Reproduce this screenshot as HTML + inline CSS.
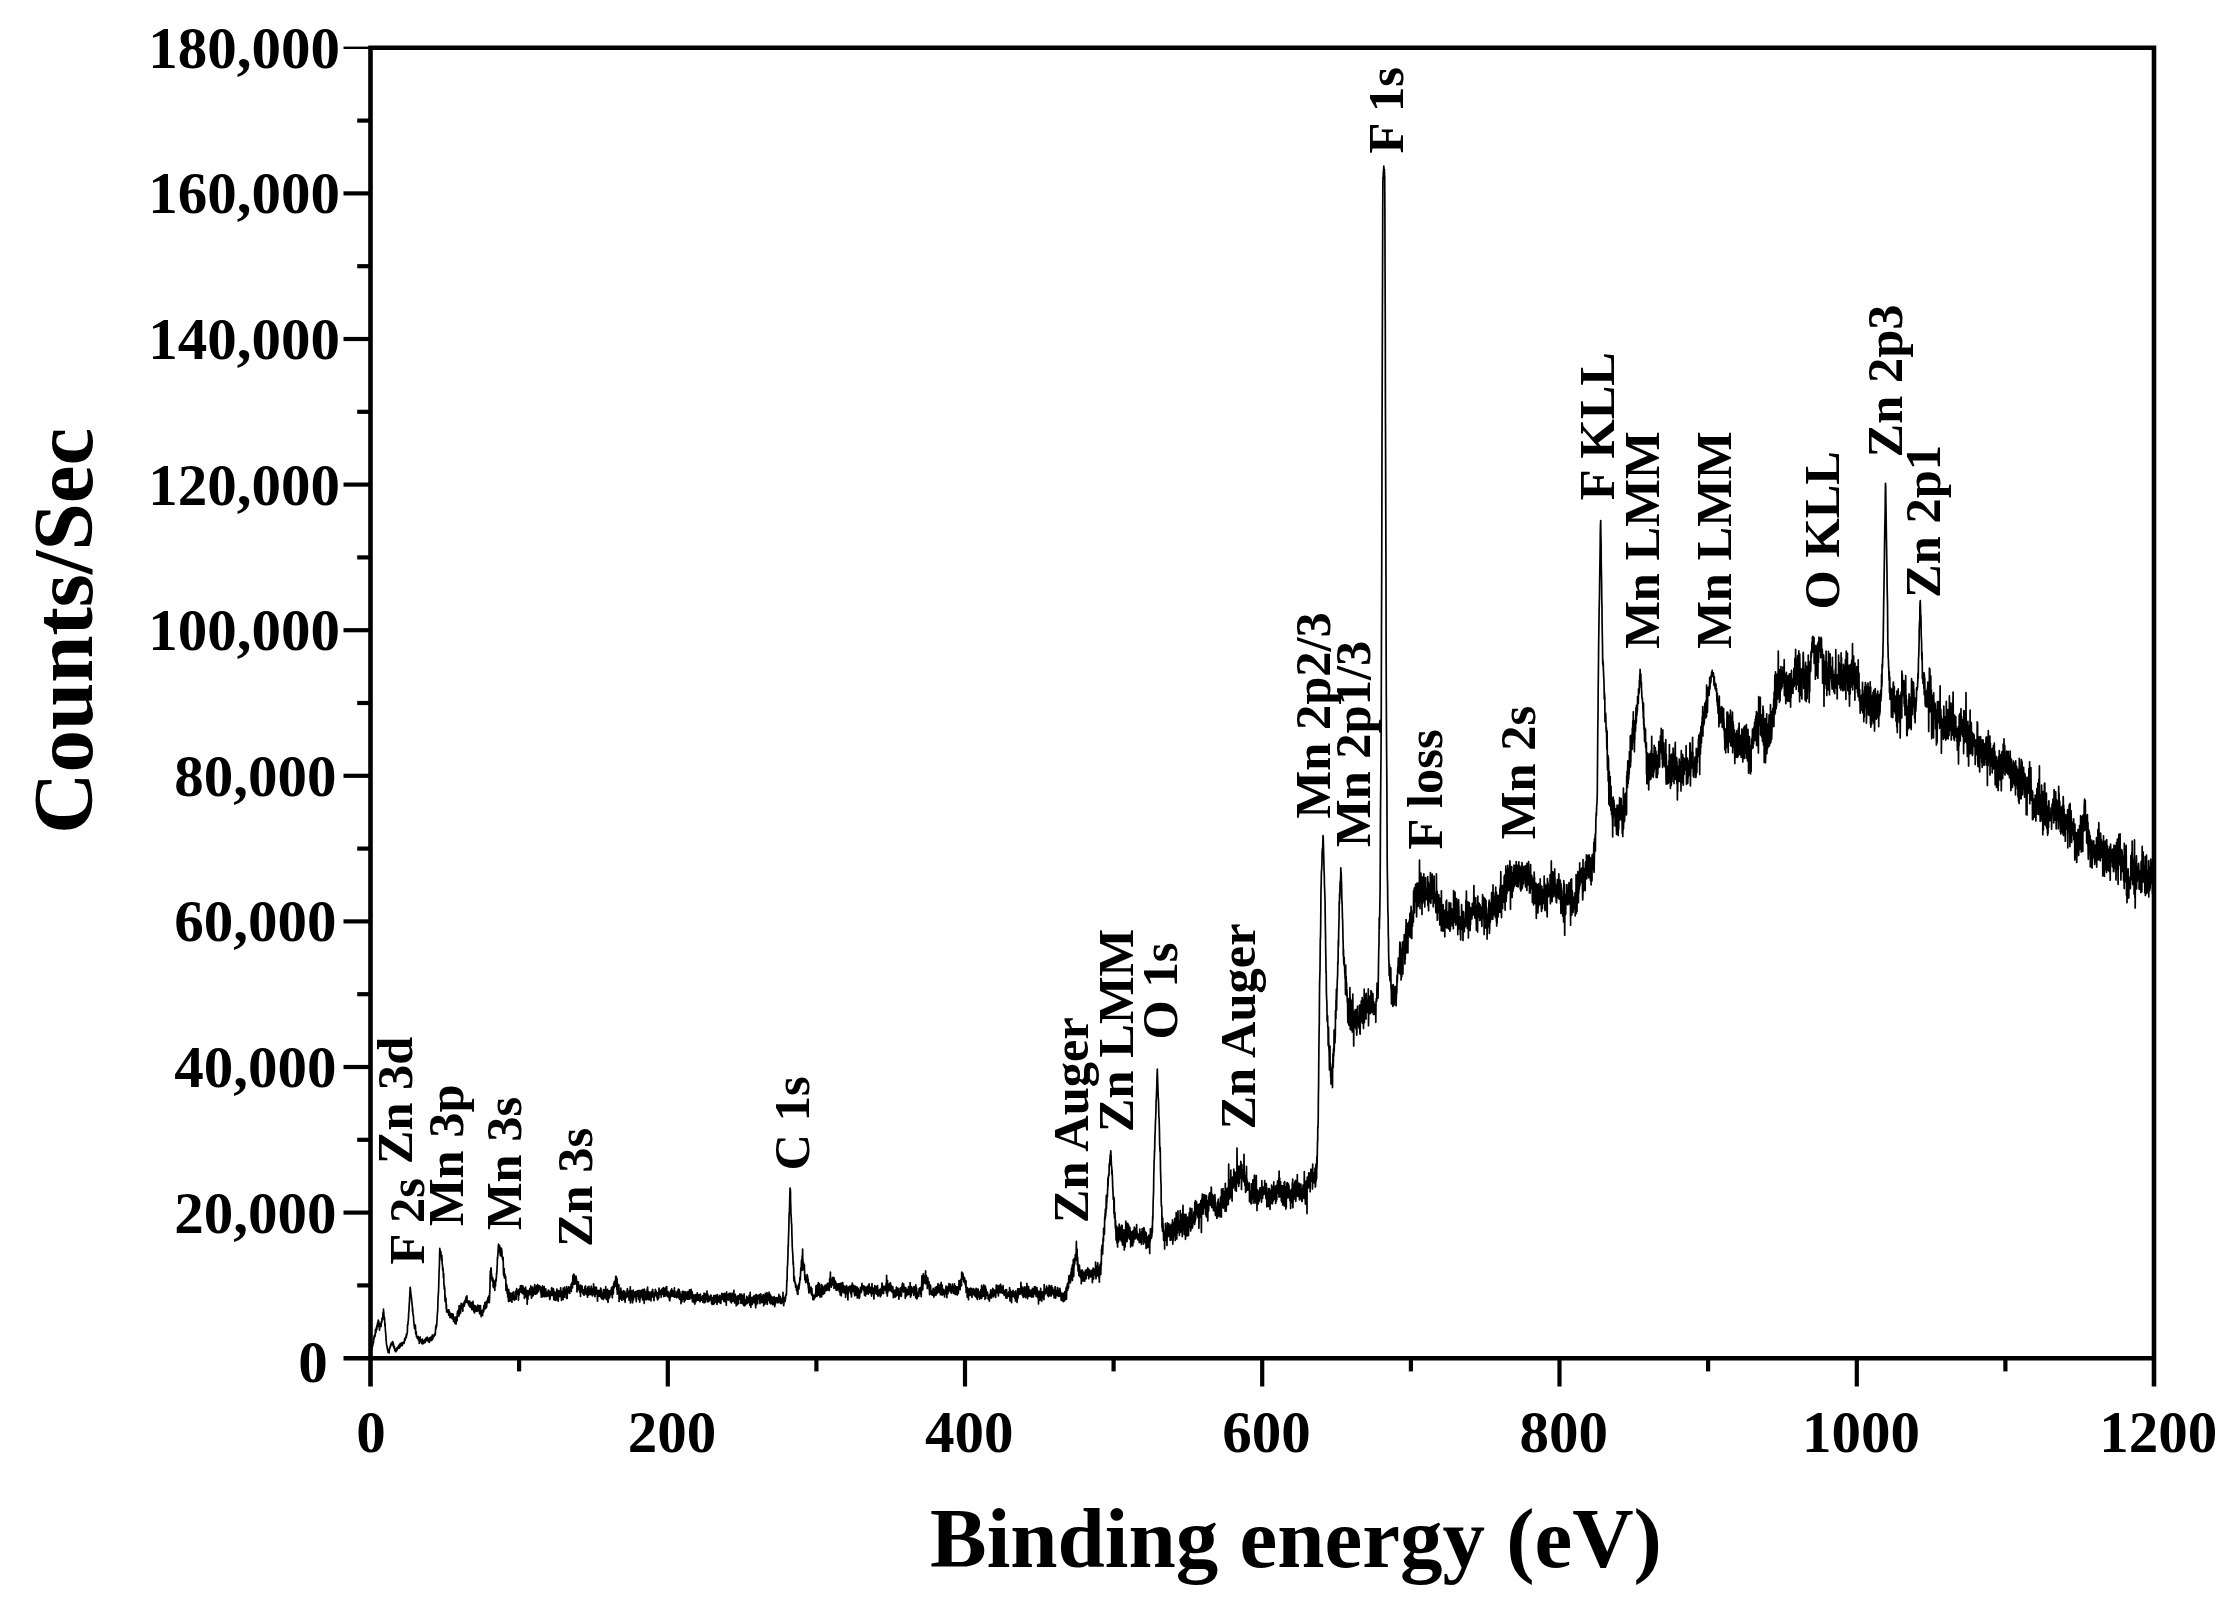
<!DOCTYPE html>
<html><head><meta charset="utf-8"><title>XPS survey spectrum</title>
<style>
html,body{margin:0;padding:0;background:#fff;overflow:hidden;}
svg{display:block;filter:blur(0.6px);}
text{font-family:'Liberation Serif','Times New Roman',Times,serif;font-weight:bold;fill:#000;}
.tk{font-size:59px;}
.pk{font-size:50.5px;}
.ti{font-size:85px;}
</style></head><body>
<svg width="2235" height="1615" viewBox="0 0 2235 1615">
<rect x="0" y="0" width="2235" height="1615" fill="#fff"/>
<polyline fill="none" stroke="#000" stroke-width="1.7" stroke-linejoin="round" points="370.8,1353.7 371.0,1353.1 371.2,1351.8 371.3,1350.4 371.5,1350.0 371.7,1348.6 371.9,1349.0 372.0,1349.7 372.2,1346.8 372.4,1345.8 372.6,1346.4 372.8,1345.4 372.9,1344.3 373.1,1342.2 373.3,1342.6 373.5,1342.8 373.7,1339.2 373.8,1339.7 374.0,1336.9 374.2,1337.0 374.4,1335.4 374.5,1337.1 374.7,1334.8 374.9,1336.5 375.1,1335.6 375.3,1334.3 375.4,1329.7 375.6,1332.3 375.8,1332.4 376.0,1331.9 376.2,1328.1 376.3,1329.2 376.5,1327.4 376.7,1326.8 376.9,1329.5 377.0,1325.0 377.2,1325.7 377.4,1326.6 377.6,1322.7 377.8,1322.7 377.9,1322.3 378.1,1322.2 378.3,1320.0 378.5,1323.3 378.6,1326.4 378.8,1321.1 379.0,1326.4 379.2,1325.5 379.4,1324.5 379.5,1330.1 379.7,1327.8 379.9,1323.7 380.1,1325.8 380.3,1326.5 380.4,1324.7 380.6,1326.0 380.8,1324.2 381.0,1325.2 381.1,1326.4 381.3,1321.9 381.5,1323.2 381.7,1321.6 381.9,1321.8 382.0,1318.2 382.2,1318.5 382.4,1318.3 382.6,1319.7 382.7,1319.4 382.9,1313.2 383.1,1312.5 383.3,1315.9 383.5,1309.2 383.6,1311.9 383.8,1312.2 384.0,1317.0 384.2,1317.4 384.4,1317.0 384.5,1318.7 384.7,1320.7 384.9,1325.9 385.1,1323.9 385.2,1326.6 385.4,1330.3 385.6,1332.0 385.8,1334.4 386.0,1335.6 386.1,1339.8 386.3,1341.6 386.5,1344.7 386.7,1345.1 386.9,1345.3 387.0,1347.1 387.2,1346.9 387.4,1349.5 387.6,1349.3 387.7,1350.8 387.9,1349.9 388.1,1352.5 388.3,1351.4 388.5,1351.6 388.6,1352.5 388.8,1351.1 389.0,1351.5 389.2,1352.9 389.3,1349.0 389.5,1348.4 389.7,1348.6 389.9,1348.1 390.1,1346.6 390.2,1346.1 390.4,1346.9 390.6,1346.3 390.8,1344.1 391.0,1344.9 391.1,1344.7 391.3,1343.1 391.5,1344.4 391.7,1342.7 391.8,1344.7 392.0,1343.5 392.2,1343.1 392.4,1342.6 392.6,1343.7 392.7,1341.7 392.9,1343.3 393.1,1345.6 393.3,1343.0 393.5,1347.0 393.6,1344.3 393.8,1347.7 394.0,1346.3 394.2,1348.5 394.3,1348.2 394.5,1346.7 394.7,1350.1 394.9,1350.7 395.1,1349.4 395.2,1349.5 395.4,1349.9 395.6,1349.4 395.8,1351.8 395.9,1350.3 396.1,1350.4 396.3,1349.3 396.5,1349.2 396.7,1348.2 396.8,1350.6 397.0,1348.7 397.2,1349.7 397.4,1348.4 397.6,1347.3 397.7,1347.5 397.9,1347.0 398.1,1347.4 398.3,1346.8 398.4,1346.7 398.6,1345.3 398.8,1345.8 399.0,1348.5 399.2,1345.6 399.3,1345.0 399.5,1346.5 399.7,1347.7 399.9,1344.1 400.0,1345.4 400.2,1344.8 400.4,1343.3 400.6,1346.3 400.8,1345.2 400.9,1345.2 401.1,1344.0 401.3,1345.4 401.5,1344.0 401.7,1344.3 401.8,1342.9 402.0,1342.6 402.2,1345.7 402.4,1343.1 402.5,1343.9 402.7,1343.3 402.9,1342.6 403.1,1342.3 403.3,1343.6 403.4,1342.1 403.6,1342.1 403.8,1342.1 404.0,1343.4 404.2,1342.5 404.3,1341.8 404.5,1340.0 404.7,1338.4 404.9,1340.9 405.0,1340.4 405.2,1338.4 405.4,1338.8 405.6,1338.6 405.8,1338.2 405.9,1337.8 406.1,1335.6 406.3,1337.5 406.5,1333.8 406.6,1335.8 406.8,1334.8 407.0,1333.5 407.2,1332.9 407.4,1330.8 407.5,1325.5 407.7,1324.0 407.9,1324.9 408.1,1321.4 408.3,1320.7 408.4,1319.7 408.6,1314.9 408.8,1311.4 409.0,1310.3 409.1,1306.9 409.3,1303.5 409.5,1300.5 409.7,1296.7 409.9,1293.0 410.0,1290.9 410.2,1287.4 410.4,1288.5 410.6,1291.7 410.8,1292.8 410.9,1294.7 411.1,1295.1 411.3,1296.9 411.5,1298.1 411.6,1299.7 411.8,1302.4 412.0,1302.9 412.2,1305.7 412.4,1307.5 412.5,1311.4 412.7,1308.7 412.9,1313.6 413.1,1314.0 413.2,1315.9 413.4,1315.5 413.6,1318.7 413.8,1322.3 414.0,1322.7 414.1,1324.7 414.3,1325.8 414.5,1328.7 414.7,1327.6 414.9,1324.9 415.0,1328.0 415.2,1326.6 415.4,1325.3 415.6,1330.4 415.7,1334.0 415.9,1332.8 416.1,1331.6 416.3,1332.7 416.5,1336.7 416.6,1336.0 416.8,1336.5 417.0,1336.6 417.2,1337.0 417.3,1338.4 417.5,1338.2 417.7,1337.9 417.9,1336.3 418.1,1338.8 418.2,1337.3 418.4,1340.1 418.6,1336.9 418.8,1338.7 419.0,1339.1 419.1,1337.4 419.3,1343.5 419.5,1341.8 419.7,1339.3 419.8,1341.3 420.0,1341.0 420.2,1337.1 420.4,1341.1 420.6,1340.7 420.7,1341.0 420.9,1339.5 421.1,1340.7 421.3,1340.8 421.5,1342.9 421.6,1341.8 421.8,1341.4 422.0,1343.6 422.2,1340.8 422.3,1341.1 422.5,1339.2 422.7,1343.9 422.9,1343.0 423.1,1343.7 423.2,1342.5 423.4,1341.7 423.6,1341.9 423.8,1341.0 423.9,1340.9 424.1,1341.1 424.3,1343.0 424.5,1341.5 424.7,1340.5 424.8,1339.6 425.0,1339.4 425.2,1342.4 425.4,1340.7 425.6,1339.9 425.7,1339.2 425.9,1338.1 426.1,1339.4 426.3,1340.7 426.4,1338.8 426.6,1339.0 426.8,1339.0 427.0,1339.5 427.2,1337.1 427.3,1339.0 427.5,1338.2 427.7,1340.6 427.9,1338.3 428.1,1340.3 428.2,1341.6 428.4,1339.1 428.6,1338.7 428.8,1339.8 428.9,1339.5 429.1,1338.1 429.3,1340.2 429.5,1342.3 429.7,1339.1 429.8,1339.2 430.0,1337.9 430.2,1339.8 430.4,1337.4 430.5,1337.3 430.7,1340.5 430.9,1337.2 431.1,1339.8 431.3,1340.3 431.4,1338.2 431.6,1338.5 431.8,1340.4 432.0,1337.0 432.2,1336.3 432.3,1335.0 432.5,1337.0 432.7,1339.0 432.9,1338.1 433.0,1335.1 433.2,1335.1 433.4,1335.5 433.6,1336.6 433.8,1335.8 433.9,1336.3 434.1,1336.4 434.3,1335.4 434.5,1335.4 434.6,1334.9 434.8,1333.7 435.0,1333.7 435.2,1334.9 435.4,1332.1 435.5,1330.5 435.7,1327.1 435.9,1329.2 436.1,1325.0 436.3,1324.9 436.4,1327.1 436.6,1325.9 436.8,1323.8 437.0,1319.9 437.1,1318.1 437.3,1314.2 437.5,1312.3 437.7,1310.7 437.9,1304.7 438.0,1299.9 438.2,1295.9 438.4,1293.6 438.6,1289.9 438.8,1283.2 438.9,1278.5 439.1,1271.0 439.3,1267.5 439.5,1261.5 439.6,1255.5 439.8,1248.3 440.0,1250.5 440.2,1250.6 440.4,1251.1 440.5,1252.1 440.7,1251.6 440.9,1252.2 441.1,1256.6 441.2,1255.9 441.4,1257.6 441.6,1260.1 441.8,1255.4 442.0,1258.6 442.1,1262.5 442.3,1264.9 442.5,1264.8 442.7,1270.2 442.9,1270.0 443.0,1268.0 443.2,1270.6 443.4,1277.2 443.6,1278.2 443.7,1273.6 443.9,1284.9 444.1,1284.9 444.3,1289.1 444.5,1286.3 444.6,1288.7 444.8,1288.4 445.0,1300.5 445.2,1295.1 445.4,1301.8 445.5,1297.5 445.7,1301.4 445.9,1298.3 446.1,1303.4 446.2,1308.5 446.4,1304.6 446.6,1312.0 446.8,1311.9 447.0,1309.8 447.1,1311.1 447.3,1311.3 447.5,1312.3 447.7,1311.2 447.8,1310.6 448.0,1311.9 448.2,1310.4 448.4,1309.9 448.6,1312.9 448.7,1315.2 448.9,1309.9 449.1,1313.6 449.3,1312.3 449.5,1311.8 449.6,1316.0 449.8,1313.2 450.0,1317.8 450.2,1313.0 450.3,1315.7 450.5,1314.6 450.7,1313.6 450.9,1316.7 451.1,1315.2 451.2,1317.0 451.4,1315.8 451.6,1313.7 451.8,1316.1 451.9,1316.6 452.1,1318.7 452.3,1315.0 452.5,1317.1 452.7,1313.8 452.8,1319.1 453.0,1315.8 453.2,1314.6 453.4,1318.5 453.6,1321.4 453.7,1316.3 453.9,1317.6 454.1,1318.7 454.3,1318.3 454.4,1321.8 454.6,1319.8 454.8,1320.3 455.0,1323.4 455.2,1321.1 455.3,1323.6 455.5,1320.1 455.7,1318.9 455.9,1316.9 456.1,1324.1 456.2,1318.8 456.4,1319.4 456.6,1318.2 456.8,1318.0 456.9,1317.2 457.1,1320.8 457.3,1313.4 457.5,1311.5 457.7,1312.1 457.8,1310.8 458.0,1315.7 458.2,1315.7 458.4,1311.2 458.5,1310.0 458.7,1312.2 458.9,1316.3 459.1,1305.6 459.3,1313.5 459.4,1309.2 459.6,1314.1 459.8,1308.4 460.0,1310.0 460.2,1306.5 460.3,1307.5 460.5,1313.1 460.7,1311.3 460.9,1307.8 461.0,1306.3 461.2,1303.3 461.4,1306.9 461.6,1307.6 461.8,1307.2 461.9,1306.9 462.1,1304.0 462.3,1306.6 462.5,1306.5 462.7,1309.8 462.8,1311.1 463.0,1305.7 463.2,1303.9 463.4,1305.5 463.5,1303.9 463.7,1303.3 463.9,1304.9 464.1,1302.0 464.3,1306.2 464.4,1303.9 464.6,1305.0 464.8,1303.1 465.0,1301.2 465.1,1300.2 465.3,1301.8 465.5,1300.5 465.7,1302.3 465.9,1301.2 466.0,1297.1 466.2,1300.7 466.4,1297.0 466.6,1299.3 466.8,1300.4 466.9,1295.8 467.1,1302.1 467.3,1302.5 467.5,1302.0 467.6,1301.6 467.8,1302.1 468.0,1300.8 468.2,1303.0 468.4,1302.6 468.5,1304.7 468.7,1301.4 468.9,1305.3 469.1,1305.2 469.2,1304.6 469.4,1303.9 469.6,1306.6 469.8,1301.0 470.0,1306.6 470.1,1306.2 470.3,1306.4 470.5,1306.8 470.7,1304.2 470.9,1305.3 471.0,1307.7 471.2,1307.3 471.4,1306.9 471.6,1302.6 471.7,1308.0 471.9,1309.7 472.1,1309.5 472.3,1307.6 472.5,1303.2 472.6,1309.8 472.8,1307.2 473.0,1301.3 473.2,1308.8 473.4,1304.3 473.5,1304.9 473.7,1306.8 473.9,1311.6 474.1,1307.6 474.2,1309.3 474.4,1313.0 474.6,1312.6 474.8,1308.4 475.0,1308.1 475.1,1305.5 475.3,1306.9 475.5,1309.7 475.7,1309.6 475.8,1308.9 476.0,1311.1 476.2,1306.7 476.4,1308.5 476.6,1310.4 476.7,1310.1 476.9,1311.4 477.1,1309.8 477.3,1308.1 477.5,1309.9 477.6,1306.6 477.8,1305.2 478.0,1310.9 478.2,1309.5 478.3,1310.6 478.5,1306.0 478.7,1309.5 478.9,1309.2 479.1,1308.8 479.2,1305.6 479.4,1310.6 479.6,1313.8 479.8,1312.8 480.0,1310.6 480.1,1312.2 480.3,1314.2 480.5,1305.7 480.7,1312.2 480.8,1313.9 481.0,1314.3 481.2,1316.7 481.4,1315.3 481.6,1313.2 481.7,1313.1 481.9,1314.1 482.1,1310.7 482.3,1311.5 482.4,1313.4 482.6,1315.5 482.8,1310.0 483.0,1309.8 483.2,1309.9 483.3,1312.3 483.5,1308.5 483.7,1311.8 483.9,1305.5 484.1,1307.0 484.2,1306.7 484.4,1308.8 484.6,1309.2 484.8,1302.7 484.9,1304.0 485.1,1306.9 485.3,1304.3 485.5,1302.1 485.7,1308.4 485.8,1307.0 486.0,1306.9 486.2,1304.5 486.4,1307.7 486.5,1304.0 486.7,1306.9 486.9,1301.1 487.1,1300.7 487.3,1302.9 487.4,1299.9 487.6,1303.0 487.8,1301.3 488.0,1297.5 488.2,1299.6 488.3,1297.9 488.5,1300.8 488.7,1296.0 488.9,1296.0 489.0,1300.1 489.2,1302.6 489.4,1301.4 489.6,1295.4 489.8,1291.1 489.9,1290.1 490.1,1279.5 490.3,1271.0 490.5,1272.3 490.7,1274.3 490.8,1270.2 491.0,1267.8 491.2,1269.4 491.4,1277.9 491.5,1273.4 491.7,1276.3 491.9,1278.3 492.1,1280.5 492.3,1277.9 492.4,1281.5 492.6,1277.7 492.8,1280.3 493.0,1279.0 493.1,1286.8 493.3,1284.0 493.5,1282.7 493.7,1284.7 493.9,1285.5 494.0,1287.8 494.2,1281.0 494.4,1282.2 494.6,1283.5 494.8,1290.5 494.9,1285.8 495.1,1282.5 495.3,1283.8 495.5,1286.0 495.6,1280.1 495.8,1279.1 496.0,1281.4 496.2,1279.2 496.4,1278.0 496.5,1273.2 496.7,1274.4 496.9,1271.3 497.1,1266.7 497.3,1264.2 497.4,1257.7 497.6,1258.7 497.8,1254.9 498.0,1253.1 498.1,1250.8 498.3,1246.9 498.5,1244.2 498.7,1247.4 498.9,1246.4 499.0,1247.5 499.2,1247.5 499.4,1248.4 499.6,1245.6 499.7,1252.2 499.9,1251.0 500.1,1253.3 500.3,1255.8 500.5,1252.0 500.6,1247.9 500.8,1250.5 501.0,1250.0 501.2,1252.3 501.4,1254.5 501.5,1248.3 501.7,1256.3 501.9,1250.4 502.1,1257.2 502.2,1256.9 502.4,1257.4 502.6,1259.6 502.8,1259.1 503.0,1260.1 503.1,1257.3 503.3,1265.0 503.5,1273.6 503.7,1275.4 503.8,1274.1 504.0,1272.9 504.2,1268.6 504.4,1277.9 504.6,1273.3 504.7,1274.4 504.9,1274.7 505.1,1277.2 505.3,1276.4 505.5,1278.9 505.6,1276.4 505.8,1280.1 506.0,1290.4 506.2,1283.5 506.3,1284.2 506.5,1288.9 506.7,1289.7 506.9,1285.2 507.1,1289.3 507.2,1293.5 507.4,1292.1 507.6,1292.2 507.8,1297.1 508.0,1291.0 508.1,1293.8 508.3,1292.5 508.5,1301.6 508.7,1289.4 508.8,1293.6 509.0,1294.5 509.2,1298.3 509.4,1298.6 509.6,1301.2 509.7,1293.2 509.9,1300.1 510.1,1297.5 510.3,1296.9 510.4,1300.6 510.6,1296.5 510.8,1293.0 511.0,1297.5 511.2,1294.1 511.3,1296.3 511.5,1299.0 511.7,1298.7 511.9,1302.1 512.1,1297.1 512.2,1293.3 512.4,1295.5 512.6,1293.4 512.8,1294.1 512.9,1298.8 513.1,1295.7 513.3,1291.9 513.5,1299.4 513.7,1297.1 513.8,1298.4 514.0,1297.5 514.2,1298.9 514.4,1297.1 514.6,1300.3 514.7,1297.8 514.9,1297.5 515.1,1297.3 515.3,1291.7 515.4,1295.2 515.6,1294.6 515.8,1295.7 516.0,1290.9 516.2,1299.2 516.3,1294.5 516.5,1290.4 516.7,1288.7 516.9,1292.6 517.0,1293.0 517.2,1291.0 517.4,1293.2 517.6,1290.9 517.8,1294.3 517.9,1290.5 518.1,1292.4 518.3,1295.4 518.5,1300.1 518.7,1289.6 518.8,1291.2 519.0,1290.1 519.2,1294.9 519.4,1289.2 519.5,1291.2 519.7,1292.5 519.9,1289.6 520.1,1289.5 520.3,1290.8 520.4,1285.8 520.6,1287.5 520.8,1290.4 521.0,1291.8 521.1,1290.6 521.3,1285.5 521.5,1289.2 521.7,1292.8 521.9,1291.8 522.0,1289.7 522.2,1287.0 522.4,1291.5 522.6,1287.7 522.8,1285.9 522.9,1287.0 523.1,1293.9 523.3,1290.2 523.5,1293.2 523.6,1288.3 523.8,1292.8 524.0,1288.3 524.2,1289.7 524.4,1298.4 524.5,1293.4 524.7,1289.8 524.9,1291.4 525.1,1292.9 525.3,1295.9 525.4,1290.0 525.6,1287.2 525.8,1292.0 526.0,1293.1 526.1,1293.5 526.3,1297.4 526.5,1294.5 526.7,1296.2 526.9,1290.3 527.0,1296.5 527.2,1304.3 527.4,1296.3 527.6,1294.7 527.7,1294.4 527.9,1299.4 528.1,1290.9 528.3,1293.3 528.5,1295.0 528.6,1295.7 528.8,1291.8 529.0,1294.0 529.2,1291.9 529.4,1292.9 529.5,1291.9 529.7,1288.5 529.9,1291.8 530.1,1294.4 530.2,1288.5 530.4,1290.6 530.6,1293.3 530.8,1285.8 531.0,1291.6 531.1,1287.7 531.3,1294.5 531.5,1298.1 531.7,1297.2 531.9,1290.2 532.0,1293.2 532.2,1291.3 532.4,1291.3 532.6,1295.9 532.7,1287.0 532.9,1294.5 533.1,1291.1 533.3,1295.7 533.5,1291.9 533.6,1289.3 533.8,1292.3 534.0,1293.7 534.2,1291.5 534.3,1292.9 534.5,1289.8 534.7,1284.7 534.9,1294.1 535.1,1293.4 535.2,1291.6 535.4,1291.3 535.6,1294.2 535.8,1289.4 536.0,1288.5 536.1,1289.9 536.3,1294.0 536.5,1285.9 536.7,1293.6 536.8,1287.8 537.0,1286.1 537.2,1293.2 537.4,1288.7 537.6,1284.7 537.7,1287.4 537.9,1291.2 538.1,1291.8 538.3,1286.6 538.4,1289.0 538.6,1289.8 538.8,1285.6 539.0,1288.6 539.2,1287.4 539.3,1285.9 539.5,1286.1 539.7,1288.0 539.9,1288.0 540.1,1286.4 540.2,1287.0 540.4,1292.0 540.6,1289.5 540.8,1291.9 540.9,1293.2 541.1,1291.6 541.3,1297.1 541.5,1287.9 541.7,1293.2 541.8,1290.1 542.0,1297.0 542.2,1296.8 542.4,1285.9 542.6,1289.1 542.7,1294.4 542.9,1295.0 543.1,1295.0 543.3,1292.7 543.4,1294.4 543.6,1296.4 543.8,1293.1 544.0,1296.6 544.2,1286.6 544.3,1295.5 544.5,1290.5 544.7,1296.6 544.9,1293.0 545.0,1291.0 545.2,1294.9 545.4,1291.0 545.6,1291.0 545.8,1288.9 545.9,1293.6 546.1,1295.1 546.3,1296.6 546.5,1292.9 546.7,1296.4 546.8,1293.2 547.0,1292.8 547.2,1294.7 547.4,1296.1 547.5,1291.8 547.7,1292.1 547.9,1292.3 548.1,1293.1 548.3,1290.2 548.4,1296.0 548.6,1291.8 548.8,1294.5 549.0,1290.7 549.2,1294.3 549.3,1294.5 549.5,1292.2 549.7,1299.6 549.9,1294.8 550.0,1299.0 550.2,1296.7 550.4,1291.9 550.6,1292.8 550.8,1295.3 550.9,1294.4 551.1,1294.3 551.3,1293.3 551.5,1288.8 551.6,1293.6 551.8,1287.7 552.0,1295.4 552.2,1292.2 552.4,1292.3 552.5,1293.9 552.7,1295.4 552.9,1290.4 553.1,1289.6 553.3,1291.7 553.4,1288.9 553.6,1292.2 553.8,1299.7 554.0,1292.1 554.1,1297.1 554.3,1291.3 554.5,1296.2 554.7,1294.4 554.9,1295.2 555.0,1297.1 555.2,1300.5 555.4,1295.9 555.6,1295.7 555.7,1292.4 555.9,1296.9 556.1,1294.4 556.3,1297.4 556.5,1294.8 556.6,1299.9 556.8,1289.0 557.0,1293.8 557.2,1297.1 557.4,1292.9 557.5,1292.2 557.7,1293.7 557.9,1290.5 558.1,1294.7 558.2,1301.2 558.4,1297.4 558.6,1290.8 558.8,1291.3 559.0,1292.6 559.1,1296.6 559.3,1291.3 559.5,1291.7 559.7,1296.3 559.9,1296.3 560.0,1292.8 560.2,1290.7 560.4,1289.6 560.6,1292.2 560.7,1287.8 560.9,1296.7 561.1,1292.8 561.3,1296.2 561.5,1300.4 561.6,1298.5 561.8,1291.7 562.0,1297.8 562.2,1298.7 562.3,1293.1 562.5,1292.5 562.7,1295.0 562.9,1290.6 563.1,1299.6 563.2,1288.0 563.4,1291.7 563.6,1294.1 563.8,1294.1 564.0,1295.0 564.1,1295.1 564.3,1293.5 564.5,1297.3 564.7,1287.2 564.8,1293.3 565.0,1290.9 565.2,1293.2 565.4,1293.3 565.6,1289.6 565.7,1290.2 565.9,1294.3 566.1,1292.8 566.3,1289.5 566.4,1297.6 566.6,1298.3 566.8,1286.6 567.0,1291.9 567.2,1298.5 567.3,1293.2 567.5,1291.4 567.7,1290.0 567.9,1288.9 568.1,1289.9 568.2,1288.8 568.4,1292.7 568.6,1289.2 568.8,1289.0 568.9,1286.6 569.1,1290.1 569.3,1287.5 569.5,1289.6 569.7,1293.4 569.8,1291.2 570.0,1291.6 570.2,1290.7 570.4,1289.4 570.6,1288.4 570.7,1287.4 570.9,1290.4 571.1,1284.0 571.3,1291.4 571.4,1286.7 571.6,1283.7 571.8,1284.1 572.0,1283.0 572.2,1285.4 572.3,1282.0 572.5,1287.9 572.7,1281.0 572.9,1275.5 573.0,1280.3 573.2,1275.0 573.4,1281.1 573.6,1284.2 573.8,1282.0 573.9,1274.0 574.1,1275.4 574.3,1284.2 574.5,1278.0 574.7,1276.1 574.8,1279.4 575.0,1284.3 575.2,1280.7 575.4,1277.1 575.5,1278.8 575.7,1280.7 575.9,1277.0 576.1,1276.2 576.3,1281.1 576.4,1278.3 576.6,1282.2 576.8,1283.5 577.0,1292.0 577.2,1281.4 577.3,1284.3 577.5,1284.6 577.7,1287.0 577.9,1289.3 578.0,1284.7 578.2,1284.0 578.4,1281.8 578.6,1284.5 578.8,1289.6 578.9,1288.5 579.1,1285.7 579.3,1288.2 579.5,1290.0 579.6,1291.9 579.8,1289.2 580.0,1290.8 580.2,1286.0 580.4,1288.0 580.5,1296.4 580.7,1285.0 580.9,1290.6 581.1,1292.3 581.3,1290.6 581.4,1289.3 581.6,1291.6 581.8,1291.7 582.0,1291.5 582.1,1286.1 582.3,1291.3 582.5,1289.1 582.7,1289.9 582.9,1292.2 583.0,1293.4 583.2,1294.1 583.4,1289.8 583.6,1294.0 583.7,1294.6 583.9,1294.5 584.1,1295.2 584.3,1290.5 584.5,1290.4 584.6,1293.4 584.8,1286.8 585.0,1291.6 585.2,1289.4 585.4,1290.0 585.5,1285.9 585.7,1288.6 585.9,1291.3 586.1,1294.1 586.2,1294.5 586.4,1291.4 586.6,1291.1 586.8,1289.2 587.0,1293.0 587.1,1291.1 587.3,1293.6 587.5,1297.1 587.7,1291.6 587.9,1287.1 588.0,1288.9 588.2,1287.0 588.4,1287.7 588.6,1295.1 588.7,1291.7 588.9,1286.3 589.1,1292.7 589.3,1294.5 589.5,1289.4 589.6,1288.4 589.8,1289.4 590.0,1291.2 590.2,1292.3 590.3,1294.0 590.5,1294.1 590.7,1294.1 590.9,1294.7 591.1,1292.7 591.2,1286.2 591.4,1290.6 591.6,1292.1 591.8,1290.1 592.0,1294.1 592.1,1290.4 592.3,1288.7 592.5,1296.0 592.7,1293.6 592.8,1292.3 593.0,1294.4 593.2,1294.7 593.4,1292.5 593.6,1283.9 593.7,1289.2 593.9,1288.9 594.1,1288.0 594.3,1291.5 594.5,1294.4 594.6,1289.3 594.8,1287.3 595.0,1296.8 595.2,1289.4 595.3,1287.1 595.5,1291.6 595.7,1292.3 595.9,1289.0 596.1,1293.8 596.2,1290.1 596.4,1287.3 596.6,1292.5 596.8,1294.5 596.9,1290.4 597.1,1293.4 597.3,1292.2 597.5,1301.2 597.7,1290.5 597.8,1296.8 598.0,1292.5 598.2,1292.2 598.4,1294.7 598.6,1295.2 598.7,1296.2 598.9,1293.3 599.1,1290.4 599.3,1290.5 599.4,1293.6 599.6,1293.8 599.8,1296.3 600.0,1293.4 600.2,1295.4 600.3,1296.8 600.5,1292.8 600.7,1288.0 600.9,1289.0 601.0,1288.4 601.2,1297.8 601.4,1290.6 601.6,1297.1 601.8,1295.3 601.9,1299.0 602.1,1297.0 602.3,1293.8 602.5,1293.7 602.7,1294.7 602.8,1295.1 603.0,1293.0 603.2,1294.6 603.4,1299.6 603.5,1289.6 603.7,1295.5 603.9,1292.0 604.1,1295.3 604.3,1297.2 604.4,1294.5 604.6,1297.0 604.8,1289.8 605.0,1297.9 605.2,1292.7 605.3,1296.4 605.5,1295.1 605.7,1286.7 605.9,1292.2 606.0,1295.2 606.2,1299.2 606.4,1295.3 606.6,1295.2 606.8,1290.1 606.9,1298.8 607.1,1299.9 607.3,1294.4 607.5,1293.7 607.6,1289.4 607.8,1297.0 608.0,1302.5 608.2,1296.5 608.4,1298.2 608.5,1296.0 608.7,1291.4 608.9,1298.5 609.1,1290.8 609.3,1293.9 609.4,1295.4 609.6,1297.3 609.8,1295.9 610.0,1295.8 610.1,1292.2 610.3,1290.6 610.5,1294.6 610.7,1292.1 610.9,1290.1 611.0,1290.0 611.2,1292.2 611.4,1287.8 611.6,1289.1 611.8,1288.0 611.9,1293.3 612.1,1293.5 612.3,1297.8 612.5,1286.5 612.6,1288.5 612.8,1292.9 613.0,1288.9 613.2,1288.0 613.4,1293.9 613.5,1287.0 613.7,1284.0 613.9,1283.0 614.1,1287.8 614.2,1287.2 614.4,1281.3 614.6,1282.1 614.8,1286.5 615.0,1286.1 615.1,1281.6 615.3,1285.2 615.5,1284.5 615.7,1276.4 615.9,1281.6 616.0,1284.3 616.2,1281.4 616.4,1276.7 616.6,1283.1 616.7,1286.9 616.9,1290.0 617.1,1278.6 617.3,1294.2 617.5,1283.1 617.6,1290.2 617.8,1291.7 618.0,1291.6 618.2,1289.8 618.3,1286.6 618.5,1292.8 618.7,1289.5 618.9,1284.9 619.1,1301.5 619.2,1295.5 619.4,1299.1 619.6,1291.2 619.8,1298.5 620.0,1299.1 620.1,1299.1 620.3,1294.5 620.5,1291.1 620.7,1294.2 620.8,1288.2 621.0,1289.7 621.2,1295.1 621.4,1291.8 621.6,1294.3 621.7,1294.4 621.9,1300.4 622.1,1298.5 622.3,1294.4 622.5,1298.2 622.6,1292.2 622.8,1293.5 623.0,1297.2 623.2,1290.8 623.3,1293.7 623.5,1290.7 623.7,1295.0 623.9,1299.6 624.1,1292.5 624.2,1295.5 624.4,1292.3 624.6,1291.6 624.8,1291.4 624.9,1299.5 625.1,1302.3 625.3,1296.7 625.5,1293.2 625.7,1297.5 625.8,1294.4 626.0,1297.8 626.2,1296.3 626.4,1296.2 626.6,1297.2 626.7,1293.6 626.9,1294.2 627.1,1290.2 627.3,1294.0 627.4,1288.5 627.6,1294.9 627.8,1292.4 628.0,1295.6 628.2,1296.6 628.3,1291.0 628.5,1292.8 628.7,1292.5 628.9,1297.5 629.1,1300.3 629.2,1297.8 629.4,1294.2 629.6,1299.6 629.8,1290.7 629.9,1299.6 630.1,1293.2 630.3,1286.9 630.5,1303.0 630.7,1299.8 630.8,1292.1 631.0,1295.7 631.2,1294.5 631.4,1295.5 631.5,1290.9 631.7,1293.3 631.9,1296.8 632.1,1296.2 632.3,1299.2 632.4,1295.9 632.6,1302.8 632.8,1293.7 633.0,1296.7 633.2,1290.2 633.3,1292.2 633.5,1299.8 633.7,1293.0 633.9,1297.3 634.0,1295.4 634.2,1292.4 634.4,1294.3 634.6,1293.6 634.8,1293.5 634.9,1297.0 635.1,1296.5 635.3,1292.6 635.5,1291.5 635.6,1294.9 635.8,1293.6 636.0,1296.8 636.2,1301.6 636.4,1296.2 636.5,1293.6 636.7,1293.2 636.9,1291.2 637.1,1291.1 637.3,1290.9 637.4,1292.8 637.6,1292.8 637.8,1296.3 638.0,1293.0 638.1,1293.3 638.3,1290.7 638.5,1299.2 638.7,1295.9 638.9,1299.7 639.0,1296.7 639.2,1298.7 639.4,1293.5 639.6,1296.3 639.8,1302.1 639.9,1290.4 640.1,1297.4 640.3,1298.8 640.5,1295.0 640.6,1295.9 640.8,1297.4 641.0,1291.5 641.2,1294.7 641.4,1290.9 641.5,1291.5 641.7,1291.7 641.9,1293.2 642.1,1294.1 642.2,1295.1 642.4,1289.5 642.6,1299.9 642.8,1297.5 643.0,1296.3 643.1,1293.1 643.3,1294.0 643.5,1296.0 643.7,1295.7 643.9,1289.4 644.0,1296.8 644.2,1303.4 644.4,1289.1 644.6,1297.7 644.7,1295.9 644.9,1294.5 645.1,1299.0 645.3,1291.3 645.5,1295.4 645.6,1299.4 645.8,1294.4 646.0,1293.8 646.2,1295.4 646.4,1293.7 646.5,1299.8 646.7,1292.3 646.9,1297.7 647.1,1289.0 647.2,1297.1 647.4,1294.7 647.6,1287.2 647.8,1295.0 648.0,1291.8 648.1,1293.7 648.3,1299.7 648.5,1291.7 648.7,1291.9 648.8,1299.4 649.0,1295.5 649.2,1299.8 649.4,1296.2 649.6,1292.5 649.7,1295.0 649.9,1299.0 650.1,1298.1 650.3,1295.3 650.5,1295.4 650.6,1294.9 650.8,1293.5 651.0,1301.0 651.2,1295.2 651.3,1291.7 651.5,1293.6 651.7,1297.1 651.9,1296.8 652.1,1294.3 652.2,1292.6 652.4,1294.6 652.6,1289.4 652.8,1290.4 652.9,1296.7 653.1,1292.7 653.3,1295.3 653.5,1297.8 653.7,1296.1 653.8,1294.2 654.0,1300.6 654.2,1296.3 654.4,1293.3 654.6,1296.7 654.7,1295.8 654.9,1292.2 655.1,1295.1 655.3,1294.6 655.4,1289.4 655.6,1294.9 655.8,1294.8 656.0,1294.5 656.2,1291.0 656.3,1295.0 656.5,1296.0 656.7,1296.5 656.9,1292.8 657.1,1298.1 657.2,1292.6 657.4,1295.5 657.6,1300.0 657.8,1293.9 657.9,1294.3 658.1,1298.9 658.3,1294.3 658.5,1294.4 658.7,1295.8 658.8,1298.1 659.0,1288.1 659.2,1292.0 659.4,1291.2 659.5,1290.8 659.7,1291.3 659.9,1291.1 660.1,1294.4 660.3,1290.6 660.4,1293.5 660.6,1294.1 660.8,1290.5 661.0,1293.0 661.2,1297.3 661.3,1293.2 661.5,1290.2 661.7,1291.7 661.9,1289.0 662.0,1292.4 662.2,1294.1 662.4,1288.9 662.6,1290.6 662.8,1294.4 662.9,1289.4 663.1,1291.3 663.3,1287.6 663.5,1288.0 663.7,1288.8 663.8,1296.6 664.0,1288.9 664.2,1288.5 664.4,1288.4 664.5,1289.5 664.7,1291.9 664.9,1290.6 665.1,1296.1 665.3,1290.9 665.4,1294.7 665.6,1291.5 665.8,1292.7 666.0,1287.1 666.1,1291.2 666.3,1291.8 666.5,1291.7 666.7,1286.6 666.9,1295.9 667.0,1292.6 667.2,1292.9 667.4,1293.9 667.6,1294.3 667.8,1296.6 667.9,1292.0 668.1,1291.7 668.3,1297.1 668.5,1296.8 668.6,1295.4 668.8,1294.9 669.0,1294.2 669.2,1296.4 669.4,1300.0 669.5,1293.4 669.7,1300.8 669.9,1298.7 670.1,1294.8 670.2,1298.2 670.4,1291.5 670.6,1290.6 670.8,1291.8 671.0,1294.2 671.1,1294.4 671.3,1293.7 671.5,1295.4 671.7,1288.9 671.9,1296.5 672.0,1290.9 672.2,1293.1 672.4,1293.8 672.6,1291.5 672.7,1290.9 672.9,1291.9 673.1,1294.7 673.3,1296.3 673.5,1296.1 673.6,1291.5 673.8,1291.9 674.0,1291.4 674.2,1295.2 674.4,1287.9 674.5,1297.2 674.7,1292.1 674.9,1291.1 675.1,1294.3 675.2,1296.3 675.4,1294.2 675.6,1296.3 675.8,1293.7 676.0,1296.9 676.1,1297.0 676.3,1293.3 676.5,1297.8 676.7,1294.3 676.8,1294.2 677.0,1291.5 677.2,1293.5 677.4,1296.8 677.6,1290.9 677.7,1296.8 677.9,1296.1 678.1,1296.1 678.3,1289.2 678.5,1295.4 678.6,1297.8 678.8,1293.9 679.0,1296.5 679.2,1289.6 679.3,1298.5 679.5,1294.8 679.7,1299.4 679.9,1291.7 680.1,1299.1 680.2,1296.5 680.4,1299.5 680.6,1294.6 680.8,1295.4 681.0,1303.7 681.1,1294.8 681.3,1295.0 681.5,1296.2 681.7,1293.9 681.8,1300.2 682.0,1301.6 682.2,1294.5 682.4,1291.4 682.6,1299.6 682.7,1299.3 682.9,1298.4 683.1,1299.2 683.3,1293.3 683.4,1295.2 683.6,1291.6 683.8,1291.5 684.0,1298.3 684.2,1293.5 684.3,1302.0 684.5,1295.6 684.7,1293.5 684.9,1297.6 685.1,1300.5 685.2,1296.7 685.4,1291.8 685.6,1296.4 685.8,1299.3 685.9,1294.0 686.1,1293.2 686.3,1298.4 686.5,1295.9 686.7,1292.4 686.8,1294.5 687.0,1293.5 687.2,1296.6 687.4,1296.1 687.5,1299.2 687.7,1298.0 687.9,1291.5 688.1,1297.2 688.3,1298.7 688.4,1297.5 688.6,1299.1 688.8,1294.6 689.0,1293.5 689.2,1298.9 689.3,1293.1 689.5,1289.9 689.7,1299.1 689.9,1294.0 690.0,1295.2 690.2,1292.0 690.4,1292.2 690.6,1292.6 690.8,1294.9 690.9,1297.0 691.1,1289.4 691.3,1298.1 691.5,1292.6 691.7,1293.0 691.8,1298.1 692.0,1296.0 692.2,1291.9 692.4,1301.7 692.5,1294.0 692.7,1297.3 692.9,1297.3 693.1,1300.9 693.3,1295.6 693.4,1299.9 693.6,1295.0 693.8,1302.3 694.0,1295.1 694.1,1296.3 694.3,1302.9 694.5,1298.4 694.7,1297.9 694.9,1304.1 695.0,1298.8 695.2,1295.5 695.4,1300.0 695.6,1294.6 695.8,1301.3 695.9,1301.6 696.1,1296.6 696.3,1296.5 696.5,1298.9 696.6,1298.5 696.8,1295.8 697.0,1300.3 697.2,1292.9 697.4,1297.6 697.5,1297.7 697.7,1298.1 697.9,1299.8 698.1,1295.3 698.3,1300.5 698.4,1298.2 698.6,1296.7 698.8,1294.6 699.0,1294.9 699.1,1299.2 699.3,1295.2 699.5,1298.0 699.7,1300.7 699.9,1300.4 700.0,1301.8 700.2,1296.3 700.4,1294.0 700.6,1299.9 700.7,1297.8 700.9,1300.1 701.1,1296.9 701.3,1300.3 701.5,1299.3 701.6,1299.0 701.8,1298.5 702.0,1298.2 702.2,1297.8 702.4,1297.8 702.5,1300.0 702.7,1295.7 702.9,1302.1 703.1,1296.8 703.2,1299.9 703.4,1296.7 703.6,1296.2 703.8,1302.6 704.0,1295.9 704.1,1293.1 704.3,1294.6 704.5,1295.7 704.7,1302.7 704.8,1297.2 705.0,1299.2 705.2,1293.8 705.4,1297.7 705.6,1298.7 705.7,1302.0 705.9,1295.0 706.1,1298.9 706.3,1298.1 706.5,1294.5 706.6,1297.4 706.8,1296.8 707.0,1291.0 707.2,1299.4 707.3,1299.3 707.5,1296.5 707.7,1294.0 707.9,1302.0 708.1,1298.5 708.2,1300.6 708.4,1301.7 708.6,1296.1 708.8,1299.9 709.0,1296.8 709.1,1297.3 709.3,1297.2 709.5,1297.5 709.7,1300.6 709.8,1297.8 710.0,1297.1 710.2,1296.8 710.4,1298.6 710.6,1295.1 710.7,1296.3 710.9,1297.6 711.1,1295.3 711.3,1297.6 711.4,1296.2 711.6,1303.7 711.8,1301.8 712.0,1299.4 712.2,1298.0 712.3,1304.4 712.5,1299.1 712.7,1297.9 712.9,1299.0 713.1,1299.0 713.2,1302.2 713.4,1298.1 713.6,1304.2 713.8,1295.7 713.9,1301.4 714.1,1295.5 714.3,1303.6 714.5,1297.6 714.7,1298.5 714.8,1301.4 715.0,1302.5 715.2,1295.9 715.4,1298.2 715.6,1295.4 715.7,1299.9 715.9,1299.4 716.1,1298.8 716.3,1297.9 716.4,1298.9 716.6,1297.9 716.8,1301.6 717.0,1304.4 717.2,1294.6 717.3,1299.8 717.5,1298.9 717.7,1301.5 717.9,1297.4 718.0,1299.6 718.2,1297.0 718.4,1301.9 718.6,1300.2 718.8,1299.4 718.9,1300.9 719.1,1299.1 719.3,1295.4 719.5,1301.4 719.7,1300.5 719.8,1299.2 720.0,1302.4 720.2,1302.9 720.4,1296.3 720.5,1297.0 720.7,1303.4 720.9,1302.9 721.1,1296.6 721.3,1295.1 721.4,1296.4 721.6,1296.6 721.8,1293.3 722.0,1297.6 722.1,1293.7 722.3,1293.7 722.5,1299.5 722.7,1294.8 722.9,1296.4 723.0,1298.2 723.2,1298.7 723.4,1295.3 723.6,1296.4 723.8,1293.9 723.9,1301.2 724.1,1298.2 724.3,1293.3 724.5,1296.5 724.6,1298.6 724.8,1298.0 725.0,1302.0 725.2,1300.8 725.4,1295.5 725.5,1296.9 725.7,1293.7 725.9,1298.1 726.1,1297.9 726.3,1305.2 726.4,1297.9 726.6,1291.8 726.8,1295.9 727.0,1298.1 727.1,1294.3 727.3,1295.4 727.5,1296.9 727.7,1298.9 727.9,1297.4 728.0,1295.4 728.2,1300.1 728.4,1296.3 728.6,1296.4 728.7,1293.9 728.9,1295.6 729.1,1299.7 729.3,1293.3 729.5,1297.6 729.6,1299.9 729.8,1296.8 730.0,1298.6 730.2,1294.8 730.4,1301.7 730.5,1301.1 730.7,1298.7 730.9,1293.1 731.1,1295.1 731.2,1300.8 731.4,1302.9 731.6,1298.9 731.8,1301.5 732.0,1296.3 732.1,1297.4 732.3,1297.8 732.5,1298.9 732.7,1293.3 732.9,1300.2 733.0,1301.2 733.2,1294.1 733.4,1293.4 733.6,1298.1 733.7,1295.2 733.9,1290.3 734.1,1299.2 734.3,1297.3 734.5,1295.5 734.6,1302.9 734.8,1297.4 735.0,1294.9 735.2,1297.5 735.3,1294.4 735.5,1295.3 735.7,1298.8 735.9,1296.3 736.1,1296.8 736.2,1305.8 736.4,1300.9 736.6,1301.0 736.8,1300.4 737.0,1300.4 737.1,1303.3 737.3,1299.3 737.5,1304.6 737.7,1296.8 737.8,1298.8 738.0,1295.7 738.2,1298.6 738.4,1301.0 738.6,1303.6 738.7,1297.6 738.9,1299.4 739.1,1298.3 739.3,1297.1 739.4,1295.7 739.6,1299.1 739.8,1294.0 740.0,1299.0 740.2,1298.6 740.3,1296.6 740.5,1295.5 740.7,1294.3 740.9,1303.4 741.1,1294.2 741.2,1302.3 741.4,1299.6 741.6,1296.9 741.8,1294.6 741.9,1300.9 742.1,1302.9 742.3,1295.5 742.5,1297.4 742.7,1301.3 742.8,1299.5 743.0,1304.3 743.2,1297.3 743.4,1300.7 743.6,1295.8 743.7,1305.4 743.9,1297.7 744.1,1293.8 744.3,1299.8 744.4,1299.9 744.6,1305.8 744.8,1299.6 745.0,1300.6 745.2,1302.4 745.3,1305.2 745.5,1300.6 745.7,1303.7 745.9,1302.2 746.0,1299.9 746.2,1300.9 746.4,1300.7 746.6,1296.4 746.8,1303.8 746.9,1296.5 747.1,1303.5 747.3,1302.8 747.5,1299.8 747.7,1297.9 747.8,1299.3 748.0,1301.2 748.2,1301.9 748.4,1300.6 748.5,1302.5 748.7,1298.2 748.9,1300.4 749.1,1295.4 749.3,1302.0 749.4,1300.6 749.6,1298.8 749.8,1305.3 750.0,1302.1 750.2,1292.4 750.3,1300.5 750.5,1296.4 750.7,1303.5 750.9,1307.5 751.0,1299.1 751.2,1300.8 751.4,1299.9 751.6,1301.5 751.8,1302.3 751.9,1304.0 752.1,1297.5 752.3,1304.5 752.5,1297.4 752.6,1300.6 752.8,1303.0 753.0,1301.6 753.2,1296.8 753.4,1297.4 753.5,1298.0 753.7,1299.1 753.9,1302.4 754.1,1295.5 754.3,1300.5 754.4,1300.9 754.6,1300.8 754.8,1300.6 755.0,1303.6 755.1,1300.9 755.3,1302.0 755.5,1301.3 755.7,1307.8 755.9,1294.6 756.0,1305.7 756.2,1299.3 756.4,1299.2 756.6,1297.3 756.7,1294.8 756.9,1298.9 757.1,1298.0 757.3,1301.2 757.5,1295.6 757.6,1303.6 757.8,1300.2 758.0,1298.6 758.2,1297.2 758.4,1296.8 758.5,1295.7 758.7,1297.3 758.9,1298.7 759.1,1298.1 759.2,1294.6 759.4,1297.7 759.6,1296.0 759.8,1298.9 760.0,1303.7 760.1,1300.2 760.3,1297.7 760.5,1294.1 760.7,1294.7 760.9,1294.0 761.0,1300.8 761.2,1296.6 761.4,1299.0 761.6,1297.1 761.7,1299.1 761.9,1302.7 762.1,1296.9 762.3,1297.8 762.5,1296.5 762.6,1301.2 762.8,1295.8 763.0,1295.5 763.2,1294.8 763.3,1294.7 763.5,1299.9 763.7,1305.8 763.9,1295.8 764.1,1301.3 764.2,1299.3 764.4,1295.6 764.6,1297.9 764.8,1298.0 765.0,1296.8 765.1,1304.1 765.3,1293.4 765.5,1299.8 765.7,1299.6 765.8,1297.0 766.0,1299.0 766.2,1302.5 766.4,1298.9 766.6,1299.6 766.7,1300.3 766.9,1292.7 767.1,1302.4 767.3,1304.5 767.5,1300.8 767.6,1300.8 767.8,1294.0 768.0,1297.5 768.2,1295.5 768.3,1296.1 768.5,1300.4 768.7,1295.4 768.9,1297.2 769.1,1292.2 769.2,1297.0 769.4,1297.7 769.6,1295.5 769.8,1295.5 769.9,1302.8 770.1,1294.3 770.3,1294.8 770.5,1295.6 770.7,1301.3 770.8,1304.0 771.0,1299.2 771.2,1296.5 771.4,1297.5 771.6,1301.9 771.7,1296.7 771.9,1303.5 772.1,1303.6 772.3,1300.1 772.4,1301.9 772.6,1302.3 772.8,1304.8 773.0,1297.7 773.2,1304.0 773.3,1299.8 773.5,1298.8 773.7,1301.3 773.9,1300.5 774.0,1298.4 774.2,1296.7 774.4,1298.5 774.6,1305.2 774.8,1306.6 774.9,1302.9 775.1,1304.4 775.3,1299.6 775.5,1300.8 775.7,1301.7 775.8,1297.9 776.0,1298.1 776.2,1301.0 776.4,1299.7 776.5,1297.5 776.7,1301.4 776.9,1299.4 777.1,1302.9 777.3,1299.9 777.4,1298.9 777.6,1299.9 777.8,1299.0 778.0,1297.5 778.2,1298.1 778.3,1301.2 778.5,1300.9 778.7,1302.6 778.9,1294.4 779.0,1298.0 779.2,1298.0 779.4,1299.6 779.6,1298.0 779.8,1297.9 779.9,1301.6 780.1,1300.0 780.3,1296.4 780.5,1303.4 780.6,1302.6 780.8,1298.4 781.0,1302.4 781.2,1298.3 781.4,1303.5 781.5,1300.0 781.7,1298.6 781.9,1300.0 782.1,1299.1 782.3,1301.9 782.4,1302.0 782.6,1301.8 782.8,1300.4 783.0,1292.4 783.1,1302.5 783.3,1297.5 783.5,1303.2 783.7,1305.6 783.9,1303.5 784.0,1301.8 784.2,1301.7 784.4,1301.1 784.6,1299.4 784.8,1298.6 784.9,1297.1 785.1,1301.5 785.3,1297.9 785.5,1299.4 785.6,1295.8 785.8,1295.8 786.0,1294.5 786.2,1295.0 786.4,1295.0 786.5,1292.2 786.7,1285.4 786.9,1280.3 787.1,1280.6 787.2,1271.4 787.4,1266.4 787.6,1265.3 787.8,1259.3 788.0,1253.0 788.1,1245.8 788.3,1246.6 788.5,1237.2 788.7,1232.3 788.9,1225.8 789.0,1218.3 789.2,1213.4 789.4,1211.4 789.6,1206.3 789.7,1200.2 789.9,1193.5 790.1,1188.0 790.3,1189.3 790.5,1192.5 790.6,1201.6 790.8,1207.1 791.0,1215.2 791.2,1216.9 791.3,1219.3 791.5,1223.8 791.7,1223.8 791.9,1234.6 792.1,1240.0 792.2,1245.8 792.4,1248.5 792.6,1251.9 792.8,1254.5 793.0,1259.1 793.1,1264.5 793.3,1261.9 793.5,1266.9 793.7,1268.2 793.8,1279.0 794.0,1281.3 794.2,1280.8 794.4,1276.6 794.6,1280.9 794.7,1280.6 794.9,1282.2 795.1,1282.1 795.3,1284.8 795.5,1283.0 795.6,1287.2 795.8,1286.1 796.0,1285.2 796.2,1286.4 796.3,1286.1 796.5,1290.4 796.7,1287.9 796.9,1290.2 797.1,1288.8 797.2,1286.2 797.4,1293.9 797.6,1288.7 797.8,1294.5 797.9,1294.4 798.1,1287.5 798.3,1288.4 798.5,1288.5 798.7,1286.3 798.8,1283.9 799.0,1288.9 799.2,1284.5 799.4,1285.4 799.6,1281.3 799.7,1282.6 799.9,1277.6 800.1,1278.9 800.3,1279.9 800.4,1276.8 800.6,1272.8 800.8,1268.0 801.0,1270.8 801.2,1269.3 801.3,1264.5 801.5,1260.0 801.7,1263.6 801.9,1270.4 802.1,1256.1 802.2,1260.1 802.4,1261.3 802.6,1249.0 802.8,1262.2 802.9,1259.6 803.1,1269.7 803.3,1263.7 803.5,1262.5 803.7,1265.9 803.8,1268.6 804.0,1266.7 804.2,1269.4 804.4,1264.9 804.5,1270.1 804.7,1274.7 804.9,1280.0 805.1,1275.9 805.3,1275.0 805.4,1279.2 805.6,1279.4 805.8,1282.6 806.0,1281.3 806.2,1277.7 806.3,1279.7 806.5,1280.0 806.7,1281.1 806.9,1281.4 807.0,1278.6 807.2,1274.6 807.4,1280.2 807.6,1276.2 807.8,1283.9 807.9,1284.2 808.1,1279.1 808.3,1287.5 808.5,1288.5 808.6,1286.4 808.8,1292.0 809.0,1293.0 809.2,1283.4 809.4,1291.0 809.5,1289.5 809.7,1289.8 809.9,1291.8 810.1,1287.0 810.3,1287.9 810.4,1287.6 810.6,1288.3 810.8,1290.8 811.0,1287.1 811.1,1288.9 811.3,1294.3 811.5,1292.9 811.7,1294.8 811.9,1288.5 812.0,1292.3 812.2,1293.5 812.4,1295.8 812.6,1294.4 812.8,1299.4 812.9,1297.0 813.1,1297.3 813.3,1297.1 813.5,1299.0 813.6,1295.3 813.8,1299.8 814.0,1297.6 814.2,1296.4 814.4,1295.8 814.5,1296.9 814.7,1298.0 814.9,1297.4 815.1,1295.3 815.2,1296.4 815.4,1293.7 815.6,1296.6 815.8,1292.4 816.0,1285.8 816.1,1295.6 816.3,1291.5 816.5,1287.3 816.7,1289.9 816.9,1287.6 817.0,1296.3 817.2,1291.3 817.4,1284.9 817.6,1291.2 817.7,1288.3 817.9,1295.4 818.1,1286.3 818.3,1282.7 818.5,1289.9 818.6,1288.7 818.8,1288.6 819.0,1283.3 819.2,1291.3 819.4,1295.2 819.5,1284.1 819.7,1293.7 819.9,1288.3 820.1,1297.3 820.2,1291.4 820.4,1289.5 820.6,1293.6 820.8,1291.8 821.0,1288.3 821.1,1292.4 821.3,1288.6 821.5,1284.7 821.7,1296.7 821.8,1289.3 822.0,1288.5 822.2,1291.5 822.4,1285.6 822.6,1286.4 822.7,1289.1 822.9,1289.1 823.1,1291.0 823.3,1294.3 823.5,1289.3 823.6,1292.3 823.8,1292.6 824.0,1287.2 824.2,1291.2 824.3,1287.4 824.5,1293.5 824.7,1291.4 824.9,1289.8 825.1,1285.2 825.2,1289.5 825.4,1286.4 825.6,1290.8 825.8,1287.9 825.9,1285.4 826.1,1290.6 826.3,1289.7 826.5,1285.2 826.7,1290.5 826.8,1285.6 827.0,1285.3 827.2,1286.4 827.4,1283.3 827.6,1284.1 827.7,1284.7 827.9,1289.9 828.1,1289.5 828.3,1283.6 828.4,1289.3 828.6,1283.7 828.8,1284.8 829.0,1286.1 829.2,1284.0 829.3,1290.6 829.5,1283.4 829.7,1278.6 829.9,1286.5 830.1,1280.8 830.2,1281.0 830.4,1272.2 830.6,1285.0 830.8,1284.3 830.9,1284.2 831.1,1284.8 831.3,1287.1 831.5,1281.5 831.7,1284.7 831.8,1279.3 832.0,1280.6 832.2,1285.1 832.4,1283.0 832.5,1277.5 832.7,1283.0 832.9,1281.3 833.1,1279.4 833.3,1283.5 833.4,1280.9 833.6,1277.4 833.8,1279.0 834.0,1288.4 834.2,1278.2 834.3,1284.0 834.5,1285.5 834.7,1285.9 834.9,1280.3 835.0,1283.5 835.2,1285.3 835.4,1287.8 835.6,1283.5 835.8,1282.2 835.9,1289.4 836.1,1290.1 836.3,1288.0 836.5,1285.1 836.7,1288.6 836.8,1287.8 837.0,1290.3 837.2,1283.8 837.4,1288.3 837.5,1287.5 837.7,1284.5 837.9,1288.8 838.1,1288.3 838.3,1286.9 838.4,1289.5 838.6,1283.8 838.8,1288.1 839.0,1289.7 839.1,1289.2 839.3,1291.7 839.5,1284.5 839.7,1283.5 839.9,1289.0 840.0,1289.6 840.2,1294.9 840.4,1290.0 840.6,1285.3 840.8,1290.5 840.9,1285.2 841.1,1283.0 841.3,1295.8 841.5,1288.5 841.6,1289.6 841.8,1289.0 842.0,1292.8 842.2,1287.9 842.4,1290.8 842.5,1283.7 842.7,1282.6 842.9,1291.5 843.1,1291.7 843.2,1288.8 843.4,1288.1 843.6,1288.1 843.8,1285.7 844.0,1292.9 844.1,1290.5 844.3,1290.3 844.5,1290.2 844.7,1292.6 844.9,1291.2 845.0,1292.2 845.2,1286.5 845.4,1292.0 845.6,1297.4 845.7,1289.0 845.9,1290.3 846.1,1293.6 846.3,1293.8 846.5,1292.7 846.6,1285.6 846.8,1292.2 847.0,1286.8 847.2,1287.8 847.4,1292.1 847.5,1289.3 847.7,1292.7 847.9,1300.0 848.1,1292.5 848.2,1292.4 848.4,1287.3 848.6,1288.2 848.8,1286.9 849.0,1288.6 849.1,1287.0 849.3,1288.4 849.5,1289.9 849.7,1287.5 849.8,1286.2 850.0,1286.4 850.2,1292.1 850.4,1290.8 850.6,1293.7 850.7,1293.7 850.9,1289.3 851.1,1292.3 851.3,1285.5 851.5,1296.9 851.6,1293.4 851.8,1288.8 852.0,1285.7 852.2,1290.3 852.3,1283.2 852.5,1286.4 852.7,1291.1 852.9,1288.9 853.1,1287.1 853.2,1291.6 853.4,1285.4 853.6,1289.5 853.8,1287.2 854.0,1286.2 854.1,1290.4 854.3,1286.0 854.5,1295.1 854.7,1287.6 854.8,1295.8 855.0,1286.4 855.2,1291.9 855.4,1286.5 855.6,1286.3 855.7,1291.3 855.9,1293.1 856.1,1287.3 856.3,1295.2 856.4,1289.3 856.6,1292.5 856.8,1293.5 857.0,1294.4 857.2,1287.2 857.3,1298.0 857.5,1294.9 857.7,1292.0 857.9,1290.3 858.1,1288.3 858.2,1289.4 858.4,1295.4 858.6,1292.7 858.8,1290.2 858.9,1292.0 859.1,1298.4 859.3,1292.4 859.5,1291.4 859.7,1297.2 859.8,1294.3 860.0,1292.8 860.2,1290.5 860.4,1287.3 860.5,1288.3 860.7,1290.1 860.9,1290.7 861.1,1292.2 861.3,1292.5 861.4,1291.3 861.6,1291.0 861.8,1287.0 862.0,1283.3 862.2,1288.2 862.3,1286.7 862.5,1287.5 862.7,1288.6 862.9,1285.5 863.0,1285.8 863.2,1288.9 863.4,1289.6 863.6,1287.2 863.8,1290.7 863.9,1288.6 864.1,1286.1 864.3,1289.4 864.5,1295.2 864.7,1287.4 864.8,1293.1 865.0,1293.8 865.2,1294.2 865.4,1287.2 865.5,1296.0 865.7,1290.2 865.9,1289.1 866.1,1289.2 866.3,1291.8 866.4,1290.1 866.6,1289.4 866.8,1293.8 867.0,1287.6 867.1,1286.5 867.3,1292.1 867.5,1291.7 867.7,1292.7 867.9,1286.0 868.0,1292.4 868.2,1290.5 868.4,1294.3 868.6,1285.0 868.8,1289.4 868.9,1287.9 869.1,1283.8 869.3,1286.6 869.5,1292.3 869.6,1287.5 869.8,1286.9 870.0,1291.9 870.2,1292.5 870.4,1292.7 870.5,1287.6 870.7,1290.1 870.9,1293.6 871.1,1288.7 871.3,1288.7 871.4,1293.7 871.6,1296.1 871.8,1287.9 872.0,1283.6 872.1,1287.2 872.3,1288.5 872.5,1290.9 872.7,1293.5 872.9,1291.1 873.0,1289.3 873.2,1291.8 873.4,1288.3 873.6,1290.9 873.7,1289.0 873.9,1299.0 874.1,1293.2 874.3,1288.1 874.5,1287.5 874.6,1289.2 874.8,1285.5 875.0,1288.3 875.2,1288.2 875.4,1293.2 875.5,1289.3 875.7,1288.2 875.9,1286.6 876.1,1287.2 876.2,1290.7 876.4,1290.3 876.6,1294.5 876.8,1289.3 877.0,1294.5 877.1,1292.2 877.3,1291.5 877.5,1285.5 877.7,1287.8 877.8,1294.0 878.0,1296.1 878.2,1292.5 878.4,1294.2 878.6,1290.7 878.7,1290.8 878.9,1290.0 879.1,1294.9 879.3,1293.0 879.5,1291.2 879.6,1290.9 879.8,1293.5 880.0,1292.8 880.2,1289.2 880.3,1296.8 880.5,1292.2 880.7,1291.3 880.9,1295.6 881.1,1294.1 881.2,1290.5 881.4,1292.2 881.6,1287.2 881.8,1288.2 882.0,1283.1 882.1,1293.5 882.3,1283.8 882.5,1291.4 882.7,1286.6 882.8,1286.0 883.0,1288.2 883.2,1289.4 883.4,1290.3 883.6,1293.7 883.7,1289.4 883.9,1290.9 884.1,1286.3 884.3,1290.3 884.4,1288.6 884.6,1286.7 884.8,1287.9 885.0,1288.0 885.2,1288.8 885.3,1289.5 885.5,1286.8 885.7,1286.1 885.9,1290.7 886.1,1283.3 886.2,1286.6 886.4,1293.1 886.6,1275.3 886.8,1286.3 886.9,1290.4 887.1,1283.3 887.3,1296.1 887.5,1280.3 887.7,1292.4 887.8,1292.7 888.0,1290.6 888.2,1287.1 888.4,1288.7 888.6,1284.8 888.7,1289.9 888.9,1284.0 889.1,1286.5 889.3,1290.3 889.4,1283.9 889.6,1286.1 889.8,1287.7 890.0,1283.1 890.2,1290.8 890.3,1288.3 890.5,1282.8 890.7,1287.3 890.9,1285.2 891.0,1285.7 891.2,1288.1 891.4,1286.0 891.6,1291.3 891.8,1286.4 891.9,1291.8 892.1,1289.0 892.3,1292.0 892.5,1288.0 892.7,1288.5 892.8,1286.8 893.0,1292.4 893.2,1293.7 893.4,1297.6 893.5,1295.4 893.7,1292.5 893.9,1291.3 894.1,1293.3 894.3,1292.3 894.4,1297.0 894.6,1295.5 894.8,1290.2 895.0,1290.8 895.1,1297.1 895.3,1293.9 895.5,1292.3 895.7,1296.6 895.9,1291.9 896.0,1292.2 896.2,1291.6 896.4,1287.1 896.6,1295.6 896.8,1289.3 896.9,1291.3 897.1,1290.7 897.3,1295.2 897.5,1292.8 897.6,1293.1 897.8,1288.0 898.0,1292.8 898.2,1288.6 898.4,1294.0 898.5,1294.2 898.7,1293.1 898.9,1299.3 899.1,1294.6 899.3,1294.8 899.4,1293.3 899.6,1292.2 899.8,1295.6 900.0,1295.9 900.1,1288.4 900.3,1295.4 900.5,1293.5 900.7,1294.7 900.9,1293.0 901.0,1287.6 901.2,1287.6 901.4,1296.5 901.6,1291.5 901.7,1286.3 901.9,1291.5 902.1,1289.2 902.3,1284.6 902.5,1283.1 902.6,1285.2 902.8,1290.8 903.0,1289.9 903.2,1289.3 903.4,1291.0 903.5,1292.1 903.7,1284.1 903.9,1289.7 904.1,1288.3 904.2,1287.3 904.4,1289.6 904.6,1291.1 904.8,1290.9 905.0,1287.5 905.1,1290.7 905.3,1298.5 905.5,1289.3 905.7,1287.5 905.9,1293.6 906.0,1294.7 906.2,1294.3 906.4,1289.5 906.6,1295.9 906.7,1290.5 906.9,1289.4 907.1,1290.9 907.3,1292.3 907.5,1294.6 907.6,1294.2 907.8,1292.1 908.0,1294.8 908.2,1292.1 908.3,1294.4 908.5,1287.2 908.7,1286.5 908.9,1293.5 909.1,1286.8 909.2,1289.9 909.4,1290.4 909.6,1289.1 909.8,1289.1 910.0,1294.6 910.1,1282.7 910.3,1293.0 910.5,1297.2 910.7,1290.3 910.8,1290.2 911.0,1292.5 911.2,1295.8 911.4,1286.7 911.6,1290.6 911.7,1289.8 911.9,1292.1 912.1,1290.9 912.3,1292.4 912.4,1289.2 912.6,1290.6 912.8,1288.4 913.0,1288.5 913.2,1290.1 913.3,1290.1 913.5,1287.0 913.7,1295.4 913.9,1290.2 914.1,1286.5 914.2,1294.1 914.4,1288.6 914.6,1292.4 914.8,1290.9 914.9,1291.8 915.1,1291.7 915.3,1289.5 915.5,1291.5 915.7,1297.7 915.8,1284.8 916.0,1291.9 916.2,1293.2 916.4,1288.8 916.6,1287.9 916.7,1298.8 916.9,1291.2 917.1,1298.7 917.3,1294.1 917.4,1292.8 917.6,1294.1 917.8,1294.6 918.0,1296.3 918.2,1294.0 918.3,1293.0 918.5,1293.0 918.7,1296.5 918.9,1294.7 919.0,1288.9 919.2,1289.8 919.4,1292.5 919.6,1289.4 919.8,1289.9 919.9,1287.8 920.1,1289.4 920.3,1290.9 920.5,1292.0 920.7,1288.4 920.8,1294.2 921.0,1287.0 921.2,1296.7 921.4,1289.4 921.5,1287.3 921.7,1283.7 921.9,1275.9 922.1,1284.0 922.3,1284.7 922.4,1290.1 922.6,1279.0 922.8,1289.4 923.0,1281.6 923.1,1285.0 923.3,1273.9 923.5,1282.6 923.7,1280.4 923.9,1283.3 924.0,1280.8 924.2,1276.0 924.4,1282.8 924.6,1281.4 924.8,1280.6 924.9,1281.6 925.1,1281.5 925.3,1277.0 925.5,1271.5 925.6,1270.9 925.8,1283.8 926.0,1278.5 926.2,1277.0 926.4,1275.8 926.5,1278.2 926.7,1278.9 926.9,1278.2 927.1,1277.6 927.3,1288.4 927.4,1282.1 927.6,1279.7 927.8,1277.8 928.0,1280.4 928.1,1285.8 928.3,1286.4 928.5,1283.6 928.7,1284.9 928.9,1284.1 929.0,1281.9 929.2,1290.1 929.4,1287.5 929.6,1294.7 929.7,1284.8 929.9,1287.3 930.1,1291.0 930.3,1288.0 930.5,1285.0 930.6,1287.0 930.8,1290.8 931.0,1292.1 931.2,1290.9 931.4,1294.4 931.5,1294.5 931.7,1292.6 931.9,1291.9 932.1,1291.2 932.2,1293.8 932.4,1295.1 932.6,1292.6 932.8,1293.8 933.0,1291.6 933.1,1288.3 933.3,1289.5 933.5,1294.8 933.7,1293.8 933.9,1297.1 934.0,1292.3 934.2,1294.5 934.4,1295.7 934.6,1294.4 934.7,1289.3 934.9,1290.3 935.1,1290.9 935.3,1287.3 935.5,1291.4 935.6,1292.9 935.8,1288.1 936.0,1295.3 936.2,1288.2 936.3,1288.3 936.5,1288.1 936.7,1286.5 936.9,1289.9 937.1,1288.6 937.2,1293.4 937.4,1290.2 937.6,1289.9 937.8,1287.5 938.0,1283.7 938.1,1287.7 938.3,1285.2 938.5,1290.6 938.7,1287.5 938.8,1292.5 939.0,1289.6 939.2,1289.8 939.4,1287.8 939.6,1287.7 939.7,1288.9 939.9,1289.7 940.1,1284.7 940.3,1288.3 940.4,1294.7 940.6,1286.5 940.8,1286.0 941.0,1284.7 941.2,1282.4 941.3,1290.5 941.5,1287.2 941.7,1288.1 941.9,1292.9 942.1,1295.2 942.2,1285.0 942.4,1291.2 942.6,1290.2 942.8,1289.8 942.9,1290.3 943.1,1289.1 943.3,1294.4 943.5,1291.8 943.7,1291.3 943.8,1294.3 944.0,1293.6 944.2,1292.6 944.4,1292.4 944.6,1297.0 944.7,1293.4 944.9,1291.8 945.1,1289.6 945.3,1291.3 945.4,1289.2 945.6,1292.7 945.8,1293.1 946.0,1286.0 946.2,1292.2 946.3,1294.0 946.5,1292.4 946.7,1288.8 946.9,1297.7 947.0,1289.2 947.2,1287.3 947.4,1287.5 947.6,1290.5 947.8,1293.3 947.9,1293.6 948.1,1290.5 948.3,1286.0 948.5,1287.4 948.7,1286.5 948.8,1288.5 949.0,1283.5 949.2,1289.1 949.4,1290.6 949.5,1288.1 949.7,1289.9 949.9,1285.6 950.1,1284.0 950.3,1286.5 950.4,1292.0 950.6,1291.6 950.8,1287.1 951.0,1292.1 951.2,1287.5 951.3,1293.1 951.5,1290.0 951.7,1287.2 951.9,1291.0 952.0,1286.3 952.2,1285.8 952.4,1284.2 952.6,1289.4 952.8,1288.5 952.9,1288.4 953.1,1287.5 953.3,1293.1 953.5,1287.5 953.6,1286.6 953.8,1292.7 954.0,1293.3 954.2,1290.1 954.4,1283.9 954.5,1287.5 954.7,1291.3 954.9,1289.6 955.1,1294.5 955.3,1285.8 955.4,1292.1 955.6,1288.4 955.8,1294.5 956.0,1290.4 956.1,1293.9 956.3,1287.8 956.5,1286.9 956.7,1287.9 956.9,1289.6 957.0,1288.4 957.2,1294.9 957.4,1294.9 957.6,1291.3 957.7,1286.9 957.9,1289.3 958.1,1287.2 958.3,1293.5 958.5,1289.5 958.6,1289.6 958.8,1286.4 959.0,1280.7 959.2,1284.3 959.4,1282.7 959.5,1287.2 959.7,1285.9 959.9,1282.5 960.1,1283.4 960.2,1289.7 960.4,1280.7 960.6,1280.2 960.8,1281.8 961.0,1279.4 961.1,1279.6 961.3,1282.2 961.5,1285.8 961.7,1272.0 961.9,1277.7 962.0,1276.9 962.2,1275.5 962.4,1274.1 962.6,1273.1 962.7,1278.8 962.9,1273.7 963.1,1275.5 963.3,1276.6 963.5,1277.5 963.6,1277.1 963.8,1282.0 964.0,1279.0 964.2,1280.3 964.3,1280.2 964.5,1277.7 964.7,1279.1 964.9,1279.2 965.1,1284.1 965.2,1281.7 965.4,1281.1 965.6,1286.0 965.8,1287.5 966.0,1280.8 966.1,1292.4 966.3,1287.7 966.5,1287.9 966.7,1292.1 966.8,1289.6 967.0,1288.1 967.2,1297.2 967.4,1287.7 967.6,1291.2 967.7,1294.6 967.9,1289.3 968.1,1292.4 968.3,1293.8 968.5,1299.8 968.6,1289.9 968.8,1292.2 969.0,1294.4 969.2,1292.6 969.3,1288.6 969.5,1293.4 969.7,1292.6 969.9,1293.3 970.1,1295.3 970.2,1294.9 970.4,1293.0 970.6,1292.6 970.8,1288.2 970.9,1291.1 971.1,1292.0 971.3,1290.1 971.5,1291.5 971.7,1288.7 971.8,1295.7 972.0,1297.5 972.2,1289.8 972.4,1292.2 972.6,1290.3 972.7,1294.8 972.9,1292.4 973.1,1291.4 973.3,1290.6 973.4,1291.8 973.6,1288.5 973.8,1293.7 974.0,1289.7 974.2,1293.7 974.3,1292.7 974.5,1295.8 974.7,1292.7 974.9,1296.0 975.0,1290.4 975.2,1295.2 975.4,1292.9 975.6,1294.4 975.8,1294.2 975.9,1297.0 976.1,1288.3 976.3,1295.4 976.5,1290.1 976.7,1298.3 976.8,1288.8 977.0,1291.7 977.2,1289.7 977.4,1299.6 977.5,1290.8 977.7,1294.9 977.9,1292.9 978.1,1289.0 978.3,1293.3 978.4,1296.2 978.6,1293.5 978.8,1296.8 979.0,1292.7 979.2,1293.7 979.3,1292.4 979.5,1294.5 979.7,1299.1 979.9,1294.4 980.0,1293.8 980.2,1291.3 980.4,1290.8 980.6,1297.4 980.8,1289.6 980.9,1290.1 981.1,1292.4 981.3,1291.3 981.5,1298.4 981.6,1285.3 981.8,1294.0 982.0,1294.3 982.2,1288.6 982.4,1289.9 982.5,1293.1 982.7,1296.6 982.9,1288.8 983.1,1286.8 983.3,1294.4 983.4,1296.1 983.6,1290.5 983.8,1284.9 984.0,1296.0 984.1,1291.1 984.3,1295.2 984.5,1291.8 984.7,1290.9 984.9,1290.8 985.0,1299.3 985.2,1296.7 985.4,1286.1 985.6,1289.9 985.8,1298.2 985.9,1291.9 986.1,1289.1 986.3,1293.3 986.5,1293.1 986.6,1293.4 986.8,1292.4 987.0,1292.5 987.2,1292.8 987.4,1295.4 987.5,1292.1 987.7,1293.9 987.9,1294.5 988.1,1299.0 988.2,1296.4 988.4,1295.1 988.6,1297.1 988.8,1296.8 989.0,1299.0 989.1,1297.3 989.3,1301.1 989.5,1299.8 989.7,1295.6 989.9,1294.4 990.0,1298.3 990.2,1297.1 990.4,1295.2 990.6,1290.9 990.7,1289.8 990.9,1296.2 991.1,1297.4 991.3,1297.4 991.5,1291.1 991.6,1298.0 991.8,1293.2 992.0,1295.9 992.2,1296.0 992.3,1292.2 992.5,1292.8 992.7,1288.3 992.9,1291.7 993.1,1288.9 993.2,1295.6 993.4,1294.3 993.6,1296.8 993.8,1295.0 994.0,1291.9 994.1,1294.7 994.3,1292.3 994.5,1295.2 994.7,1294.1 994.8,1290.1 995.0,1292.9 995.2,1292.9 995.4,1291.7 995.6,1295.2 995.7,1297.5 995.9,1291.1 996.1,1291.0 996.3,1285.2 996.5,1291.4 996.6,1290.4 996.8,1285.1 997.0,1292.3 997.2,1293.0 997.3,1288.9 997.5,1289.8 997.7,1287.9 997.9,1292.9 998.1,1285.9 998.2,1289.3 998.4,1295.9 998.6,1290.0 998.8,1291.1 998.9,1289.1 999.1,1285.8 999.3,1289.1 999.5,1290.3 999.7,1286.0 999.8,1290.0 1000.0,1292.7 1000.2,1292.2 1000.4,1284.3 1000.6,1286.2 1000.7,1284.4 1000.9,1292.6 1001.1,1291.4 1001.3,1291.9 1001.4,1287.3 1001.6,1286.7 1001.8,1290.7 1002.0,1291.0 1002.2,1288.3 1002.3,1291.6 1002.5,1293.3 1002.7,1292.3 1002.9,1288.7 1003.1,1285.7 1003.2,1291.4 1003.4,1292.9 1003.6,1291.8 1003.8,1291.4 1003.9,1290.8 1004.1,1295.2 1004.3,1293.0 1004.5,1293.6 1004.7,1290.5 1004.8,1291.6 1005.0,1294.1 1005.2,1290.6 1005.4,1289.9 1005.5,1292.8 1005.7,1297.4 1005.9,1294.4 1006.1,1298.2 1006.3,1293.5 1006.4,1293.0 1006.6,1289.7 1006.8,1292.2 1007.0,1298.2 1007.2,1294.9 1007.3,1296.2 1007.5,1296.1 1007.7,1294.0 1007.9,1293.5 1008.0,1294.5 1008.2,1296.2 1008.4,1295.6 1008.6,1295.7 1008.8,1294.7 1008.9,1291.9 1009.1,1293.4 1009.3,1291.3 1009.5,1297.1 1009.6,1287.7 1009.8,1293.3 1010.0,1301.0 1010.2,1292.7 1010.4,1290.2 1010.5,1293.5 1010.7,1297.3 1010.9,1292.9 1011.1,1295.1 1011.3,1293.6 1011.4,1292.1 1011.6,1302.7 1011.8,1293.5 1012.0,1291.8 1012.1,1292.0 1012.3,1294.8 1012.5,1295.1 1012.7,1296.4 1012.9,1294.7 1013.0,1290.3 1013.2,1296.5 1013.4,1294.3 1013.6,1294.8 1013.8,1291.6 1013.9,1294.6 1014.1,1294.5 1014.3,1296.9 1014.5,1293.0 1014.6,1297.8 1014.8,1298.3 1015.0,1294.8 1015.2,1296.4 1015.4,1295.8 1015.5,1301.1 1015.7,1290.9 1015.9,1297.3 1016.1,1293.3 1016.2,1296.8 1016.4,1300.4 1016.6,1295.7 1016.8,1297.7 1017.0,1294.4 1017.1,1302.4 1017.3,1298.9 1017.5,1299.1 1017.7,1288.9 1017.9,1291.6 1018.0,1297.6 1018.2,1293.4 1018.4,1292.8 1018.6,1294.1 1018.7,1288.9 1018.9,1294.6 1019.1,1292.0 1019.3,1293.1 1019.5,1289.4 1019.6,1292.7 1019.8,1288.8 1020.0,1293.7 1020.2,1294.1 1020.4,1293.3 1020.5,1292.1 1020.7,1292.4 1020.9,1282.4 1021.1,1293.0 1021.2,1289.8 1021.4,1290.9 1021.6,1289.9 1021.8,1286.6 1022.0,1289.2 1022.1,1292.9 1022.3,1295.2 1022.5,1289.2 1022.7,1288.4 1022.8,1295.6 1023.0,1288.6 1023.2,1297.5 1023.4,1291.5 1023.6,1288.8 1023.7,1294.4 1023.9,1296.6 1024.1,1287.2 1024.3,1296.2 1024.5,1290.7 1024.6,1296.0 1024.8,1290.4 1025.0,1286.8 1025.2,1292.9 1025.3,1294.2 1025.5,1297.6 1025.7,1296.5 1025.9,1293.3 1026.1,1290.5 1026.2,1289.6 1026.4,1290.2 1026.6,1288.6 1026.8,1289.7 1026.9,1283.4 1027.1,1291.6 1027.3,1291.0 1027.5,1298.8 1027.7,1294.8 1027.8,1289.9 1028.0,1293.2 1028.2,1288.0 1028.4,1290.0 1028.6,1286.5 1028.7,1296.5 1028.9,1294.3 1029.1,1289.2 1029.3,1292.6 1029.4,1296.0 1029.6,1294.8 1029.8,1294.6 1030.0,1291.0 1030.2,1291.7 1030.3,1294.0 1030.5,1296.4 1030.7,1291.1 1030.9,1290.1 1031.1,1296.7 1031.2,1290.3 1031.4,1296.1 1031.6,1293.3 1031.8,1294.9 1031.9,1297.2 1032.1,1293.7 1032.3,1293.7 1032.5,1288.3 1032.7,1288.7 1032.8,1292.4 1033.0,1294.9 1033.2,1296.7 1033.4,1296.9 1033.5,1290.8 1033.7,1290.4 1033.9,1292.8 1034.1,1289.9 1034.3,1289.7 1034.4,1286.9 1034.6,1293.2 1034.8,1287.2 1035.0,1292.1 1035.2,1286.6 1035.3,1294.4 1035.5,1288.4 1035.7,1294.3 1035.9,1287.4 1036.0,1291.2 1036.2,1296.4 1036.4,1290.8 1036.6,1293.8 1036.8,1292.6 1036.9,1287.5 1037.1,1295.7 1037.3,1296.4 1037.5,1290.2 1037.7,1297.6 1037.8,1293.8 1038.0,1293.5 1038.2,1296.7 1038.4,1294.9 1038.5,1303.9 1038.7,1292.5 1038.9,1299.5 1039.1,1300.2 1039.3,1291.4 1039.4,1292.1 1039.6,1298.9 1039.8,1295.7 1040.0,1298.2 1040.1,1300.3 1040.3,1295.7 1040.5,1293.5 1040.7,1288.4 1040.9,1297.4 1041.0,1293.6 1041.2,1297.2 1041.4,1296.9 1041.6,1292.0 1041.8,1301.2 1041.9,1299.1 1042.1,1298.3 1042.3,1292.1 1042.5,1294.3 1042.6,1293.7 1042.8,1293.9 1043.0,1291.6 1043.2,1296.0 1043.4,1295.1 1043.5,1295.2 1043.7,1292.2 1043.9,1299.6 1044.1,1293.6 1044.2,1284.6 1044.4,1290.5 1044.6,1291.9 1044.8,1294.7 1045.0,1290.7 1045.1,1290.7 1045.3,1289.3 1045.5,1293.1 1045.7,1289.7 1045.9,1289.2 1046.0,1288.8 1046.2,1292.7 1046.4,1289.6 1046.6,1286.2 1046.7,1293.2 1046.9,1289.3 1047.1,1292.6 1047.3,1292.7 1047.5,1295.2 1047.6,1294.8 1047.8,1290.0 1048.0,1291.3 1048.2,1287.9 1048.4,1296.7 1048.5,1293.0 1048.7,1295.8 1048.9,1290.6 1049.1,1285.4 1049.2,1296.0 1049.4,1291.6 1049.6,1291.6 1049.8,1291.3 1050.0,1293.0 1050.1,1292.6 1050.3,1286.3 1050.5,1294.2 1050.7,1289.4 1050.8,1289.6 1051.0,1296.2 1051.2,1293.8 1051.4,1290.1 1051.6,1285.7 1051.7,1291.8 1051.9,1293.0 1052.1,1291.2 1052.3,1287.8 1052.5,1289.2 1052.6,1287.9 1052.8,1292.3 1053.0,1294.2 1053.2,1294.8 1053.3,1289.6 1053.5,1292.4 1053.7,1293.4 1053.9,1290.2 1054.1,1291.2 1054.2,1298.0 1054.4,1292.2 1054.6,1294.2 1054.8,1290.3 1055.0,1291.8 1055.1,1286.6 1055.3,1291.6 1055.5,1295.3 1055.7,1298.1 1055.8,1295.5 1056.0,1294.1 1056.2,1292.4 1056.4,1290.6 1056.6,1292.0 1056.7,1294.4 1056.9,1290.3 1057.1,1295.5 1057.3,1289.9 1057.4,1287.6 1057.6,1289.9 1057.8,1287.9 1058.0,1288.8 1058.2,1296.2 1058.3,1292.2 1058.5,1293.4 1058.7,1296.1 1058.9,1296.3 1059.1,1291.0 1059.2,1296.4 1059.4,1293.6 1059.6,1292.5 1059.8,1293.8 1059.9,1288.3 1060.1,1290.3 1060.3,1292.4 1060.5,1294.7 1060.7,1292.0 1060.8,1292.9 1061.0,1296.4 1061.2,1300.5 1061.4,1296.4 1061.5,1298.2 1061.7,1293.5 1061.9,1294.0 1062.1,1296.2 1062.3,1294.6 1062.4,1294.2 1062.6,1300.8 1062.8,1295.4 1063.0,1293.2 1063.2,1297.6 1063.3,1301.7 1063.5,1296.4 1063.7,1299.8 1063.9,1294.6 1064.0,1294.3 1064.2,1293.6 1064.4,1295.1 1064.6,1300.9 1064.8,1291.7 1064.9,1299.9 1065.1,1291.7 1065.3,1293.9 1065.5,1297.0 1065.7,1296.2 1065.8,1295.0 1066.0,1288.4 1066.2,1293.8 1066.4,1287.0 1066.5,1299.3 1066.7,1290.0 1066.9,1290.6 1067.1,1285.6 1067.3,1287.1 1067.4,1283.7 1067.6,1290.5 1067.8,1285.7 1068.0,1287.7 1068.1,1282.8 1068.3,1282.7 1068.5,1288.1 1068.7,1279.6 1068.9,1275.9 1069.0,1283.0 1069.2,1276.8 1069.4,1278.6 1069.6,1282.8 1069.8,1275.9 1069.9,1281.6 1070.1,1275.2 1070.3,1282.9 1070.5,1281.8 1070.6,1274.5 1070.8,1275.0 1071.0,1272.2 1071.2,1275.7 1071.4,1279.0 1071.5,1268.4 1071.7,1277.3 1071.9,1267.9 1072.1,1269.3 1072.3,1265.0 1072.4,1280.4 1072.6,1271.4 1072.8,1271.6 1073.0,1267.1 1073.1,1273.8 1073.3,1259.6 1073.5,1268.0 1073.7,1276.3 1073.9,1263.9 1074.0,1264.5 1074.2,1266.2 1074.4,1258.3 1074.6,1260.9 1074.7,1264.1 1074.9,1259.4 1075.1,1259.1 1075.3,1254.5 1075.5,1256.7 1075.6,1254.4 1075.8,1260.4 1076.0,1255.9 1076.2,1251.0 1076.4,1241.4 1076.5,1258.2 1076.7,1259.6 1076.9,1252.9 1077.1,1249.1 1077.2,1254.4 1077.4,1265.1 1077.6,1257.3 1077.8,1261.3 1078.0,1265.4 1078.1,1270.9 1078.3,1266.4 1078.5,1266.8 1078.7,1265.6 1078.8,1275.4 1079.0,1273.7 1079.2,1269.6 1079.4,1265.1 1079.6,1268.2 1079.7,1274.3 1079.9,1269.9 1080.1,1276.9 1080.3,1275.5 1080.5,1275.9 1080.6,1277.8 1080.8,1277.1 1081.0,1271.9 1081.2,1273.8 1081.3,1283.8 1081.5,1270.3 1081.7,1273.1 1081.9,1279.0 1082.1,1274.4 1082.2,1272.1 1082.4,1270.2 1082.6,1277.5 1082.8,1279.5 1083.0,1281.1 1083.1,1276.1 1083.3,1280.1 1083.5,1272.2 1083.7,1276.9 1083.8,1273.7 1084.0,1277.1 1084.2,1279.3 1084.4,1280.5 1084.6,1272.5 1084.7,1281.2 1084.9,1274.4 1085.1,1272.2 1085.3,1275.0 1085.4,1270.3 1085.6,1275.9 1085.8,1276.9 1086.0,1274.8 1086.2,1278.8 1086.3,1274.1 1086.5,1275.3 1086.7,1269.5 1086.9,1275.2 1087.1,1271.5 1087.2,1273.0 1087.4,1274.2 1087.6,1275.2 1087.8,1267.8 1087.9,1268.0 1088.1,1272.9 1088.3,1275.8 1088.5,1275.2 1088.7,1277.2 1088.8,1278.8 1089.0,1275.5 1089.2,1273.5 1089.4,1269.5 1089.6,1270.0 1089.7,1272.0 1089.9,1275.0 1090.1,1274.9 1090.3,1274.2 1090.4,1273.7 1090.6,1276.9 1090.8,1275.3 1091.0,1275.7 1091.2,1275.8 1091.3,1272.4 1091.5,1270.4 1091.7,1276.3 1091.9,1275.9 1092.0,1273.2 1092.2,1272.3 1092.4,1282.7 1092.6,1270.4 1092.8,1272.3 1092.9,1274.0 1093.1,1268.1 1093.3,1272.8 1093.5,1279.2 1093.7,1275.6 1093.8,1274.1 1094.0,1273.8 1094.2,1271.7 1094.4,1274.8 1094.5,1270.3 1094.7,1269.1 1094.9,1270.9 1095.1,1273.9 1095.3,1271.5 1095.4,1272.7 1095.6,1262.0 1095.8,1274.4 1096.0,1278.8 1096.1,1274.8 1096.3,1268.3 1096.5,1266.2 1096.7,1270.6 1096.9,1265.8 1097.0,1272.6 1097.2,1267.9 1097.4,1273.9 1097.6,1275.8 1097.8,1262.9 1097.9,1272.3 1098.1,1268.9 1098.3,1266.6 1098.5,1270.1 1098.6,1272.0 1098.8,1277.3 1099.0,1267.8 1099.2,1278.1 1099.4,1282.2 1099.5,1275.8 1099.7,1274.3 1099.9,1270.6 1100.1,1264.4 1100.3,1270.0 1100.4,1267.9 1100.6,1267.9 1100.8,1274.6 1101.0,1264.7 1101.1,1261.6 1101.3,1265.3 1101.5,1249.7 1101.7,1248.8 1101.9,1250.6 1102.0,1245.4 1102.2,1252.4 1102.4,1245.3 1102.6,1254.3 1102.7,1251.4 1102.9,1245.7 1103.1,1237.8 1103.3,1241.5 1103.5,1240.8 1103.6,1228.3 1103.8,1233.9 1104.0,1233.8 1104.2,1229.0 1104.4,1234.4 1104.5,1230.4 1104.7,1217.2 1104.9,1220.4 1105.1,1213.2 1105.2,1218.8 1105.4,1209.0 1105.6,1216.4 1105.8,1211.4 1106.0,1212.2 1106.1,1204.4 1106.3,1195.7 1106.5,1209.1 1106.7,1197.6 1106.9,1202.4 1107.0,1195.8 1107.2,1194.6 1107.4,1197.0 1107.6,1188.8 1107.7,1190.6 1107.9,1177.9 1108.1,1186.1 1108.3,1178.4 1108.5,1176.7 1108.6,1175.2 1108.8,1174.1 1109.0,1175.5 1109.2,1164.2 1109.3,1166.9 1109.5,1163.0 1109.7,1165.0 1109.9,1159.4 1110.1,1159.6 1110.2,1155.1 1110.4,1155.0 1110.6,1153.4 1110.8,1150.8 1111.0,1154.9 1111.1,1155.4 1111.3,1162.0 1111.5,1166.5 1111.7,1166.8 1111.8,1173.7 1112.0,1169.6 1112.2,1173.2 1112.4,1177.4 1112.6,1182.9 1112.7,1187.4 1112.9,1190.4 1113.1,1193.7 1113.3,1199.4 1113.4,1197.7 1113.6,1196.9 1113.8,1198.8 1114.0,1213.5 1114.2,1198.2 1114.3,1208.9 1114.5,1217.9 1114.7,1216.0 1114.9,1212.3 1115.1,1218.2 1115.2,1224.4 1115.4,1228.3 1115.6,1220.5 1115.8,1230.7 1115.9,1230.4 1116.1,1240.1 1116.3,1240.4 1116.5,1231.8 1116.7,1226.2 1116.8,1235.9 1117.0,1243.3 1117.2,1237.6 1117.4,1235.2 1117.6,1247.0 1117.7,1228.1 1117.9,1238.7 1118.1,1230.5 1118.3,1233.8 1118.4,1233.9 1118.6,1241.8 1118.8,1228.0 1119.0,1230.2 1119.2,1224.2 1119.3,1235.9 1119.5,1230.7 1119.7,1235.8 1119.9,1227.5 1120.0,1231.7 1120.2,1239.7 1120.4,1232.9 1120.6,1237.6 1120.8,1237.3 1120.9,1232.6 1121.1,1226.1 1121.3,1240.9 1121.5,1236.7 1121.7,1241.7 1121.8,1225.2 1122.0,1227.8 1122.2,1225.6 1122.4,1233.3 1122.5,1244.8 1122.7,1242.7 1122.9,1239.8 1123.1,1241.3 1123.3,1245.4 1123.4,1239.7 1123.6,1244.1 1123.8,1242.9 1124.0,1229.8 1124.2,1240.2 1124.3,1250.1 1124.5,1240.0 1124.7,1241.2 1124.9,1238.2 1125.0,1238.4 1125.2,1247.0 1125.4,1238.5 1125.6,1233.6 1125.8,1221.0 1125.9,1234.7 1126.1,1226.0 1126.3,1226.1 1126.5,1240.3 1126.6,1239.1 1126.8,1223.6 1127.0,1241.7 1127.2,1236.1 1127.4,1228.7 1127.5,1237.0 1127.7,1223.4 1127.9,1225.7 1128.1,1224.3 1128.3,1226.2 1128.4,1237.6 1128.6,1225.2 1128.8,1226.4 1129.0,1227.8 1129.1,1234.7 1129.3,1232.0 1129.5,1239.2 1129.7,1230.6 1129.9,1227.6 1130.0,1232.5 1130.2,1235.9 1130.4,1230.7 1130.6,1238.0 1130.7,1247.0 1130.9,1233.7 1131.1,1237.5 1131.3,1245.2 1131.5,1234.0 1131.6,1233.1 1131.8,1231.9 1132.0,1240.5 1132.2,1241.3 1132.4,1237.6 1132.5,1238.8 1132.7,1245.9 1132.9,1243.6 1133.1,1230.6 1133.2,1238.5 1133.4,1239.1 1133.6,1242.4 1133.8,1236.8 1134.0,1234.2 1134.1,1235.0 1134.3,1227.2 1134.5,1236.8 1134.7,1233.2 1134.9,1238.9 1135.0,1230.1 1135.2,1233.1 1135.4,1229.7 1135.6,1228.9 1135.7,1238.7 1135.9,1231.8 1136.1,1236.8 1136.3,1227.8 1136.5,1234.7 1136.6,1224.5 1136.8,1231.4 1137.0,1231.4 1137.2,1237.7 1137.3,1235.6 1137.5,1233.7 1137.7,1239.7 1137.9,1236.2 1138.1,1238.4 1138.2,1240.0 1138.4,1235.4 1138.6,1234.3 1138.8,1238.0 1139.0,1233.9 1139.1,1238.6 1139.3,1242.7 1139.5,1241.3 1139.7,1234.2 1139.8,1229.0 1140.0,1235.9 1140.2,1235.3 1140.4,1242.2 1140.6,1233.5 1140.7,1234.3 1140.9,1239.4 1141.1,1232.3 1141.3,1233.9 1141.5,1244.4 1141.6,1242.9 1141.8,1237.9 1142.0,1235.7 1142.2,1228.7 1142.3,1237.4 1142.5,1234.6 1142.7,1235.7 1142.9,1231.7 1143.1,1234.8 1143.2,1234.2 1143.4,1237.4 1143.6,1244.2 1143.8,1238.6 1143.9,1227.6 1144.1,1232.0 1144.3,1228.9 1144.5,1233.9 1144.7,1242.1 1144.8,1241.5 1145.0,1236.2 1145.2,1241.4 1145.4,1235.8 1145.6,1232.2 1145.7,1232.3 1145.9,1235.5 1146.1,1248.5 1146.3,1232.8 1146.4,1247.4 1146.6,1247.9 1146.8,1239.2 1147.0,1240.0 1147.2,1236.7 1147.3,1240.1 1147.5,1244.0 1147.7,1240.4 1147.9,1246.1 1148.0,1247.3 1148.2,1242.7 1148.4,1242.8 1148.6,1240.8 1148.8,1243.2 1148.9,1235.1 1149.1,1243.8 1149.3,1242.7 1149.5,1236.8 1149.7,1253.5 1149.8,1236.2 1150.0,1236.6 1150.2,1241.9 1150.4,1228.8 1150.5,1234.0 1150.7,1228.9 1150.9,1230.9 1151.1,1234.2 1151.3,1235.5 1151.4,1238.4 1151.6,1235.7 1151.8,1236.5 1152.0,1232.3 1152.2,1226.0 1152.3,1232.7 1152.5,1223.7 1152.7,1216.4 1152.9,1219.9 1153.0,1209.6 1153.2,1200.3 1153.4,1196.1 1153.6,1190.0 1153.8,1173.2 1153.9,1172.3 1154.1,1161.0 1154.3,1159.9 1154.5,1150.1 1154.6,1152.4 1154.8,1144.0 1155.0,1134.2 1155.2,1131.7 1155.4,1122.9 1155.5,1121.5 1155.7,1117.6 1155.9,1111.6 1156.1,1101.0 1156.3,1099.7 1156.4,1096.4 1156.6,1090.7 1156.8,1087.2 1157.0,1076.9 1157.1,1075.4 1157.3,1069.1 1157.5,1076.1 1157.7,1081.8 1157.9,1087.6 1158.0,1090.1 1158.2,1097.0 1158.4,1099.1 1158.6,1103.5 1158.8,1113.7 1158.9,1117.3 1159.1,1117.9 1159.3,1125.1 1159.5,1132.9 1159.6,1143.4 1159.8,1147.0 1160.0,1151.4 1160.2,1147.6 1160.4,1160.5 1160.5,1169.3 1160.7,1175.3 1160.9,1181.9 1161.1,1185.4 1161.2,1201.1 1161.4,1206.4 1161.6,1205.6 1161.8,1207.9 1162.0,1227.2 1162.1,1216.0 1162.3,1226.1 1162.5,1231.3 1162.7,1218.1 1162.9,1225.9 1163.0,1223.9 1163.2,1229.9 1163.4,1230.2 1163.6,1240.3 1163.7,1234.2 1163.9,1232.2 1164.1,1239.6 1164.3,1233.0 1164.5,1233.5 1164.6,1248.9 1164.8,1232.8 1165.0,1234.2 1165.2,1236.6 1165.3,1229.9 1165.5,1223.4 1165.7,1240.7 1165.9,1229.8 1166.1,1230.6 1166.2,1231.1 1166.4,1227.1 1166.6,1226.2 1166.8,1233.0 1167.0,1245.5 1167.1,1235.8 1167.3,1235.8 1167.5,1222.8 1167.7,1231.4 1167.8,1224.8 1168.0,1236.2 1168.2,1230.6 1168.4,1232.3 1168.6,1231.8 1168.7,1229.1 1168.9,1223.9 1169.1,1236.4 1169.3,1225.3 1169.5,1226.7 1169.6,1232.1 1169.8,1229.9 1170.0,1235.8 1170.2,1240.3 1170.3,1236.8 1170.5,1236.0 1170.7,1235.1 1170.9,1240.0 1171.1,1224.3 1171.2,1237.1 1171.4,1229.5 1171.6,1227.6 1171.8,1234.6 1171.9,1232.1 1172.1,1237.5 1172.3,1240.2 1172.5,1219.8 1172.7,1232.6 1172.8,1244.1 1173.0,1237.4 1173.2,1240.4 1173.4,1232.1 1173.6,1222.7 1173.7,1224.2 1173.9,1234.6 1174.1,1235.7 1174.3,1225.4 1174.4,1227.8 1174.6,1230.6 1174.8,1218.4 1175.0,1226.3 1175.2,1237.6 1175.3,1240.6 1175.5,1226.7 1175.7,1237.7 1175.9,1223.5 1176.1,1221.4 1176.2,1212.6 1176.4,1231.2 1176.6,1223.0 1176.8,1238.8 1176.9,1226.6 1177.1,1225.6 1177.3,1213.6 1177.5,1233.1 1177.7,1221.9 1177.8,1223.1 1178.0,1210.9 1178.2,1229.6 1178.4,1230.0 1178.5,1220.7 1178.7,1225.0 1178.9,1226.9 1179.1,1230.5 1179.3,1225.6 1179.4,1235.4 1179.6,1223.9 1179.8,1221.9 1180.0,1222.9 1180.2,1210.6 1180.3,1221.1 1180.5,1232.1 1180.7,1227.7 1180.9,1221.2 1181.0,1228.2 1181.2,1214.0 1181.4,1224.3 1181.6,1229.1 1181.8,1230.0 1181.9,1221.0 1182.1,1231.0 1182.3,1236.6 1182.5,1222.6 1182.6,1229.4 1182.8,1215.4 1183.0,1205.4 1183.2,1228.1 1183.4,1224.5 1183.5,1225.4 1183.7,1220.6 1183.9,1221.0 1184.1,1229.0 1184.3,1234.5 1184.4,1222.9 1184.6,1214.3 1184.8,1232.2 1185.0,1228.3 1185.1,1228.9 1185.3,1226.1 1185.5,1239.3 1185.7,1225.8 1185.9,1228.6 1186.0,1214.3 1186.2,1222.1 1186.4,1221.5 1186.6,1225.4 1186.8,1227.7 1186.9,1220.9 1187.1,1235.9 1187.3,1218.7 1187.5,1222.3 1187.6,1226.3 1187.8,1217.0 1188.0,1227.9 1188.2,1228.1 1188.4,1222.2 1188.5,1235.5 1188.7,1224.1 1188.9,1225.2 1189.1,1217.4 1189.2,1212.8 1189.4,1219.1 1189.6,1221.0 1189.8,1220.1 1190.0,1227.6 1190.1,1208.1 1190.3,1215.8 1190.5,1211.5 1190.7,1231.0 1190.9,1219.1 1191.0,1219.3 1191.2,1215.6 1191.4,1227.8 1191.6,1219.4 1191.7,1223.1 1191.9,1208.7 1192.1,1228.3 1192.3,1223.0 1192.5,1223.5 1192.6,1227.2 1192.8,1217.7 1193.0,1217.3 1193.2,1222.2 1193.4,1219.7 1193.5,1214.8 1193.7,1216.0 1193.9,1211.9 1194.1,1218.9 1194.2,1219.6 1194.4,1213.2 1194.6,1224.4 1194.8,1202.4 1195.0,1210.2 1195.1,1222.0 1195.3,1208.2 1195.5,1200.5 1195.7,1219.2 1195.8,1213.7 1196.0,1202.7 1196.2,1215.2 1196.4,1203.9 1196.6,1202.1 1196.7,1209.9 1196.9,1208.0 1197.1,1204.4 1197.3,1209.4 1197.5,1205.7 1197.6,1212.7 1197.8,1212.5 1198.0,1217.6 1198.2,1210.1 1198.3,1204.6 1198.5,1204.6 1198.7,1211.4 1198.9,1228.3 1199.1,1217.9 1199.2,1208.0 1199.4,1217.7 1199.6,1203.8 1199.8,1217.1 1199.9,1207.6 1200.1,1214.4 1200.3,1212.9 1200.5,1206.6 1200.7,1209.9 1200.8,1200.5 1201.0,1206.4 1201.2,1213.4 1201.4,1232.5 1201.6,1210.3 1201.7,1206.1 1201.9,1198.7 1202.1,1211.9 1202.3,1194.1 1202.4,1199.5 1202.6,1206.8 1202.8,1196.5 1203.0,1214.2 1203.2,1211.2 1203.3,1200.3 1203.5,1200.3 1203.7,1195.3 1203.9,1194.7 1204.1,1206.8 1204.2,1208.0 1204.4,1206.3 1204.6,1205.9 1204.8,1200.7 1204.9,1206.8 1205.1,1195.0 1205.3,1204.9 1205.5,1214.6 1205.7,1213.8 1205.8,1202.2 1206.0,1203.1 1206.2,1214.3 1206.4,1217.0 1206.5,1195.6 1206.7,1202.8 1206.9,1207.2 1207.1,1213.7 1207.3,1200.3 1207.4,1209.9 1207.6,1202.3 1207.8,1221.0 1208.0,1208.1 1208.2,1204.1 1208.3,1202.5 1208.5,1211.3 1208.7,1208.4 1208.9,1196.6 1209.0,1204.6 1209.2,1194.1 1209.4,1197.4 1209.6,1193.5 1209.8,1192.9 1209.9,1196.7 1210.1,1194.5 1210.3,1204.0 1210.5,1205.5 1210.7,1198.6 1210.8,1192.8 1211.0,1205.3 1211.2,1187.1 1211.4,1187.9 1211.5,1205.3 1211.7,1205.2 1211.9,1207.7 1212.1,1200.5 1212.3,1194.3 1212.4,1199.7 1212.6,1206.9 1212.8,1198.6 1213.0,1199.4 1213.1,1195.3 1213.3,1197.1 1213.5,1210.6 1213.7,1208.5 1213.9,1198.4 1214.0,1199.4 1214.2,1203.2 1214.4,1210.8 1214.6,1200.1 1214.8,1207.0 1214.9,1194.5 1215.1,1200.6 1215.3,1212.0 1215.5,1215.4 1215.6,1202.3 1215.8,1205.1 1216.0,1215.7 1216.2,1208.1 1216.4,1207.3 1216.5,1214.4 1216.7,1212.4 1216.9,1218.5 1217.1,1216.4 1217.2,1207.3 1217.4,1210.2 1217.6,1210.5 1217.8,1201.6 1218.0,1203.9 1218.1,1216.4 1218.3,1199.0 1218.5,1215.6 1218.7,1210.4 1218.9,1207.1 1219.0,1211.0 1219.2,1210.0 1219.4,1214.3 1219.6,1203.0 1219.7,1203.6 1219.9,1203.0 1220.1,1216.8 1220.3,1210.1 1220.5,1197.1 1220.6,1200.7 1220.8,1197.9 1221.0,1202.3 1221.2,1203.4 1221.4,1217.0 1221.5,1189.1 1221.7,1207.9 1221.9,1205.2 1222.1,1195.7 1222.2,1199.1 1222.4,1196.4 1222.6,1199.7 1222.8,1205.9 1223.0,1188.5 1223.1,1207.3 1223.3,1195.6 1223.5,1208.1 1223.7,1200.5 1223.8,1205.8 1224.0,1201.2 1224.2,1204.6 1224.4,1197.5 1224.6,1191.4 1224.7,1204.2 1224.9,1201.9 1225.1,1211.3 1225.3,1183.3 1225.5,1195.6 1225.6,1204.2 1225.8,1188.3 1226.0,1195.2 1226.2,1211.1 1226.3,1206.2 1226.5,1190.2 1226.7,1205.8 1226.9,1203.8 1227.1,1200.7 1227.2,1197.5 1227.4,1196.1 1227.6,1188.0 1227.8,1189.9 1228.0,1198.0 1228.1,1193.4 1228.3,1204.6 1228.5,1189.0 1228.7,1164.1 1228.8,1188.0 1229.0,1191.8 1229.2,1192.2 1229.4,1189.6 1229.6,1183.1 1229.7,1198.9 1229.9,1183.7 1230.1,1193.1 1230.3,1185.9 1230.4,1179.4 1230.6,1197.5 1230.8,1170.0 1231.0,1181.4 1231.2,1190.2 1231.3,1184.5 1231.5,1192.0 1231.7,1185.9 1231.9,1183.1 1232.1,1201.1 1232.2,1184.1 1232.4,1184.1 1232.6,1177.2 1232.8,1179.0 1232.9,1188.4 1233.1,1187.2 1233.3,1182.7 1233.5,1177.2 1233.7,1186.4 1233.8,1169.0 1234.0,1178.0 1234.2,1178.1 1234.4,1173.3 1234.5,1179.8 1234.7,1173.5 1234.9,1172.1 1235.1,1190.1 1235.3,1182.2 1235.4,1185.2 1235.6,1176.5 1235.8,1182.4 1236.0,1180.6 1236.2,1183.3 1236.3,1191.2 1236.5,1172.3 1236.7,1175.6 1236.9,1173.2 1237.0,1148.1 1237.2,1163.4 1237.4,1173.6 1237.6,1178.2 1237.8,1169.4 1237.9,1182.0 1238.1,1183.1 1238.3,1170.7 1238.5,1184.1 1238.7,1186.5 1238.8,1176.9 1239.0,1166.0 1239.2,1183.8 1239.4,1171.3 1239.5,1169.3 1239.7,1172.4 1239.9,1166.9 1240.1,1178.2 1240.3,1175.3 1240.4,1177.9 1240.6,1172.4 1240.8,1161.4 1241.0,1165.3 1241.1,1173.3 1241.3,1164.2 1241.5,1189.5 1241.7,1166.5 1241.9,1164.5 1242.0,1178.0 1242.2,1175.7 1242.4,1170.6 1242.6,1169.8 1242.8,1175.4 1242.9,1179.1 1243.1,1179.2 1243.3,1172.1 1243.5,1178.2 1243.6,1181.8 1243.8,1181.8 1244.0,1154.3 1244.2,1170.8 1244.4,1172.1 1244.5,1176.5 1244.7,1179.8 1244.9,1185.5 1245.1,1183.6 1245.3,1178.4 1245.4,1179.7 1245.6,1192.4 1245.8,1175.6 1246.0,1182.4 1246.1,1191.5 1246.3,1183.1 1246.5,1166.4 1246.7,1183.8 1246.9,1178.8 1247.0,1181.1 1247.2,1189.7 1247.4,1186.1 1247.6,1181.5 1247.7,1190.2 1247.9,1187.6 1248.1,1186.1 1248.3,1188.2 1248.5,1188.7 1248.6,1185.5 1248.8,1185.6 1249.0,1189.9 1249.2,1184.2 1249.4,1183.2 1249.5,1201.7 1249.7,1192.2 1249.9,1194.6 1250.1,1194.6 1250.2,1196.1 1250.4,1196.4 1250.6,1196.9 1250.8,1191.2 1251.0,1203.2 1251.1,1192.2 1251.3,1204.0 1251.5,1183.9 1251.7,1189.7 1251.8,1203.5 1252.0,1195.5 1252.2,1191.7 1252.4,1198.6 1252.6,1188.6 1252.7,1195.9 1252.9,1179.9 1253.1,1191.4 1253.3,1189.7 1253.5,1197.3 1253.6,1199.1 1253.8,1186.9 1254.0,1203.2 1254.2,1187.9 1254.3,1177.6 1254.5,1175.0 1254.7,1201.4 1254.9,1190.1 1255.1,1186.2 1255.2,1185.4 1255.4,1183.1 1255.6,1199.7 1255.8,1190.2 1256.0,1203.1 1256.1,1189.9 1256.3,1175.7 1256.5,1197.7 1256.7,1189.9 1256.8,1191.3 1257.0,1210.4 1257.2,1192.0 1257.4,1202.1 1257.6,1194.5 1257.7,1189.8 1257.9,1198.6 1258.1,1191.2 1258.3,1203.8 1258.4,1202.0 1258.6,1195.9 1258.8,1199.6 1259.0,1199.2 1259.2,1193.3 1259.3,1201.1 1259.5,1193.2 1259.7,1198.7 1259.9,1187.8 1260.1,1194.7 1260.2,1196.5 1260.4,1188.1 1260.6,1190.4 1260.8,1189.3 1260.9,1197.6 1261.1,1187.5 1261.3,1195.2 1261.5,1202.3 1261.7,1194.2 1261.8,1180.6 1262.0,1192.2 1262.2,1198.3 1262.4,1189.1 1262.6,1198.5 1262.7,1195.0 1262.9,1195.4 1263.1,1188.9 1263.3,1187.2 1263.4,1189.0 1263.6,1191.2 1263.8,1194.4 1264.0,1193.8 1264.2,1189.0 1264.3,1191.7 1264.5,1194.1 1264.7,1180.7 1264.9,1186.8 1265.0,1186.9 1265.2,1191.3 1265.4,1191.2 1265.6,1191.6 1265.8,1187.8 1265.9,1198.6 1266.1,1196.2 1266.3,1183.5 1266.5,1195.1 1266.7,1187.5 1266.8,1206.8 1267.0,1192.3 1267.2,1192.9 1267.4,1196.2 1267.5,1194.3 1267.7,1195.2 1267.9,1206.1 1268.1,1197.0 1268.3,1201.1 1268.4,1202.9 1268.6,1188.5 1268.8,1206.4 1269.0,1199.5 1269.1,1201.1 1269.3,1188.6 1269.5,1199.8 1269.7,1196.8 1269.9,1190.2 1270.0,1209.2 1270.2,1197.4 1270.4,1191.8 1270.6,1194.7 1270.8,1199.5 1270.9,1201.0 1271.1,1197.3 1271.3,1201.6 1271.5,1203.4 1271.6,1185.2 1271.8,1190.4 1272.0,1187.4 1272.2,1194.6 1272.4,1203.8 1272.5,1198.6 1272.7,1187.2 1272.9,1192.3 1273.1,1201.3 1273.3,1190.8 1273.4,1193.7 1273.6,1196.3 1273.8,1181.8 1274.0,1199.3 1274.1,1196.2 1274.3,1197.5 1274.5,1186.8 1274.7,1187.9 1274.9,1188.8 1275.0,1194.2 1275.2,1192.6 1275.4,1192.7 1275.6,1203.5 1275.7,1199.9 1275.9,1185.8 1276.1,1185.8 1276.3,1201.5 1276.5,1187.3 1276.6,1198.5 1276.8,1199.6 1277.0,1184.8 1277.2,1185.3 1277.4,1188.5 1277.5,1181.8 1277.7,1180.8 1277.9,1184.6 1278.1,1192.9 1278.2,1184.0 1278.4,1185.6 1278.6,1183.8 1278.8,1177.7 1279.0,1197.1 1279.1,1171.2 1279.3,1182.8 1279.5,1191.2 1279.7,1178.1 1279.8,1191.9 1280.0,1196.6 1280.2,1182.7 1280.4,1190.3 1280.6,1181.8 1280.7,1193.2 1280.9,1190.9 1281.1,1192.4 1281.3,1200.7 1281.5,1195.3 1281.6,1201.8 1281.8,1197.6 1282.0,1185.8 1282.2,1196.3 1282.3,1198.4 1282.5,1185.8 1282.7,1205.1 1282.9,1196.9 1283.1,1199.2 1283.2,1190.9 1283.4,1197.6 1283.6,1199.2 1283.8,1195.0 1284.0,1197.7 1284.1,1182.6 1284.3,1206.0 1284.5,1189.0 1284.7,1181.5 1284.8,1189.4 1285.0,1190.0 1285.2,1199.0 1285.4,1188.8 1285.6,1196.6 1285.7,1187.9 1285.9,1209.1 1286.1,1197.6 1286.3,1207.0 1286.4,1186.7 1286.6,1197.9 1286.8,1183.1 1287.0,1197.3 1287.2,1197.9 1287.3,1182.6 1287.5,1185.7 1287.7,1185.6 1287.9,1183.4 1288.1,1188.7 1288.2,1187.3 1288.4,1184.1 1288.6,1194.7 1288.8,1197.8 1288.9,1185.4 1289.1,1190.6 1289.3,1194.6 1289.5,1193.1 1289.7,1190.0 1289.8,1200.3 1290.0,1200.7 1290.2,1199.6 1290.4,1193.6 1290.6,1208.5 1290.7,1206.8 1290.9,1192.3 1291.1,1194.1 1291.3,1202.8 1291.4,1189.2 1291.6,1197.1 1291.8,1194.5 1292.0,1189.2 1292.2,1192.0 1292.3,1182.7 1292.5,1189.3 1292.7,1179.1 1292.9,1207.7 1293.0,1202.1 1293.2,1199.9 1293.4,1193.3 1293.6,1197.8 1293.8,1199.4 1293.9,1197.4 1294.1,1196.6 1294.3,1184.0 1294.5,1193.0 1294.7,1186.3 1294.8,1181.9 1295.0,1182.1 1295.2,1192.6 1295.4,1196.8 1295.5,1180.3 1295.7,1201.3 1295.9,1199.3 1296.1,1186.7 1296.3,1186.0 1296.4,1188.6 1296.6,1195.6 1296.8,1186.3 1297.0,1181.3 1297.1,1191.0 1297.3,1174.6 1297.5,1189.5 1297.7,1196.4 1297.9,1190.6 1298.0,1193.8 1298.2,1191.9 1298.4,1193.5 1298.6,1189.6 1298.8,1183.0 1298.9,1187.2 1299.1,1188.3 1299.3,1197.4 1299.5,1200.0 1299.6,1191.9 1299.8,1184.1 1300.0,1184.4 1300.2,1188.0 1300.4,1198.7 1300.5,1191.5 1300.7,1188.9 1300.9,1184.1 1301.1,1195.4 1301.3,1191.4 1301.4,1189.2 1301.6,1190.3 1301.8,1201.2 1302.0,1188.8 1302.1,1201.5 1302.3,1198.6 1302.5,1190.6 1302.7,1196.5 1302.9,1189.8 1303.0,1185.2 1303.2,1189.2 1303.4,1185.1 1303.6,1195.2 1303.7,1192.1 1303.9,1196.2 1304.1,1198.4 1304.3,1171.7 1304.5,1195.6 1304.6,1181.4 1304.8,1195.3 1305.0,1188.4 1305.2,1195.3 1305.4,1204.1 1305.5,1183.0 1305.7,1196.0 1305.9,1194.0 1306.1,1181.1 1306.2,1198.3 1306.4,1193.6 1306.6,1189.2 1306.8,1187.0 1307.0,1213.6 1307.1,1187.7 1307.3,1177.1 1307.5,1182.2 1307.7,1185.2 1307.9,1184.2 1308.0,1185.4 1308.2,1177.7 1308.4,1187.9 1308.6,1179.9 1308.7,1172.9 1308.9,1175.9 1309.1,1178.2 1309.3,1186.1 1309.5,1182.9 1309.6,1175.1 1309.8,1178.5 1310.0,1179.4 1310.2,1191.7 1310.3,1172.6 1310.5,1179.8 1310.7,1181.2 1310.9,1169.1 1311.1,1176.7 1311.2,1176.2 1311.4,1171.5 1311.6,1178.2 1311.8,1180.9 1312.0,1181.2 1312.1,1171.4 1312.3,1173.8 1312.5,1188.9 1312.7,1164.2 1312.8,1173.5 1313.0,1178.4 1313.2,1173.2 1313.4,1177.1 1313.6,1174.7 1313.7,1178.6 1313.9,1182.8 1314.1,1172.5 1314.3,1176.0 1314.4,1174.7 1314.6,1172.7 1314.8,1175.9 1315.0,1168.2 1315.2,1181.0 1315.3,1187.0 1315.5,1186.0 1315.7,1181.9 1315.9,1164.6 1316.1,1181.1 1316.2,1163.8 1316.4,1167.0 1316.6,1178.7 1316.8,1156.8 1316.9,1168.3 1317.1,1162.7 1317.3,1154.2 1317.5,1140.9 1317.7,1141.1 1317.8,1126.7 1318.0,1128.1 1318.2,1120.6 1318.4,1095.4 1318.6,1085.5 1318.7,1070.1 1318.9,1048.2 1319.1,1032.0 1319.3,1022.6 1319.4,1004.2 1319.6,982.6 1319.8,976.6 1320.0,970.0 1320.2,949.0 1320.3,938.5 1320.5,938.1 1320.7,924.6 1320.9,900.0 1321.0,889.5 1321.2,884.4 1321.4,871.4 1321.6,870.8 1321.8,866.2 1321.9,865.3 1322.1,852.3 1322.3,849.6 1322.5,848.4 1322.7,850.4 1322.8,843.5 1323.0,835.7 1323.2,837.3 1323.4,843.7 1323.5,847.9 1323.7,854.3 1323.9,863.6 1324.1,871.7 1324.3,875.5 1324.4,883.3 1324.6,888.3 1324.8,893.8 1325.0,898.6 1325.2,913.3 1325.3,922.4 1325.5,933.8 1325.7,949.9 1325.9,959.2 1326.0,972.2 1326.2,971.4 1326.4,992.9 1326.6,997.8 1326.8,1001.1 1326.9,1004.4 1327.1,1020.1 1327.3,1021.6 1327.5,1015.6 1327.6,1016.2 1327.8,1027.2 1328.0,1027.4 1328.2,1045.4 1328.4,1027.0 1328.5,1027.5 1328.7,1042.1 1328.9,1047.4 1329.1,1051.1 1329.3,1057.7 1329.4,1069.8 1329.6,1053.4 1329.8,1053.7 1330.0,1046.2 1330.1,1063.8 1330.3,1070.6 1330.5,1063.8 1330.7,1077.2 1330.9,1070.1 1331.0,1084.0 1331.2,1076.8 1331.4,1068.0 1331.6,1073.6 1331.7,1068.8 1331.9,1068.7 1332.1,1081.0 1332.3,1082.3 1332.5,1087.6 1332.6,1068.3 1332.8,1063.7 1333.0,1053.6 1333.2,1067.4 1333.4,1059.6 1333.5,1048.8 1333.7,1056.2 1333.9,1052.2 1334.1,1030.0 1334.2,1051.3 1334.4,1040.0 1334.6,1032.8 1334.8,1029.4 1335.0,1042.9 1335.1,1037.8 1335.3,1036.4 1335.5,1010.7 1335.7,1011.0 1335.9,1018.7 1336.0,1000.1 1336.2,1000.1 1336.4,989.2 1336.6,1009.9 1336.7,1000.9 1336.9,993.2 1337.1,988.0 1337.3,980.5 1337.5,977.0 1337.6,976.3 1337.8,962.2 1338.0,964.9 1338.2,949.4 1338.3,940.7 1338.5,946.5 1338.7,930.0 1338.9,925.6 1339.1,915.0 1339.2,901.7 1339.4,904.3 1339.6,893.2 1339.8,898.9 1340.0,885.9 1340.1,881.7 1340.3,883.9 1340.5,880.7 1340.7,876.3 1340.8,867.8 1341.0,872.3 1341.2,872.4 1341.4,880.5 1341.6,885.4 1341.7,892.1 1341.9,901.1 1342.1,902.7 1342.3,911.8 1342.5,919.4 1342.6,919.0 1342.8,928.0 1343.0,938.0 1343.2,944.5 1343.3,955.4 1343.5,949.4 1343.7,962.5 1343.9,964.5 1344.1,961.9 1344.2,957.3 1344.4,966.4 1344.6,965.2 1344.8,973.6 1344.9,971.8 1345.1,979.0 1345.3,973.7 1345.5,994.2 1345.7,965.0 1345.8,976.0 1346.0,989.0 1346.2,976.5 1346.4,995.5 1346.6,982.9 1346.7,995.1 1346.9,989.4 1347.1,995.3 1347.3,1002.4 1347.4,1002.0 1347.6,1000.7 1347.8,1022.6 1348.0,1005.9 1348.2,998.6 1348.3,1015.4 1348.5,1015.4 1348.7,1019.7 1348.9,1025.3 1349.0,1002.7 1349.2,1020.5 1349.4,1021.8 1349.6,1012.5 1349.8,1015.1 1349.9,987.5 1350.1,1008.8 1350.3,1029.6 1350.5,998.9 1350.7,1010.0 1350.8,1017.4 1351.0,1020.2 1351.2,1029.7 1351.4,1000.5 1351.5,1015.9 1351.7,1022.9 1351.9,1004.0 1352.1,1015.1 1352.3,1031.9 1352.4,1027.3 1352.6,1020.9 1352.8,994.0 1353.0,1016.0 1353.2,1021.0 1353.3,1015.5 1353.5,1018.1 1353.7,1045.9 1353.9,1017.8 1354.0,1011.6 1354.2,1022.4 1354.4,1017.7 1354.6,1017.9 1354.8,1019.8 1354.9,1027.2 1355.1,1022.3 1355.3,1009.6 1355.5,1018.6 1355.6,1023.5 1355.8,1015.0 1356.0,1028.7 1356.2,1025.2 1356.4,1009.6 1356.5,1020.8 1356.7,1035.1 1356.9,1031.5 1357.1,1017.5 1357.3,1025.9 1357.4,1009.0 1357.6,1006.1 1357.8,1023.8 1358.0,1021.5 1358.1,1024.2 1358.3,1019.9 1358.5,1023.3 1358.7,1016.3 1358.9,1025.0 1359.0,1028.2 1359.2,1020.5 1359.4,1027.9 1359.6,1005.2 1359.8,1013.3 1359.9,1032.1 1360.1,1034.2 1360.3,1020.4 1360.5,1016.5 1360.6,1005.6 1360.8,1018.9 1361.0,1021.6 1361.2,1001.2 1361.4,1021.0 1361.5,1016.8 1361.7,1015.7 1361.9,1001.5 1362.1,1015.6 1362.2,997.5 1362.4,1023.1 1362.6,1011.1 1362.8,999.6 1363.0,1021.3 1363.1,1019.5 1363.3,1003.8 1363.5,1028.5 1363.7,1000.6 1363.9,1013.6 1364.0,1019.4 1364.2,989.2 1364.4,1022.6 1364.6,1007.8 1364.7,1007.9 1364.9,998.3 1365.1,1010.2 1365.3,997.2 1365.5,998.0 1365.6,1002.1 1365.8,994.9 1366.0,1018.9 1366.2,993.4 1366.3,998.1 1366.5,1001.8 1366.7,1004.5 1366.9,1011.4 1367.1,1011.7 1367.2,1002.1 1367.4,1001.6 1367.6,1005.6 1367.8,1012.7 1368.0,1012.0 1368.1,1001.9 1368.3,988.9 1368.5,1025.7 1368.7,1015.7 1368.8,1010.0 1369.0,1011.0 1369.2,1001.0 1369.4,999.7 1369.6,1005.7 1369.7,1006.7 1369.9,1003.3 1370.1,996.1 1370.3,1006.0 1370.5,1013.7 1370.6,1004.4 1370.8,1008.8 1371.0,990.6 1371.2,1006.7 1371.3,1007.4 1371.5,991.5 1371.7,993.5 1371.9,1011.9 1372.1,1001.3 1372.2,1012.1 1372.4,1003.9 1372.6,1012.5 1372.8,1003.9 1372.9,993.6 1373.1,1005.4 1373.3,1003.1 1373.5,1014.5 1373.7,1001.6 1373.8,1001.8 1374.0,1012.1 1374.2,1014.5 1374.4,1010.9 1374.6,1013.0 1374.7,1008.0 1374.9,1010.4 1375.1,1011.1 1375.3,1007.1 1375.4,1004.2 1375.6,1004.7 1375.8,1022.3 1376.0,1003.3 1376.2,1000.5 1376.3,998.7 1376.5,1000.2 1376.7,1001.3 1376.9,990.1 1377.1,983.0 1377.2,998.2 1377.4,983.6 1377.6,995.3 1377.8,993.2 1377.9,998.5 1378.1,995.8 1378.3,979.2 1378.5,965.3 1378.7,953.5 1378.8,947.9 1379.0,944.8 1379.2,917.8 1379.4,928.9 1379.5,920.4 1379.7,915.9 1379.9,903.0 1380.1,888.2 1380.3,856.6 1380.4,830.6 1380.6,797.0 1380.8,778.5 1381.0,757.5 1381.2,723.8 1381.3,691.2 1381.5,623.8 1381.7,575.3 1381.9,501.2 1382.0,445.5 1382.2,381.0 1382.4,315.2 1382.6,260.6 1382.8,195.0 1382.9,179.2 1383.1,177.7 1383.3,173.8 1383.5,170.2 1383.6,170.7 1383.8,166.2 1384.0,170.0 1384.2,169.8 1384.4,169.2 1384.5,174.2 1384.7,177.0 1384.9,213.8 1385.1,279.9 1385.3,331.2 1385.4,399.8 1385.6,452.6 1385.8,518.9 1386.0,582.9 1386.1,637.5 1386.3,696.2 1386.5,733.9 1386.7,762.6 1386.9,790.8 1387.0,816.5 1387.2,859.5 1387.4,877.5 1387.6,884.5 1387.8,907.3 1387.9,911.9 1388.1,916.6 1388.3,935.1 1388.5,939.3 1388.6,952.1 1388.8,959.8 1389.0,962.1 1389.2,975.4 1389.4,971.4 1389.5,964.7 1389.7,967.3 1389.9,980.0 1390.1,972.0 1390.2,976.1 1390.4,981.7 1390.6,979.0 1390.8,967.9 1391.0,985.2 1391.1,988.7 1391.3,989.4 1391.5,1004.0 1391.7,987.6 1391.9,995.7 1392.0,999.6 1392.2,985.3 1392.4,1002.8 1392.6,1003.8 1392.7,996.8 1392.9,1006.5 1393.1,998.8 1393.3,984.6 1393.5,1002.0 1393.6,995.4 1393.8,996.4 1394.0,994.4 1394.2,1004.9 1394.4,998.1 1394.5,987.3 1394.7,1000.0 1394.9,999.4 1395.1,986.6 1395.2,988.8 1395.4,989.0 1395.6,986.6 1395.8,994.6 1396.0,1000.0 1396.1,1005.8 1396.3,997.5 1396.5,993.8 1396.7,992.8 1396.8,992.5 1397.0,975.5 1397.2,983.2 1397.4,978.2 1397.6,972.1 1397.7,968.5 1397.9,966.8 1398.1,967.8 1398.3,958.2 1398.5,972.9 1398.6,967.2 1398.8,967.6 1399.0,968.9 1399.2,971.6 1399.3,959.1 1399.5,962.7 1399.7,948.4 1399.9,942.0 1400.1,943.7 1400.2,974.2 1400.4,942.8 1400.6,962.6 1400.8,970.7 1400.9,952.4 1401.1,980.0 1401.3,972.9 1401.5,969.6 1401.7,977.1 1401.8,960.9 1402.0,948.4 1402.2,959.4 1402.4,950.3 1402.6,942.0 1402.7,941.8 1402.9,974.0 1403.1,947.5 1403.3,951.7 1403.4,945.2 1403.6,951.9 1403.8,947.7 1404.0,945.4 1404.2,937.3 1404.3,934.6 1404.5,939.8 1404.7,948.4 1404.9,963.9 1405.1,953.7 1405.2,959.9 1405.4,946.8 1405.6,940.7 1405.8,928.6 1405.9,940.0 1406.1,919.6 1406.3,935.9 1406.5,953.0 1406.7,940.5 1406.8,947.4 1407.0,933.0 1407.2,923.4 1407.4,931.3 1407.5,931.6 1407.7,946.1 1407.9,952.9 1408.1,927.6 1408.3,930.8 1408.4,932.5 1408.6,930.4 1408.8,921.9 1409.0,933.7 1409.2,935.5 1409.3,935.1 1409.5,919.7 1409.7,929.1 1409.9,913.3 1410.0,937.1 1410.2,918.3 1410.4,924.3 1410.6,921.7 1410.8,919.5 1410.9,914.0 1411.1,906.4 1411.3,938.0 1411.5,923.2 1411.7,922.3 1411.8,938.5 1412.0,917.0 1412.2,922.1 1412.4,916.3 1412.5,926.3 1412.7,919.0 1412.9,916.5 1413.1,910.3 1413.3,914.5 1413.4,922.0 1413.6,890.8 1413.8,908.3 1414.0,904.7 1414.1,904.9 1414.3,888.2 1414.5,912.8 1414.7,896.9 1414.9,902.2 1415.0,899.0 1415.2,887.4 1415.4,898.3 1415.6,884.4 1415.8,892.1 1415.9,897.2 1416.1,899.3 1416.3,899.0 1416.5,896.2 1416.6,916.8 1416.8,899.8 1417.0,883.2 1417.2,888.1 1417.4,886.9 1417.5,890.7 1417.7,886.0 1417.9,883.0 1418.1,906.3 1418.2,890.6 1418.4,886.7 1418.6,887.3 1418.8,887.5 1419.0,902.7 1419.1,894.1 1419.3,900.2 1419.5,860.0 1419.7,892.8 1419.9,899.8 1420.0,908.6 1420.2,890.2 1420.4,873.7 1420.6,895.7 1420.7,884.4 1420.9,873.1 1421.1,884.3 1421.3,900.3 1421.5,901.7 1421.6,897.2 1421.8,880.4 1422.0,914.5 1422.2,879.4 1422.4,890.0 1422.5,877.1 1422.7,903.6 1422.9,895.5 1423.1,899.9 1423.2,892.4 1423.4,891.0 1423.6,893.5 1423.8,873.8 1424.0,901.5 1424.1,900.7 1424.3,888.2 1424.5,891.9 1424.7,894.8 1424.8,907.0 1425.0,896.0 1425.2,892.3 1425.4,887.0 1425.6,877.5 1425.7,886.3 1425.9,892.7 1426.1,889.8 1426.3,893.0 1426.5,899.6 1426.6,896.8 1426.8,895.4 1427.0,899.1 1427.2,894.7 1427.3,892.6 1427.5,897.4 1427.7,876.7 1427.9,905.6 1428.1,881.4 1428.2,901.8 1428.4,893.8 1428.6,910.7 1428.8,893.4 1429.0,883.5 1429.1,902.3 1429.3,893.1 1429.5,891.8 1429.7,890.7 1429.8,898.8 1430.0,896.3 1430.2,890.0 1430.4,872.5 1430.6,882.9 1430.7,887.4 1430.9,903.3 1431.1,889.8 1431.3,885.3 1431.4,897.8 1431.6,885.7 1431.8,887.0 1432.0,889.3 1432.2,874.2 1432.3,898.3 1432.5,894.1 1432.7,888.2 1432.9,880.9 1433.1,894.6 1433.2,906.7 1433.4,888.1 1433.6,884.9 1433.8,899.7 1433.9,881.3 1434.1,876.1 1434.3,893.6 1434.5,891.9 1434.7,896.4 1434.8,894.4 1435.0,903.3 1435.2,898.8 1435.4,895.8 1435.5,897.8 1435.7,908.7 1435.9,912.4 1436.1,912.5 1436.3,911.0 1436.4,873.8 1436.6,895.9 1436.8,902.8 1437.0,908.1 1437.2,891.3 1437.3,920.2 1437.5,909.9 1437.7,901.4 1437.9,909.0 1438.0,904.3 1438.2,900.5 1438.4,912.5 1438.6,903.5 1438.8,894.6 1438.9,901.9 1439.1,906.9 1439.3,897.9 1439.5,920.0 1439.7,898.1 1439.8,925.0 1440.0,917.2 1440.2,900.3 1440.4,910.7 1440.5,921.0 1440.7,908.6 1440.9,899.8 1441.1,912.5 1441.3,930.7 1441.4,890.8 1441.6,918.5 1441.8,914.0 1442.0,913.4 1442.1,911.5 1442.3,912.8 1442.5,926.1 1442.7,922.1 1442.9,907.3 1443.0,931.2 1443.2,904.7 1443.4,923.0 1443.6,918.6 1443.8,928.1 1443.9,920.3 1444.1,926.8 1444.3,916.7 1444.5,926.0 1444.6,920.0 1444.8,936.7 1445.0,910.0 1445.2,927.5 1445.4,920.4 1445.5,917.5 1445.7,910.3 1445.9,919.5 1446.1,901.4 1446.3,902.1 1446.4,921.3 1446.6,900.1 1446.8,927.9 1447.0,911.9 1447.1,916.9 1447.3,915.4 1447.5,918.8 1447.7,912.6 1447.9,912.1 1448.0,914.7 1448.2,926.1 1448.4,927.3 1448.6,929.0 1448.7,920.9 1448.9,916.1 1449.1,902.6 1449.3,924.6 1449.5,926.7 1449.6,915.3 1449.8,926.7 1450.0,931.3 1450.2,920.2 1450.4,929.2 1450.5,922.1 1450.7,903.0 1450.9,914.6 1451.1,915.0 1451.2,923.5 1451.4,910.3 1451.6,913.9 1451.8,908.8 1452.0,917.0 1452.1,917.7 1452.3,925.8 1452.5,923.8 1452.7,917.5 1452.8,917.8 1453.0,916.1 1453.2,915.7 1453.4,928.6 1453.6,890.5 1453.7,911.5 1453.9,915.6 1454.1,922.7 1454.3,901.4 1454.5,914.4 1454.6,918.7 1454.8,906.1 1455.0,892.0 1455.2,906.1 1455.3,897.9 1455.5,914.9 1455.7,900.7 1455.9,925.1 1456.1,909.7 1456.2,900.9 1456.4,903.9 1456.6,898.6 1456.8,912.8 1457.0,923.5 1457.1,908.1 1457.3,919.3 1457.5,902.6 1457.7,915.1 1457.8,934.6 1458.0,900.9 1458.2,926.5 1458.4,927.0 1458.6,899.5 1458.7,904.7 1458.9,909.9 1459.1,929.0 1459.3,916.9 1459.4,920.1 1459.6,929.0 1459.8,924.1 1460.0,925.6 1460.2,920.8 1460.3,934.6 1460.5,916.9 1460.7,939.8 1460.9,921.0 1461.1,916.5 1461.2,929.8 1461.4,927.7 1461.6,904.7 1461.8,925.0 1461.9,910.1 1462.1,914.8 1462.3,929.7 1462.5,914.3 1462.7,925.6 1462.8,918.8 1463.0,940.4 1463.2,921.6 1463.4,911.7 1463.6,912.4 1463.7,914.4 1463.9,924.0 1464.1,922.7 1464.3,931.7 1464.4,923.9 1464.6,923.2 1464.8,924.5 1465.0,919.7 1465.2,922.9 1465.3,926.7 1465.5,925.8 1465.7,912.6 1465.9,900.2 1466.0,908.3 1466.2,917.6 1466.4,891.0 1466.6,909.1 1466.8,917.1 1466.9,907.2 1467.1,901.7 1467.3,928.3 1467.5,924.7 1467.7,909.4 1467.8,924.4 1468.0,924.4 1468.2,902.0 1468.4,938.0 1468.5,904.6 1468.7,911.4 1468.9,904.0 1469.1,915.4 1469.3,902.7 1469.4,915.2 1469.6,925.7 1469.8,917.7 1470.0,913.4 1470.1,930.4 1470.3,907.6 1470.5,925.0 1470.7,913.1 1470.9,917.8 1471.0,916.0 1471.2,916.7 1471.4,914.9 1471.6,907.9 1471.8,909.7 1471.9,918.9 1472.1,913.5 1472.3,903.4 1472.5,907.5 1472.6,907.4 1472.8,913.1 1473.0,915.1 1473.2,914.1 1473.4,906.9 1473.5,913.0 1473.7,899.9 1473.9,885.6 1474.1,911.9 1474.3,896.8 1474.4,903.4 1474.6,900.9 1474.8,918.0 1475.0,900.9 1475.1,914.8 1475.3,907.7 1475.5,900.9 1475.7,897.9 1475.9,917.0 1476.0,916.5 1476.2,920.2 1476.4,930.2 1476.6,915.8 1476.7,916.0 1476.9,912.3 1477.1,914.4 1477.3,910.2 1477.5,905.1 1477.6,932.0 1477.8,896.0 1478.0,915.6 1478.2,917.3 1478.4,914.5 1478.5,904.1 1478.7,911.3 1478.9,908.8 1479.1,903.2 1479.2,912.9 1479.4,909.8 1479.6,908.7 1479.8,920.5 1480.0,904.6 1480.1,918.9 1480.3,909.5 1480.5,919.5 1480.7,916.5 1480.9,918.4 1481.0,907.2 1481.2,909.3 1481.4,908.6 1481.6,918.2 1481.7,923.5 1481.9,926.5 1482.1,911.5 1482.3,916.7 1482.5,900.5 1482.6,894.6 1482.8,906.8 1483.0,908.3 1483.2,899.7 1483.3,897.2 1483.5,918.4 1483.7,905.7 1483.9,897.3 1484.1,934.4 1484.2,914.2 1484.4,909.6 1484.6,918.9 1484.8,905.6 1485.0,927.7 1485.1,898.8 1485.3,901.3 1485.5,912.6 1485.7,907.2 1485.8,927.9 1486.0,900.4 1486.2,909.1 1486.4,918.7 1486.6,922.3 1486.7,926.9 1486.9,921.3 1487.1,939.1 1487.3,914.5 1487.4,920.9 1487.6,927.4 1487.8,916.5 1488.0,916.7 1488.2,914.7 1488.3,908.8 1488.5,907.5 1488.7,912.1 1488.9,902.2 1489.1,919.4 1489.2,900.2 1489.4,933.5 1489.6,929.3 1489.8,923.1 1489.9,910.2 1490.1,906.1 1490.3,922.4 1490.5,912.2 1490.7,915.3 1490.8,903.0 1491.0,919.4 1491.2,901.8 1491.4,910.0 1491.6,892.7 1491.7,902.6 1491.9,913.2 1492.1,904.2 1492.3,904.0 1492.4,915.4 1492.6,907.1 1492.8,919.2 1493.0,884.9 1493.2,912.5 1493.3,911.8 1493.5,892.4 1493.7,894.6 1493.9,914.8 1494.0,896.6 1494.2,900.5 1494.4,912.1 1494.6,903.5 1494.8,911.1 1494.9,898.7 1495.1,909.8 1495.3,917.3 1495.5,910.4 1495.7,887.0 1495.8,913.8 1496.0,908.5 1496.2,899.6 1496.4,921.2 1496.5,892.0 1496.7,925.9 1496.9,902.5 1497.1,923.1 1497.3,907.8 1497.4,895.6 1497.6,908.7 1497.8,910.7 1498.0,912.4 1498.2,916.9 1498.3,898.1 1498.5,910.7 1498.7,912.5 1498.9,902.5 1499.0,895.7 1499.2,894.9 1499.4,910.3 1499.6,910.1 1499.8,894.1 1499.9,888.7 1500.1,912.3 1500.3,885.4 1500.5,900.9 1500.6,891.3 1500.8,871.5 1501.0,898.9 1501.2,895.4 1501.4,910.3 1501.5,917.6 1501.7,894.0 1501.9,904.9 1502.1,904.6 1502.3,889.3 1502.4,885.6 1502.6,908.5 1502.8,889.4 1503.0,892.1 1503.1,889.1 1503.3,890.2 1503.5,885.3 1503.7,897.7 1503.9,902.1 1504.0,886.4 1504.2,876.6 1504.4,889.8 1504.6,875.0 1504.7,882.7 1504.9,900.2 1505.1,910.3 1505.3,891.6 1505.5,877.8 1505.6,895.0 1505.8,866.1 1506.0,880.6 1506.2,901.4 1506.4,893.8 1506.5,873.3 1506.7,870.4 1506.9,893.9 1507.1,885.0 1507.2,879.4 1507.4,888.5 1507.6,878.7 1507.8,865.4 1508.0,890.8 1508.1,876.5 1508.3,872.6 1508.5,868.9 1508.7,883.5 1508.9,873.1 1509.0,886.3 1509.2,877.5 1509.4,890.1 1509.6,875.9 1509.7,873.3 1509.9,860.8 1510.1,869.1 1510.3,886.7 1510.5,909.2 1510.6,868.3 1510.8,870.7 1511.0,884.1 1511.2,885.8 1511.3,875.0 1511.5,882.5 1511.7,866.5 1511.9,879.1 1512.1,890.6 1512.2,897.5 1512.4,880.1 1512.6,879.0 1512.8,885.5 1513.0,891.4 1513.1,885.0 1513.3,872.7 1513.5,882.9 1513.7,888.3 1513.8,871.7 1514.0,865.2 1514.2,882.5 1514.4,880.7 1514.6,886.1 1514.7,877.3 1514.9,869.9 1515.1,871.5 1515.3,865.5 1515.5,865.9 1515.6,869.2 1515.8,869.6 1516.0,884.5 1516.2,861.5 1516.3,872.4 1516.5,866.7 1516.7,886.2 1516.9,873.9 1517.1,867.4 1517.2,878.4 1517.4,870.8 1517.6,865.3 1517.8,884.5 1517.9,876.7 1518.1,886.9 1518.3,881.8 1518.5,878.6 1518.7,872.9 1518.8,861.8 1519.0,879.7 1519.2,874.2 1519.4,880.6 1519.6,874.6 1519.7,868.6 1519.9,866.1 1520.1,883.0 1520.3,889.1 1520.4,874.3 1520.6,881.7 1520.8,890.9 1521.0,869.8 1521.2,874.7 1521.3,867.4 1521.5,889.6 1521.7,880.8 1521.9,873.9 1522.0,862.5 1522.2,876.7 1522.4,888.0 1522.6,875.6 1522.8,874.3 1522.9,884.4 1523.1,866.3 1523.3,878.5 1523.5,883.6 1523.7,870.1 1523.8,869.4 1524.0,879.5 1524.2,875.8 1524.4,874.2 1524.5,878.0 1524.7,877.8 1524.9,866.4 1525.1,868.6 1525.3,878.9 1525.4,885.0 1525.6,886.9 1525.8,865.6 1526.0,884.0 1526.2,880.6 1526.3,873.0 1526.5,877.9 1526.7,881.1 1526.9,890.4 1527.0,863.3 1527.2,879.3 1527.4,872.4 1527.6,871.9 1527.8,885.1 1527.9,882.1 1528.1,864.8 1528.3,872.0 1528.5,877.1 1528.6,861.6 1528.8,883.4 1529.0,874.6 1529.2,877.7 1529.4,878.7 1529.5,892.9 1529.7,876.2 1529.9,872.6 1530.1,892.9 1530.3,871.9 1530.4,872.2 1530.6,864.5 1530.8,888.6 1531.0,881.7 1531.1,884.4 1531.3,882.4 1531.5,880.5 1531.7,875.3 1531.9,876.3 1532.0,888.9 1532.2,886.9 1532.4,902.2 1532.6,880.4 1532.8,883.8 1532.9,879.5 1533.1,902.9 1533.3,878.7 1533.5,898.2 1533.6,905.0 1533.8,890.4 1534.0,898.9 1534.2,872.2 1534.4,889.0 1534.5,877.2 1534.7,894.9 1534.9,893.8 1535.1,886.8 1535.2,903.5 1535.4,900.3 1535.6,890.7 1535.8,891.4 1536.0,883.0 1536.1,895.9 1536.3,918.3 1536.5,892.2 1536.7,903.5 1536.9,894.9 1537.0,908.1 1537.2,905.1 1537.4,899.0 1537.6,884.6 1537.7,896.7 1537.9,913.0 1538.1,899.4 1538.3,907.6 1538.5,897.0 1538.6,883.8 1538.8,905.4 1539.0,904.3 1539.2,895.7 1539.3,897.6 1539.5,903.7 1539.7,895.4 1539.9,904.3 1540.1,899.1 1540.2,878.9 1540.4,899.8 1540.6,895.6 1540.8,893.4 1541.0,905.1 1541.1,896.7 1541.3,906.3 1541.5,911.5 1541.7,902.3 1541.8,886.2 1542.0,893.6 1542.2,908.8 1542.4,897.4 1542.6,891.8 1542.7,898.1 1542.9,903.2 1543.1,900.4 1543.3,903.6 1543.5,889.3 1543.6,894.1 1543.8,893.9 1544.0,895.8 1544.2,876.0 1544.3,893.2 1544.5,882.7 1544.7,908.2 1544.9,909.6 1545.1,910.6 1545.2,902.3 1545.4,890.0 1545.6,903.4 1545.8,892.3 1545.9,899.6 1546.1,885.1 1546.3,887.8 1546.5,897.3 1546.7,909.1 1546.8,891.8 1547.0,912.7 1547.2,916.9 1547.4,878.6 1547.6,889.8 1547.7,880.5 1547.9,887.6 1548.1,883.4 1548.3,887.3 1548.4,896.6 1548.6,896.0 1548.8,889.4 1549.0,886.7 1549.2,887.7 1549.3,887.7 1549.5,891.9 1549.7,886.6 1549.9,891.4 1550.1,874.6 1550.2,894.6 1550.4,903.8 1550.6,889.4 1550.8,874.7 1550.9,901.0 1551.1,885.6 1551.3,860.9 1551.5,885.9 1551.7,895.2 1551.8,893.4 1552.0,901.6 1552.2,896.0 1552.4,891.5 1552.5,871.9 1552.7,880.0 1552.9,892.2 1553.1,896.8 1553.3,880.8 1553.4,884.7 1553.6,894.8 1553.8,872.4 1554.0,872.0 1554.2,888.1 1554.3,892.6 1554.5,885.7 1554.7,868.8 1554.9,890.6 1555.0,878.0 1555.2,896.7 1555.4,889.7 1555.6,893.2 1555.8,896.8 1555.9,885.8 1556.1,898.5 1556.3,902.3 1556.5,894.2 1556.6,902.7 1556.8,884.1 1557.0,898.2 1557.2,891.8 1557.4,879.6 1557.5,887.8 1557.7,883.2 1557.9,882.6 1558.1,888.4 1558.3,897.4 1558.4,884.4 1558.6,888.6 1558.8,873.8 1559.0,889.4 1559.1,899.1 1559.3,896.4 1559.5,896.5 1559.7,885.3 1559.9,881.9 1560.0,891.0 1560.2,880.2 1560.4,882.1 1560.6,903.5 1560.8,887.0 1560.9,913.3 1561.1,883.9 1561.3,902.2 1561.5,887.9 1561.6,901.2 1561.8,890.4 1562.0,901.1 1562.2,899.7 1562.4,897.3 1562.5,906.5 1562.7,916.0 1562.9,896.4 1563.1,910.2 1563.2,902.6 1563.4,901.3 1563.6,921.9 1563.8,880.7 1564.0,894.4 1564.1,883.4 1564.3,897.1 1564.5,897.6 1564.7,935.2 1564.9,902.4 1565.0,915.8 1565.2,910.9 1565.4,894.5 1565.6,903.0 1565.7,914.1 1565.9,900.1 1566.1,900.5 1566.3,903.3 1566.5,884.5 1566.6,891.1 1566.8,901.9 1567.0,903.9 1567.2,890.2 1567.4,895.8 1567.5,897.5 1567.7,897.1 1567.9,904.9 1568.1,899.2 1568.2,899.6 1568.4,884.6 1568.6,887.9 1568.8,900.7 1569.0,882.7 1569.1,900.1 1569.3,891.4 1569.5,890.1 1569.7,904.0 1569.8,891.7 1570.0,890.3 1570.2,892.3 1570.4,899.5 1570.6,925.2 1570.7,879.9 1570.9,900.1 1571.1,898.4 1571.3,910.1 1571.5,898.2 1571.6,878.9 1571.8,915.0 1572.0,892.7 1572.2,902.8 1572.3,890.8 1572.5,893.6 1572.7,899.5 1572.9,912.4 1573.1,912.3 1573.2,898.7 1573.4,909.0 1573.6,900.6 1573.8,904.9 1573.9,905.0 1574.1,909.0 1574.3,896.9 1574.5,901.0 1574.7,903.7 1574.8,901.8 1575.0,892.8 1575.2,915.8 1575.4,894.4 1575.6,905.0 1575.7,898.9 1575.9,907.6 1576.1,874.5 1576.3,913.5 1576.4,891.1 1576.6,880.4 1576.8,892.2 1577.0,911.3 1577.2,893.7 1577.3,876.2 1577.5,882.4 1577.7,898.4 1577.9,871.5 1578.1,882.1 1578.2,880.2 1578.4,902.7 1578.6,878.7 1578.8,893.3 1578.9,874.0 1579.1,872.4 1579.3,889.3 1579.5,885.4 1579.7,862.9 1579.8,885.3 1580.0,885.4 1580.2,873.7 1580.4,881.8 1580.5,882.6 1580.7,875.8 1580.9,875.2 1581.1,874.8 1581.3,878.9 1581.4,869.2 1581.6,881.6 1581.8,868.0 1582.0,883.0 1582.2,881.4 1582.3,872.2 1582.5,889.9 1582.7,899.9 1582.9,893.6 1583.0,859.5 1583.2,892.1 1583.4,881.4 1583.6,878.2 1583.8,872.4 1583.9,877.3 1584.1,890.0 1584.3,881.3 1584.5,871.4 1584.7,868.3 1584.8,870.1 1585.0,879.0 1585.2,890.6 1585.4,862.0 1585.5,871.4 1585.7,867.1 1585.9,862.9 1586.1,873.3 1586.3,874.2 1586.4,854.8 1586.6,857.9 1586.8,878.8 1587.0,870.1 1587.1,871.7 1587.3,861.6 1587.5,862.6 1587.7,870.5 1587.9,861.4 1588.0,855.6 1588.2,866.5 1588.4,875.5 1588.6,857.3 1588.8,877.7 1588.9,874.7 1589.1,854.9 1589.3,868.9 1589.5,868.8 1589.6,875.7 1589.8,876.3 1590.0,857.7 1590.2,857.5 1590.4,880.3 1590.5,871.6 1590.7,874.5 1590.9,873.6 1591.1,884.8 1591.2,858.6 1591.4,880.0 1591.6,861.7 1591.8,875.7 1592.0,880.9 1592.1,854.9 1592.3,870.8 1592.5,863.8 1592.7,862.8 1592.9,865.0 1593.0,854.2 1593.2,854.0 1593.4,866.5 1593.6,866.1 1593.7,851.8 1593.9,842.2 1594.1,872.3 1594.3,859.9 1594.5,851.7 1594.6,838.6 1594.8,840.4 1595.0,845.1 1595.2,834.1 1595.4,850.9 1595.5,835.6 1595.7,833.1 1595.9,819.0 1596.1,815.9 1596.2,812.8 1596.4,815.7 1596.6,808.3 1596.8,804.3 1597.0,803.9 1597.1,799.4 1597.3,792.7 1597.5,764.8 1597.7,741.7 1597.8,727.8 1598.0,715.7 1598.2,687.4 1598.4,671.1 1598.6,650.5 1598.7,640.3 1598.9,628.0 1599.1,612.5 1599.3,603.0 1599.5,595.1 1599.6,583.8 1599.8,571.5 1600.0,559.6 1600.2,544.3 1600.3,532.5 1600.5,524.5 1600.7,520.5 1600.9,536.1 1601.1,543.2 1601.2,560.0 1601.4,571.4 1601.6,582.2 1601.8,600.3 1602.0,608.3 1602.1,622.0 1602.3,634.7 1602.5,645.2 1602.7,663.2 1602.8,659.0 1603.0,665.7 1603.2,662.2 1603.4,669.7 1603.6,673.9 1603.7,677.4 1603.9,679.3 1604.1,686.9 1604.3,699.1 1604.4,692.0 1604.6,695.3 1604.8,697.2 1605.0,721.7 1605.2,719.2 1605.3,715.3 1605.5,720.4 1605.7,713.2 1605.9,721.6 1606.1,728.7 1606.2,732.1 1606.4,727.8 1606.6,732.0 1606.8,747.3 1606.9,749.3 1607.1,730.9 1607.3,755.0 1607.5,769.8 1607.7,755.6 1607.8,767.8 1608.0,755.3 1608.2,781.1 1608.4,765.1 1608.5,757.8 1608.7,776.1 1608.9,804.2 1609.1,776.4 1609.3,771.6 1609.4,790.4 1609.6,789.8 1609.8,805.8 1610.0,778.2 1610.2,776.7 1610.3,791.3 1610.5,800.0 1610.7,801.6 1610.9,810.6 1611.0,786.2 1611.2,794.6 1611.4,803.1 1611.6,814.4 1611.8,812.1 1611.9,804.4 1612.1,798.9 1612.3,818.2 1612.5,819.0 1612.7,836.8 1612.8,807.6 1613.0,825.7 1613.2,797.1 1613.4,803.7 1613.5,802.3 1613.7,804.3 1613.9,800.2 1614.1,803.5 1614.3,808.6 1614.4,804.8 1614.6,816.2 1614.8,808.4 1615.0,810.5 1615.1,825.9 1615.3,815.0 1615.5,814.2 1615.7,813.4 1615.9,815.2 1616.0,821.3 1616.2,808.6 1616.4,829.2 1616.6,834.5 1616.8,831.3 1616.9,815.7 1617.1,805.1 1617.3,816.8 1617.5,822.7 1617.6,829.4 1617.8,819.0 1618.0,817.5 1618.2,835.5 1618.4,813.0 1618.5,830.0 1618.7,827.8 1618.9,804.9 1619.1,820.5 1619.3,811.6 1619.4,807.2 1619.6,797.7 1619.8,800.2 1620.0,819.9 1620.1,811.6 1620.3,818.1 1620.5,804.5 1620.7,812.0 1620.9,812.5 1621.0,799.8 1621.2,798.5 1621.4,819.6 1621.6,816.6 1621.7,805.7 1621.9,814.1 1622.1,821.8 1622.3,833.6 1622.5,806.1 1622.6,821.3 1622.8,836.4 1623.0,815.5 1623.2,829.5 1623.4,788.0 1623.5,828.6 1623.7,813.3 1623.9,793.8 1624.1,819.9 1624.2,821.4 1624.4,821.6 1624.6,820.0 1624.8,805.9 1625.0,797.0 1625.1,798.3 1625.3,801.0 1625.5,803.8 1625.7,793.0 1625.8,796.8 1626.0,803.6 1626.2,796.3 1626.4,815.0 1626.6,812.0 1626.7,776.3 1626.9,780.7 1627.1,771.4 1627.3,771.3 1627.5,787.4 1627.6,769.8 1627.8,760.8 1628.0,774.0 1628.2,783.4 1628.3,769.5 1628.5,767.7 1628.7,779.2 1628.9,772.7 1629.1,770.6 1629.2,773.9 1629.4,751.5 1629.6,762.6 1629.8,751.9 1630.0,767.6 1630.1,763.8 1630.3,735.9 1630.5,766.4 1630.7,738.7 1630.8,762.0 1631.0,750.7 1631.2,738.5 1631.4,735.0 1631.6,742.7 1631.7,744.9 1631.9,736.9 1632.1,749.5 1632.3,728.2 1632.4,741.9 1632.6,741.1 1632.8,720.8 1633.0,742.4 1633.2,725.3 1633.3,711.8 1633.5,729.8 1633.7,732.6 1633.9,742.6 1634.1,727.7 1634.2,745.5 1634.4,751.8 1634.6,739.1 1634.8,739.8 1634.9,729.6 1635.1,720.4 1635.3,729.8 1635.5,731.2 1635.7,723.9 1635.8,718.9 1636.0,707.6 1636.2,723.3 1636.4,720.2 1636.5,705.4 1636.7,713.2 1636.9,715.4 1637.1,708.3 1637.3,711.9 1637.4,709.8 1637.6,696.3 1637.8,701.0 1638.0,703.2 1638.2,703.4 1638.3,703.8 1638.5,688.8 1638.7,693.6 1638.9,693.8 1639.0,692.8 1639.2,691.5 1639.4,680.8 1639.6,679.9 1639.8,675.3 1639.9,677.9 1640.1,669.3 1640.3,676.3 1640.5,678.1 1640.7,679.3 1640.8,673.9 1641.0,680.6 1641.2,687.4 1641.4,682.6 1641.5,688.8 1641.7,691.6 1641.9,697.7 1642.1,697.6 1642.3,699.7 1642.4,698.4 1642.6,702.6 1642.8,704.0 1643.0,711.0 1643.1,708.2 1643.3,717.9 1643.5,703.1 1643.7,724.5 1643.9,717.7 1644.0,729.6 1644.2,724.6 1644.4,733.4 1644.6,741.5 1644.8,727.8 1644.9,735.9 1645.1,736.7 1645.3,742.9 1645.5,729.2 1645.6,745.2 1645.8,747.3 1646.0,744.8 1646.2,753.1 1646.4,742.5 1646.5,773.9 1646.7,766.9 1646.9,783.7 1647.1,758.1 1647.3,757.1 1647.4,772.8 1647.6,753.2 1647.8,773.0 1648.0,763.5 1648.1,767.4 1648.3,773.5 1648.5,771.1 1648.7,789.8 1648.9,776.5 1649.0,755.8 1649.2,779.2 1649.4,754.1 1649.6,768.5 1649.7,753.7 1649.9,757.5 1650.1,779.6 1650.3,759.2 1650.5,757.8 1650.6,758.2 1650.8,760.5 1651.0,778.8 1651.2,750.9 1651.4,750.2 1651.5,769.5 1651.7,736.3 1651.9,759.8 1652.1,775.8 1652.2,763.8 1652.4,758.7 1652.6,756.3 1652.8,754.2 1653.0,757.7 1653.1,765.5 1653.3,777.3 1653.5,774.5 1653.7,758.4 1653.8,756.7 1654.0,771.9 1654.2,745.4 1654.4,760.0 1654.6,761.3 1654.7,753.1 1654.9,754.4 1655.1,768.7 1655.3,747.7 1655.5,755.7 1655.6,758.6 1655.8,766.5 1656.0,751.3 1656.2,777.4 1656.3,762.8 1656.5,763.3 1656.7,762.2 1656.9,758.8 1657.1,755.4 1657.2,777.6 1657.4,767.1 1657.6,763.3 1657.8,774.2 1658.0,755.4 1658.1,768.6 1658.3,761.2 1658.5,750.4 1658.7,766.7 1658.8,741.6 1659.0,763.0 1659.2,745.6 1659.4,758.0 1659.6,767.1 1659.7,757.5 1659.9,744.2 1660.1,749.3 1660.3,745.0 1660.4,735.9 1660.6,736.1 1660.8,747.8 1661.0,752.8 1661.2,728.4 1661.3,746.3 1661.5,752.5 1661.7,748.6 1661.9,737.3 1662.1,759.3 1662.2,736.2 1662.4,756.5 1662.6,767.3 1662.8,729.9 1662.9,755.0 1663.1,756.6 1663.3,756.8 1663.5,747.4 1663.7,753.4 1663.8,743.1 1664.0,760.4 1664.2,765.8 1664.4,754.2 1664.6,752.6 1664.7,758.4 1664.9,764.3 1665.1,765.9 1665.3,765.0 1665.4,767.6 1665.6,753.8 1665.8,739.5 1666.0,778.5 1666.2,784.1 1666.3,754.6 1666.5,762.8 1666.7,773.2 1666.9,780.2 1667.0,777.2 1667.2,783.9 1667.4,770.0 1667.6,775.0 1667.8,775.0 1667.9,766.3 1668.1,783.5 1668.3,777.6 1668.5,781.4 1668.7,767.2 1668.8,782.3 1669.0,760.6 1669.2,777.8 1669.4,744.5 1669.5,761.5 1669.7,779.8 1669.9,767.4 1670.1,774.0 1670.3,755.1 1670.4,788.2 1670.6,778.0 1670.8,771.3 1671.0,775.6 1671.1,774.3 1671.3,785.3 1671.5,772.2 1671.7,754.0 1671.9,766.2 1672.0,781.7 1672.2,773.7 1672.4,762.7 1672.6,772.9 1672.8,767.1 1672.9,771.7 1673.1,748.1 1673.3,754.8 1673.5,770.8 1673.6,761.1 1673.8,766.8 1674.0,783.5 1674.2,759.6 1674.4,765.4 1674.5,757.2 1674.7,756.7 1674.9,762.7 1675.1,748.7 1675.3,742.4 1675.4,779.3 1675.6,764.5 1675.8,778.1 1676.0,768.3 1676.1,769.4 1676.3,775.6 1676.5,776.9 1676.7,757.6 1676.9,783.6 1677.0,761.6 1677.2,774.5 1677.4,799.8 1677.6,774.5 1677.7,791.6 1677.9,771.0 1678.1,781.4 1678.3,775.8 1678.5,779.9 1678.6,766.7 1678.8,766.0 1679.0,779.0 1679.2,759.0 1679.4,766.3 1679.5,781.5 1679.7,768.0 1679.9,764.7 1680.1,762.0 1680.2,774.6 1680.4,768.9 1680.6,773.8 1680.8,769.9 1681.0,790.9 1681.1,766.7 1681.3,750.6 1681.5,772.1 1681.7,770.8 1681.9,772.4 1682.0,754.1 1682.2,782.7 1682.4,770.6 1682.6,770.6 1682.7,754.6 1682.9,776.1 1683.1,770.5 1683.3,785.2 1683.5,766.7 1683.6,758.0 1683.8,771.9 1684.0,760.8 1684.2,774.3 1684.3,758.4 1684.5,768.0 1684.7,766.7 1684.9,768.4 1685.1,763.2 1685.2,759.9 1685.4,767.7 1685.6,762.3 1685.8,770.1 1686.0,765.9 1686.1,745.7 1686.3,768.8 1686.5,784.3 1686.7,773.5 1686.8,777.0 1687.0,776.0 1687.2,766.8 1687.4,758.2 1687.6,780.7 1687.7,783.4 1687.9,778.4 1688.1,776.9 1688.3,776.4 1688.4,771.8 1688.6,774.6 1688.8,771.4 1689.0,774.2 1689.2,760.4 1689.3,763.1 1689.5,774.9 1689.7,764.9 1689.9,742.8 1690.1,768.5 1690.2,743.0 1690.4,785.8 1690.6,772.9 1690.8,771.8 1690.9,757.4 1691.1,752.1 1691.3,760.9 1691.5,762.7 1691.7,754.0 1691.8,763.0 1692.0,767.9 1692.2,766.5 1692.4,749.2 1692.6,737.3 1692.7,759.3 1692.9,752.3 1693.1,763.6 1693.3,775.9 1693.4,776.1 1693.6,762.5 1693.8,771.3 1694.0,777.4 1694.2,761.6 1694.3,764.6 1694.5,771.3 1694.7,763.0 1694.9,759.0 1695.0,757.0 1695.2,764.4 1695.4,757.6 1695.6,771.7 1695.8,759.6 1695.9,777.5 1696.1,774.3 1696.3,748.3 1696.5,771.4 1696.7,755.2 1696.8,772.6 1697.0,762.8 1697.2,756.1 1697.4,762.5 1697.5,748.8 1697.7,756.9 1697.9,756.5 1698.1,750.0 1698.3,754.6 1698.4,739.3 1698.6,754.4 1698.8,735.2 1699.0,753.2 1699.2,750.7 1699.3,752.3 1699.5,738.2 1699.7,774.5 1699.9,739.7 1700.0,742.7 1700.2,732.4 1700.4,754.0 1700.6,733.4 1700.8,747.5 1700.9,726.6 1701.1,738.5 1701.3,730.5 1701.5,742.8 1701.6,729.2 1701.8,722.3 1702.0,734.6 1702.2,716.8 1702.4,718.1 1702.5,734.3 1702.7,706.7 1702.9,735.9 1703.1,719.0 1703.3,712.9 1703.4,723.1 1703.6,725.7 1703.8,712.8 1704.0,715.6 1704.1,723.8 1704.3,722.2 1704.5,713.5 1704.7,705.8 1704.9,703.2 1705.0,705.4 1705.2,715.6 1705.4,713.5 1705.6,710.0 1705.7,718.0 1705.9,701.0 1706.1,701.0 1706.3,700.0 1706.5,716.7 1706.6,685.2 1706.8,701.9 1707.0,701.9 1707.2,698.0 1707.4,712.5 1707.5,707.8 1707.7,699.5 1707.9,687.9 1708.1,695.6 1708.2,689.6 1708.4,691.2 1708.6,691.3 1708.8,686.9 1709.0,691.7 1709.1,695.5 1709.3,691.7 1709.5,687.6 1709.7,677.3 1709.9,688.8 1710.0,687.7 1710.2,682.1 1710.4,680.3 1710.6,683.3 1710.7,677.6 1710.9,681.9 1711.1,675.4 1711.3,675.1 1711.5,677.0 1711.6,672.2 1711.8,675.4 1712.0,676.0 1712.2,670.4 1712.3,675.9 1712.5,672.7 1712.7,676.4 1712.9,676.2 1713.1,675.1 1713.2,675.6 1713.4,672.8 1713.6,676.4 1713.8,676.9 1714.0,685.4 1714.1,684.3 1714.3,676.7 1714.5,685.3 1714.7,684.0 1714.8,682.3 1715.0,686.6 1715.2,689.0 1715.4,683.7 1715.6,685.9 1715.7,689.0 1715.9,684.0 1716.1,691.2 1716.3,690.8 1716.5,688.5 1716.6,688.5 1716.8,696.8 1717.0,701.8 1717.2,699.8 1717.3,693.1 1717.5,705.7 1717.7,703.1 1717.9,707.7 1718.1,713.4 1718.2,698.8 1718.4,705.9 1718.6,703.3 1718.8,701.9 1718.9,726.8 1719.1,718.8 1719.3,696.1 1719.5,715.8 1719.7,707.7 1719.8,723.5 1720.0,714.3 1720.2,712.4 1720.4,715.8 1720.6,718.5 1720.7,715.7 1720.9,713.8 1721.1,715.1 1721.3,721.9 1721.4,706.6 1721.6,718.2 1721.8,717.5 1722.0,714.4 1722.2,727.1 1722.3,707.4 1722.5,717.2 1722.7,712.9 1722.9,727.5 1723.0,717.9 1723.2,723.7 1723.4,727.8 1723.6,708.5 1723.8,730.0 1723.9,718.7 1724.1,724.7 1724.3,727.1 1724.5,737.5 1724.7,737.9 1724.8,749.5 1725.0,734.4 1725.2,728.8 1725.4,729.5 1725.5,742.2 1725.7,752.8 1725.9,740.6 1726.1,731.7 1726.3,740.8 1726.4,740.9 1726.6,738.7 1726.8,730.7 1727.0,712.2 1727.2,732.2 1727.3,747.6 1727.5,738.1 1727.7,712.4 1727.9,734.0 1728.0,714.2 1728.2,752.5 1728.4,733.3 1728.6,718.4 1728.8,738.2 1728.9,721.5 1729.1,734.8 1729.3,729.0 1729.5,716.6 1729.6,735.3 1729.8,714.8 1730.0,742.1 1730.2,729.1 1730.4,718.1 1730.5,710.2 1730.7,745.4 1730.9,743.8 1731.1,716.4 1731.3,746.1 1731.4,731.2 1731.6,727.4 1731.8,729.0 1732.0,727.4 1732.1,744.9 1732.3,732.2 1732.5,712.2 1732.7,752.7 1732.9,740.9 1733.0,721.4 1733.2,729.4 1733.4,724.6 1733.6,735.0 1733.8,739.4 1733.9,738.6 1734.1,731.0 1734.3,729.9 1734.5,747.5 1734.6,738.8 1734.8,763.5 1735.0,733.3 1735.2,750.2 1735.4,743.2 1735.5,735.5 1735.7,757.4 1735.9,745.0 1736.1,734.8 1736.2,740.6 1736.4,753.9 1736.6,730.6 1736.8,756.4 1737.0,748.7 1737.1,738.2 1737.3,754.1 1737.5,757.4 1737.7,745.1 1737.9,740.2 1738.0,756.8 1738.2,753.0 1738.4,728.2 1738.6,735.5 1738.7,735.5 1738.9,733.7 1739.1,723.0 1739.3,747.9 1739.5,740.0 1739.6,740.7 1739.8,754.6 1740.0,735.1 1740.2,740.8 1740.3,744.7 1740.5,738.0 1740.7,741.7 1740.9,751.0 1741.1,743.3 1741.2,757.2 1741.4,736.1 1741.6,745.8 1741.8,729.2 1742.0,742.5 1742.1,736.4 1742.3,757.4 1742.5,750.9 1742.7,748.4 1742.8,761.9 1743.0,757.7 1743.2,750.2 1743.4,735.8 1743.6,728.0 1743.7,742.5 1743.9,739.2 1744.1,736.2 1744.3,740.0 1744.5,726.1 1744.6,758.3 1744.8,731.5 1745.0,736.3 1745.2,749.1 1745.3,726.6 1745.5,752.8 1745.7,753.0 1745.9,740.2 1746.1,732.4 1746.2,738.6 1746.4,724.6 1746.6,758.0 1746.8,744.5 1746.9,736.7 1747.1,735.3 1747.3,751.0 1747.5,761.0 1747.7,733.1 1747.8,740.9 1748.0,729.4 1748.2,755.3 1748.4,750.7 1748.6,773.1 1748.7,749.4 1748.9,747.0 1749.1,744.9 1749.3,761.6 1749.4,736.7 1749.6,761.7 1749.8,756.9 1750.0,749.4 1750.2,745.5 1750.3,765.7 1750.5,773.9 1750.7,749.9 1750.9,759.6 1751.1,771.6 1751.2,746.6 1751.4,749.6 1751.6,738.8 1751.8,748.8 1751.9,748.4 1752.1,741.2 1752.3,739.2 1752.5,729.1 1752.7,730.2 1752.8,732.7 1753.0,748.0 1753.2,734.7 1753.4,729.8 1753.5,744.1 1753.7,741.9 1753.9,727.1 1754.1,727.3 1754.3,739.6 1754.4,735.6 1754.6,722.3 1754.8,732.7 1755.0,729.2 1755.2,740.4 1755.3,719.2 1755.5,736.7 1755.7,731.5 1755.9,716.0 1756.0,737.0 1756.2,735.1 1756.4,711.5 1756.6,745.5 1756.8,712.6 1756.9,714.7 1757.1,720.7 1757.3,731.8 1757.5,729.7 1757.6,722.5 1757.8,737.7 1758.0,727.6 1758.2,738.0 1758.4,752.9 1758.5,725.6 1758.7,696.7 1758.9,719.1 1759.1,712.7 1759.3,725.1 1759.4,725.3 1759.6,703.8 1759.8,712.4 1760.0,721.8 1760.1,722.6 1760.3,697.4 1760.5,735.0 1760.7,725.2 1760.9,724.8 1761.0,728.1 1761.2,714.3 1761.4,724.7 1761.6,736.4 1761.8,737.1 1761.9,730.9 1762.1,721.7 1762.3,718.2 1762.5,741.3 1762.6,733.5 1762.8,724.1 1763.0,706.2 1763.2,720.8 1763.4,710.3 1763.5,744.8 1763.7,734.3 1763.9,725.2 1764.1,729.2 1764.2,762.3 1764.4,748.2 1764.6,721.6 1764.8,735.1 1765.0,723.8 1765.1,718.6 1765.3,738.9 1765.5,762.8 1765.7,753.5 1765.9,736.9 1766.0,732.0 1766.2,737.8 1766.4,746.2 1766.6,718.8 1766.7,713.8 1766.9,753.6 1767.1,735.8 1767.3,749.5 1767.5,734.3 1767.6,747.2 1767.8,724.2 1768.0,735.9 1768.2,747.1 1768.4,741.2 1768.5,725.1 1768.7,739.8 1768.9,723.0 1769.1,714.9 1769.2,736.3 1769.4,746.0 1769.6,740.3 1769.8,717.7 1770.0,741.0 1770.1,743.5 1770.3,726.8 1770.5,704.7 1770.7,742.7 1770.8,741.0 1771.0,736.3 1771.2,711.4 1771.4,713.2 1771.6,739.6 1771.7,736.2 1771.9,731.5 1772.1,722.0 1772.3,727.4 1772.5,715.5 1772.6,716.3 1772.8,708.4 1773.0,719.0 1773.2,709.4 1773.3,722.4 1773.5,717.8 1773.7,699.1 1773.9,726.4 1774.1,692.2 1774.2,708.0 1774.4,713.7 1774.6,714.7 1774.8,675.2 1774.9,709.6 1775.1,711.2 1775.3,712.9 1775.5,671.8 1775.7,688.2 1775.8,694.0 1776.0,689.5 1776.2,708.6 1776.4,685.5 1776.6,705.9 1776.7,697.6 1776.9,674.3 1777.1,678.7 1777.3,684.0 1777.4,689.7 1777.6,699.0 1777.8,685.2 1778.0,696.6 1778.2,668.3 1778.3,651.1 1778.5,680.5 1778.7,688.6 1778.9,678.8 1779.1,670.9 1779.2,686.1 1779.4,702.3 1779.6,679.0 1779.8,671.5 1779.9,669.7 1780.1,700.5 1780.3,677.8 1780.5,684.6 1780.7,691.0 1780.8,689.1 1781.0,666.6 1781.2,687.6 1781.4,686.4 1781.5,682.5 1781.7,688.5 1781.9,671.1 1782.1,676.8 1782.3,672.0 1782.4,686.6 1782.6,671.2 1782.8,683.2 1783.0,667.1 1783.2,678.4 1783.3,676.2 1783.5,679.4 1783.7,682.7 1783.9,679.7 1784.0,679.8 1784.2,659.6 1784.4,695.5 1784.6,676.6 1784.8,681.2 1784.9,675.1 1785.1,695.7 1785.3,674.7 1785.5,690.6 1785.7,698.3 1785.8,703.7 1786.0,698.7 1786.2,692.5 1786.4,672.3 1786.5,700.2 1786.7,699.2 1786.9,695.4 1787.1,695.2 1787.3,687.3 1787.4,680.9 1787.6,698.9 1787.8,701.3 1788.0,675.8 1788.1,697.8 1788.3,690.7 1788.5,698.1 1788.7,691.5 1788.9,701.1 1789.0,700.3 1789.2,699.0 1789.4,673.9 1789.6,698.5 1789.8,689.9 1789.9,676.8 1790.1,701.8 1790.3,673.8 1790.5,698.6 1790.6,707.1 1790.8,682.3 1791.0,697.6 1791.2,691.8 1791.4,693.3 1791.5,670.4 1791.7,691.3 1791.9,685.2 1792.1,691.0 1792.2,682.0 1792.4,693.1 1792.6,683.1 1792.8,686.6 1793.0,693.4 1793.1,679.3 1793.3,687.4 1793.5,678.1 1793.7,680.6 1793.9,668.3 1794.0,682.0 1794.2,686.3 1794.4,671.2 1794.6,680.3 1794.7,675.8 1794.9,658.4 1795.1,674.0 1795.3,684.3 1795.5,664.0 1795.6,649.4 1795.8,671.0 1796.0,661.5 1796.2,689.3 1796.4,667.9 1796.5,668.3 1796.7,661.5 1796.9,671.3 1797.1,662.6 1797.2,659.1 1797.4,668.7 1797.6,655.7 1797.8,684.7 1798.0,657.9 1798.1,670.5 1798.3,664.3 1798.5,657.4 1798.7,691.4 1798.8,650.9 1799.0,690.6 1799.2,659.9 1799.4,677.1 1799.6,701.7 1799.7,654.2 1799.9,663.1 1800.1,693.1 1800.3,681.0 1800.5,673.4 1800.6,679.2 1800.8,669.0 1801.0,680.8 1801.2,695.5 1801.3,674.6 1801.5,679.8 1801.7,690.9 1801.9,698.9 1802.1,670.0 1802.2,679.1 1802.4,669.1 1802.6,667.8 1802.8,670.1 1803.0,667.3 1803.1,655.2 1803.3,652.4 1803.5,661.9 1803.7,676.2 1803.8,688.5 1804.0,669.9 1804.2,674.5 1804.4,684.2 1804.6,685.8 1804.7,677.1 1804.9,678.4 1805.1,699.9 1805.3,676.1 1805.4,674.6 1805.6,662.4 1805.8,685.1 1806.0,677.6 1806.2,701.4 1806.3,676.9 1806.5,689.5 1806.7,690.9 1806.9,698.8 1807.1,666.4 1807.2,698.0 1807.4,681.1 1807.6,679.8 1807.8,677.6 1807.9,676.6 1808.1,677.0 1808.3,655.0 1808.5,685.9 1808.7,680.6 1808.8,668.9 1809.0,677.9 1809.2,702.6 1809.4,680.2 1809.5,670.3 1809.7,691.6 1809.9,662.4 1810.1,667.7 1810.3,661.4 1810.4,663.0 1810.6,671.7 1810.8,668.1 1811.0,651.8 1811.2,656.6 1811.3,657.2 1811.5,650.2 1811.7,652.7 1811.9,643.8 1812.0,642.4 1812.2,649.9 1812.4,637.1 1812.6,652.3 1812.8,644.9 1812.9,636.4 1813.1,639.5 1813.3,641.0 1813.5,644.7 1813.7,647.9 1813.8,644.6 1814.0,637.7 1814.2,663.4 1814.4,658.0 1814.5,649.7 1814.7,659.3 1814.9,652.8 1815.1,646.7 1815.3,650.7 1815.4,679.2 1815.6,660.9 1815.8,661.4 1816.0,645.4 1816.1,656.9 1816.3,675.6 1816.5,655.8 1816.7,663.1 1816.9,665.2 1817.0,658.4 1817.2,668.4 1817.4,653.4 1817.6,655.9 1817.8,643.0 1817.9,678.2 1818.1,652.0 1818.3,649.3 1818.5,662.6 1818.6,641.4 1818.8,646.1 1819.0,637.1 1819.2,645.6 1819.4,641.0 1819.5,651.1 1819.7,643.8 1819.9,638.9 1820.1,642.5 1820.3,644.9 1820.4,641.2 1820.6,657.7 1820.8,655.6 1821.0,650.8 1821.1,637.3 1821.3,657.0 1821.5,638.7 1821.7,655.9 1821.9,655.7 1822.0,650.2 1822.2,649.0 1822.4,651.9 1822.6,683.2 1822.7,659.5 1822.9,661.6 1823.1,675.5 1823.3,670.6 1823.5,678.6 1823.6,654.9 1823.8,657.4 1824.0,706.2 1824.2,670.6 1824.4,668.9 1824.5,674.6 1824.7,684.4 1824.9,661.6 1825.1,678.2 1825.2,675.4 1825.4,683.5 1825.6,678.6 1825.8,671.3 1826.0,668.0 1826.1,651.2 1826.3,688.2 1826.5,661.8 1826.7,673.3 1826.8,695.5 1827.0,672.9 1827.2,683.8 1827.4,674.7 1827.6,684.2 1827.7,676.6 1827.9,670.4 1828.1,690.0 1828.3,672.0 1828.5,651.4 1828.6,670.2 1828.8,679.1 1829.0,660.8 1829.2,680.9 1829.3,680.4 1829.5,694.7 1829.7,664.8 1829.9,678.8 1830.1,653.8 1830.2,667.4 1830.4,673.3 1830.6,676.8 1830.8,672.2 1831.0,672.3 1831.1,667.1 1831.3,669.4 1831.5,677.9 1831.7,681.1 1831.8,682.4 1832.0,686.6 1832.2,689.1 1832.4,657.3 1832.6,671.4 1832.7,675.5 1832.9,670.5 1833.1,688.9 1833.3,685.8 1833.4,676.8 1833.6,679.4 1833.8,691.7 1834.0,674.5 1834.2,675.0 1834.3,688.1 1834.5,683.5 1834.7,693.7 1834.9,682.4 1835.1,686.4 1835.2,672.5 1835.4,668.2 1835.6,678.1 1835.8,649.6 1835.9,682.2 1836.1,688.0 1836.3,678.1 1836.5,674.6 1836.7,688.3 1836.8,675.8 1837.0,686.3 1837.2,698.9 1837.4,682.8 1837.6,684.6 1837.7,679.4 1837.9,676.4 1838.1,676.3 1838.3,673.7 1838.4,684.2 1838.6,655.1 1838.8,669.2 1839.0,678.9 1839.2,662.7 1839.3,670.6 1839.5,664.4 1839.7,676.6 1839.9,681.4 1840.0,688.0 1840.2,678.3 1840.4,665.7 1840.6,676.6 1840.8,680.6 1840.9,690.1 1841.1,652.8 1841.3,680.2 1841.5,657.3 1841.7,684.9 1841.8,682.4 1842.0,683.3 1842.2,687.6 1842.4,682.4 1842.5,671.4 1842.7,682.0 1842.9,690.9 1843.1,676.7 1843.3,678.3 1843.4,664.4 1843.6,689.4 1843.8,671.3 1844.0,668.4 1844.1,671.2 1844.3,666.5 1844.5,672.8 1844.7,688.8 1844.9,683.5 1845.0,690.0 1845.2,690.6 1845.4,659.6 1845.6,679.8 1845.8,690.7 1845.9,699.3 1846.1,659.9 1846.3,651.0 1846.5,680.4 1846.6,672.1 1846.8,665.5 1847.0,680.6 1847.2,668.6 1847.4,653.4 1847.5,677.9 1847.7,680.2 1847.9,690.6 1848.1,690.3 1848.3,682.9 1848.4,679.2 1848.6,675.2 1848.8,665.4 1849.0,678.8 1849.1,694.5 1849.3,691.1 1849.5,706.1 1849.7,682.6 1849.9,665.0 1850.0,692.5 1850.2,694.2 1850.4,670.0 1850.6,664.5 1850.7,682.3 1850.9,687.2 1851.1,666.6 1851.3,673.8 1851.5,668.0 1851.6,662.6 1851.8,660.2 1852.0,674.8 1852.2,668.6 1852.4,664.8 1852.5,643.7 1852.7,689.8 1852.9,661.0 1853.1,669.7 1853.2,659.2 1853.4,675.7 1853.6,656.1 1853.8,673.8 1854.0,671.5 1854.1,684.1 1854.3,663.5 1854.5,669.1 1854.7,674.4 1854.9,700.1 1855.0,663.0 1855.2,682.7 1855.4,673.4 1855.6,684.4 1855.7,688.7 1855.9,683.9 1856.1,685.7 1856.3,686.3 1856.5,677.4 1856.6,681.6 1856.8,666.5 1857.0,680.5 1857.2,676.3 1857.3,681.8 1857.5,692.4 1857.7,688.7 1857.9,689.8 1858.1,696.7 1858.2,659.9 1858.4,690.1 1858.6,685.6 1858.8,685.4 1859.0,673.2 1859.1,693.6 1859.3,700.8 1859.5,700.4 1859.7,689.5 1859.8,698.2 1860.0,702.3 1860.2,713.2 1860.4,708.2 1860.6,698.9 1860.7,698.7 1860.9,700.6 1861.1,702.4 1861.3,695.7 1861.4,710.1 1861.6,695.3 1861.8,694.8 1862.0,707.6 1862.2,698.1 1862.3,701.7 1862.5,682.3 1862.7,712.6 1862.9,703.8 1863.1,702.0 1863.2,707.7 1863.4,704.3 1863.6,693.8 1863.8,721.6 1863.9,694.7 1864.1,708.9 1864.3,717.1 1864.5,690.3 1864.7,697.1 1864.8,686.8 1865.0,706.0 1865.2,690.9 1865.4,682.5 1865.6,707.8 1865.7,703.5 1865.9,684.4 1866.1,706.5 1866.3,696.2 1866.4,723.1 1866.6,712.9 1866.8,689.2 1867.0,692.6 1867.2,686.7 1867.3,697.8 1867.5,697.4 1867.7,705.2 1867.9,698.9 1868.0,683.0 1868.2,690.7 1868.4,714.9 1868.6,712.9 1868.8,699.9 1868.9,701.0 1869.1,701.5 1869.3,704.4 1869.5,687.3 1869.7,715.4 1869.8,699.9 1870.0,709.3 1870.2,681.9 1870.4,711.8 1870.5,724.2 1870.7,687.1 1870.9,727.2 1871.1,716.6 1871.3,704.1 1871.4,695.3 1871.6,724.4 1871.8,714.8 1872.0,718.2 1872.2,708.8 1872.3,703.0 1872.5,720.3 1872.7,700.7 1872.9,719.9 1873.0,692.4 1873.2,694.1 1873.4,694.1 1873.6,722.9 1873.8,690.4 1873.9,696.6 1874.1,715.3 1874.3,710.6 1874.5,731.1 1874.6,727.3 1874.8,714.4 1875.0,715.1 1875.2,688.7 1875.4,698.7 1875.5,704.5 1875.7,706.2 1875.9,693.9 1876.1,698.6 1876.3,699.4 1876.4,719.1 1876.6,712.5 1876.8,704.7 1877.0,703.6 1877.1,711.1 1877.3,701.1 1877.5,705.5 1877.7,691.0 1877.9,714.7 1878.0,717.4 1878.2,711.4 1878.4,712.4 1878.6,711.1 1878.7,726.6 1878.9,709.0 1879.1,694.7 1879.3,697.0 1879.5,712.4 1879.6,715.1 1879.8,712.0 1880.0,712.1 1880.2,706.2 1880.4,692.5 1880.5,698.6 1880.7,690.2 1880.9,701.0 1881.1,692.1 1881.2,697.5 1881.4,690.7 1881.6,674.3 1881.8,686.7 1882.0,681.8 1882.1,664.4 1882.3,668.4 1882.5,666.5 1882.7,656.4 1882.9,657.1 1883.0,647.8 1883.2,640.1 1883.4,624.6 1883.6,611.5 1883.7,602.5 1883.9,591.7 1884.1,578.0 1884.3,563.9 1884.5,551.1 1884.6,540.8 1884.8,528.5 1885.0,519.1 1885.2,507.3 1885.3,494.8 1885.5,483.3 1885.7,486.4 1885.9,502.9 1886.1,514.5 1886.2,521.8 1886.4,537.5 1886.6,547.8 1886.8,561.2 1887.0,573.4 1887.1,584.7 1887.3,594.7 1887.5,603.1 1887.7,626.3 1887.8,643.4 1888.0,646.3 1888.2,657.8 1888.4,658.7 1888.6,667.2 1888.7,666.6 1888.9,674.7 1889.1,680.5 1889.3,671.7 1889.5,692.5 1889.6,692.2 1889.8,677.0 1890.0,699.2 1890.2,695.0 1890.3,697.3 1890.5,699.1 1890.7,691.3 1890.9,688.3 1891.1,693.6 1891.2,693.9 1891.4,717.0 1891.6,714.2 1891.8,693.6 1891.9,694.3 1892.1,701.2 1892.3,703.6 1892.5,691.8 1892.7,688.9 1892.8,717.6 1893.0,709.4 1893.2,683.9 1893.4,682.1 1893.6,692.0 1893.7,703.1 1893.9,707.2 1894.1,698.8 1894.3,686.5 1894.4,706.4 1894.6,711.5 1894.8,706.3 1895.0,701.6 1895.2,713.4 1895.3,707.4 1895.5,696.7 1895.7,710.3 1895.9,696.2 1896.0,720.9 1896.2,716.4 1896.4,701.5 1896.6,715.0 1896.8,726.7 1896.9,691.0 1897.1,712.9 1897.3,732.4 1897.5,698.4 1897.7,713.3 1897.8,699.9 1898.0,714.3 1898.2,688.9 1898.4,696.8 1898.5,707.9 1898.7,714.4 1898.9,716.2 1899.1,715.7 1899.3,722.4 1899.4,716.3 1899.6,715.5 1899.8,695.7 1900.0,703.2 1900.2,737.9 1900.3,726.7 1900.5,710.0 1900.7,707.8 1900.9,709.3 1901.0,693.2 1901.2,717.8 1901.4,691.6 1901.6,694.0 1901.8,717.8 1901.9,671.2 1902.1,697.2 1902.3,674.3 1902.5,685.7 1902.6,691.7 1902.8,688.9 1903.0,694.8 1903.2,684.9 1903.4,692.6 1903.5,681.4 1903.7,690.8 1903.9,680.7 1904.1,703.8 1904.3,683.6 1904.4,706.2 1904.6,695.3 1904.8,697.7 1905.0,715.1 1905.1,704.7 1905.3,684.2 1905.5,711.5 1905.7,675.7 1905.9,711.4 1906.0,702.4 1906.2,695.4 1906.4,712.5 1906.6,709.2 1906.8,735.2 1906.9,709.2 1907.1,735.7 1907.3,730.0 1907.5,708.5 1907.6,706.3 1907.8,729.5 1908.0,713.3 1908.2,716.2 1908.4,711.1 1908.5,699.9 1908.7,708.3 1908.9,701.0 1909.1,693.8 1909.2,706.3 1909.4,727.9 1909.6,725.1 1909.8,705.7 1910.0,706.9 1910.1,710.1 1910.3,718.5 1910.5,706.4 1910.7,697.1 1910.9,697.5 1911.0,713.7 1911.2,729.4 1911.4,694.2 1911.6,678.7 1911.7,709.7 1911.9,700.2 1912.1,702.7 1912.3,714.7 1912.5,702.5 1912.6,687.9 1912.8,681.6 1913.0,702.2 1913.2,690.9 1913.3,706.4 1913.5,682.5 1913.7,700.4 1913.9,689.4 1914.1,700.9 1914.2,700.4 1914.4,710.9 1914.6,718.2 1914.8,703.9 1915.0,698.0 1915.1,722.7 1915.3,706.8 1915.5,707.5 1915.7,706.0 1915.8,711.3 1916.0,706.1 1916.2,701.9 1916.4,701.0 1916.6,687.8 1916.7,688.3 1916.9,690.2 1917.1,689.9 1917.3,687.8 1917.5,687.8 1917.6,684.5 1917.8,680.4 1918.0,673.1 1918.2,678.5 1918.3,672.2 1918.5,658.3 1918.7,657.2 1918.9,650.3 1919.1,642.6 1919.2,629.8 1919.4,625.5 1919.6,621.0 1919.8,621.0 1919.9,607.2 1920.1,602.1 1920.3,600.7 1920.5,608.3 1920.7,616.6 1920.8,615.1 1921.0,618.2 1921.2,635.1 1921.4,638.8 1921.6,642.2 1921.7,653.9 1921.9,659.8 1922.1,652.6 1922.3,666.6 1922.4,678.5 1922.6,672.3 1922.8,675.1 1923.0,683.4 1923.2,677.6 1923.3,672.9 1923.5,677.2 1923.7,673.9 1923.9,688.2 1924.1,672.8 1924.2,694.6 1924.4,675.1 1924.6,689.9 1924.8,678.4 1924.9,689.4 1925.1,702.5 1925.3,704.3 1925.5,706.3 1925.7,693.5 1925.8,695.5 1926.0,696.8 1926.2,700.8 1926.4,690.8 1926.5,706.2 1926.7,698.5 1926.9,707.2 1927.1,700.5 1927.3,702.8 1927.4,688.1 1927.6,691.5 1927.8,682.2 1928.0,693.0 1928.2,694.3 1928.3,705.3 1928.5,682.5 1928.7,731.4 1928.9,694.8 1929.0,709.8 1929.2,707.3 1929.4,668.2 1929.6,692.9 1929.8,711.9 1929.9,669.0 1930.1,704.3 1930.3,685.8 1930.5,691.0 1930.6,698.9 1930.8,676.2 1931.0,699.4 1931.2,690.6 1931.4,690.1 1931.5,706.9 1931.7,738.6 1931.9,704.6 1932.1,707.8 1932.3,702.1 1932.4,695.7 1932.6,707.6 1932.8,722.5 1933.0,708.9 1933.1,717.7 1933.3,706.4 1933.5,737.8 1933.7,692.8 1933.9,718.4 1934.0,718.8 1934.2,716.6 1934.4,702.2 1934.6,702.7 1934.8,713.3 1934.9,717.5 1935.1,703.5 1935.3,705.5 1935.5,723.7 1935.6,729.0 1935.8,711.6 1936.0,710.1 1936.2,709.7 1936.4,745.0 1936.5,723.0 1936.7,716.8 1936.9,728.5 1937.1,742.6 1937.2,730.1 1937.4,701.5 1937.6,716.3 1937.8,712.9 1938.0,713.8 1938.1,704.4 1938.3,713.8 1938.5,706.5 1938.7,722.6 1938.9,719.8 1939.0,704.2 1939.2,701.4 1939.4,715.4 1939.6,728.3 1939.7,727.0 1939.9,721.2 1940.1,685.8 1940.3,717.1 1940.5,714.6 1940.6,719.3 1940.8,709.6 1941.0,718.4 1941.2,715.9 1941.4,753.2 1941.5,731.0 1941.7,721.1 1941.9,722.7 1942.1,722.0 1942.2,725.4 1942.4,719.0 1942.6,723.4 1942.8,735.2 1943.0,733.3 1943.1,727.8 1943.3,739.3 1943.5,727.4 1943.7,714.4 1943.8,706.2 1944.0,718.0 1944.2,725.1 1944.4,730.3 1944.6,737.8 1944.7,719.6 1944.9,716.9 1945.1,734.2 1945.3,738.5 1945.5,720.1 1945.6,728.8 1945.8,740.1 1946.0,728.2 1946.2,723.9 1946.3,701.4 1946.5,738.8 1946.7,731.1 1946.9,725.3 1947.1,718.7 1947.2,709.9 1947.4,722.4 1947.6,722.2 1947.8,735.3 1947.9,709.7 1948.1,738.8 1948.3,723.1 1948.5,735.6 1948.7,711.7 1948.8,726.1 1949.0,735.6 1949.2,723.3 1949.4,695.9 1949.6,718.4 1949.7,728.0 1949.9,706.9 1950.1,706.5 1950.3,725.2 1950.4,712.4 1950.6,730.5 1950.8,710.3 1951.0,703.2 1951.2,715.0 1951.3,740.0 1951.5,714.1 1951.7,723.5 1951.9,726.2 1952.1,713.0 1952.2,735.2 1952.4,725.0 1952.6,727.8 1952.8,704.2 1952.9,703.3 1953.1,692.1 1953.3,720.2 1953.5,719.7 1953.7,730.2 1953.8,738.7 1954.0,719.8 1954.2,720.0 1954.4,728.2 1954.5,740.5 1954.7,715.2 1954.9,731.7 1955.1,722.8 1955.3,722.5 1955.4,735.9 1955.6,719.1 1955.8,716.8 1956.0,736.6 1956.2,729.8 1956.3,728.0 1956.5,730.1 1956.7,737.6 1956.9,728.7 1957.0,741.6 1957.2,738.1 1957.4,750.1 1957.6,747.8 1957.8,743.3 1957.9,731.6 1958.1,734.8 1958.3,726.6 1958.5,763.9 1958.7,729.6 1958.8,737.5 1959.0,745.6 1959.2,715.0 1959.4,720.2 1959.5,724.3 1959.7,717.1 1959.9,713.6 1960.1,717.7 1960.3,740.9 1960.4,734.5 1960.6,726.9 1960.8,726.9 1961.0,708.7 1961.1,734.8 1961.3,732.3 1961.5,716.3 1961.7,731.0 1961.9,725.7 1962.0,724.2 1962.2,719.5 1962.4,723.4 1962.6,720.9 1962.8,736.5 1962.9,735.6 1963.1,735.2 1963.3,729.6 1963.5,727.0 1963.6,753.6 1963.8,710.5 1964.0,743.7 1964.2,734.1 1964.4,730.6 1964.5,723.9 1964.7,726.8 1964.9,716.0 1965.1,713.8 1965.2,727.7 1965.4,711.0 1965.6,738.6 1965.8,742.0 1966.0,692.7 1966.1,714.0 1966.3,734.7 1966.5,734.8 1966.7,734.6 1966.9,738.9 1967.0,743.3 1967.2,745.5 1967.4,756.4 1967.6,738.0 1967.7,747.8 1967.9,721.3 1968.1,738.1 1968.3,726.6 1968.5,755.5 1968.6,766.0 1968.8,746.5 1969.0,726.4 1969.2,739.2 1969.4,740.6 1969.5,742.2 1969.7,751.7 1969.9,749.8 1970.1,710.2 1970.2,753.6 1970.4,732.9 1970.6,731.9 1970.8,753.1 1971.0,734.5 1971.1,722.3 1971.3,722.6 1971.5,737.6 1971.7,746.9 1971.8,753.5 1972.0,735.4 1972.2,732.4 1972.4,755.5 1972.6,733.2 1972.7,754.5 1972.9,741.6 1973.1,742.1 1973.3,737.5 1973.5,743.8 1973.6,736.0 1973.8,734.2 1974.0,740.7 1974.2,735.6 1974.3,746.4 1974.5,744.5 1974.7,741.2 1974.9,742.4 1975.1,742.5 1975.2,764.4 1975.4,745.8 1975.6,739.9 1975.8,743.6 1976.0,754.4 1976.1,745.5 1976.3,746.5 1976.5,745.8 1976.7,750.9 1976.8,753.8 1977.0,754.9 1977.2,721.9 1977.4,739.4 1977.6,722.9 1977.7,760.5 1977.9,764.2 1978.1,766.6 1978.3,754.4 1978.4,765.5 1978.6,752.9 1978.8,752.1 1979.0,736.9 1979.2,745.3 1979.3,747.4 1979.5,763.9 1979.7,772.1 1979.9,749.2 1980.1,758.4 1980.2,757.6 1980.4,746.5 1980.6,736.5 1980.8,747.2 1980.9,740.2 1981.1,752.6 1981.3,754.8 1981.5,754.8 1981.7,755.2 1981.8,762.5 1982.0,747.5 1982.2,767.3 1982.4,739.8 1982.5,758.5 1982.7,762.0 1982.9,749.1 1983.1,740.2 1983.3,764.1 1983.4,749.6 1983.6,764.9 1983.8,764.3 1984.0,755.5 1984.2,755.0 1984.3,765.2 1984.5,758.2 1984.7,743.6 1984.9,755.1 1985.0,759.0 1985.2,754.9 1985.4,754.6 1985.6,750.9 1985.8,751.2 1985.9,742.4 1986.1,737.2 1986.3,764.8 1986.5,746.0 1986.7,755.4 1986.8,737.1 1987.0,755.1 1987.2,744.6 1987.4,785.5 1987.5,742.7 1987.7,743.3 1987.9,763.7 1988.1,765.7 1988.3,730.7 1988.4,755.8 1988.6,762.3 1988.8,739.5 1989.0,759.6 1989.1,746.4 1989.3,741.0 1989.5,747.7 1989.7,746.3 1989.9,736.2 1990.0,774.9 1990.2,746.1 1990.4,743.0 1990.6,760.2 1990.8,750.5 1990.9,765.8 1991.1,749.0 1991.3,756.0 1991.5,753.7 1991.6,755.0 1991.8,751.5 1992.0,753.2 1992.2,772.8 1992.4,748.3 1992.5,750.4 1992.7,753.2 1992.9,763.7 1993.1,762.6 1993.2,769.0 1993.4,745.6 1993.6,763.4 1993.8,759.6 1994.0,759.2 1994.1,764.9 1994.3,743.0 1994.5,767.8 1994.7,767.3 1994.9,751.4 1995.0,766.4 1995.2,784.7 1995.4,765.0 1995.6,776.2 1995.7,768.3 1995.9,762.8 1996.1,756.4 1996.3,768.7 1996.5,787.3 1996.6,782.8 1996.8,767.2 1997.0,785.8 1997.2,774.3 1997.4,768.7 1997.5,780.9 1997.7,766.9 1997.9,760.0 1998.1,790.4 1998.2,757.2 1998.4,785.3 1998.6,759.9 1998.8,775.2 1999.0,772.9 1999.1,769.7 1999.3,750.5 1999.5,771.7 1999.7,771.6 1999.8,761.6 2000.0,769.5 2000.2,779.9 2000.4,760.9 2000.6,770.4 2000.7,754.7 2000.9,770.1 2001.1,772.1 2001.3,790.7 2001.5,773.5 2001.6,767.8 2001.8,777.5 2002.0,751.6 2002.2,772.9 2002.3,755.4 2002.5,754.1 2002.7,778.5 2002.9,762.3 2003.1,773.5 2003.2,744.1 2003.4,762.0 2003.6,753.4 2003.8,756.0 2004.0,738.9 2004.1,768.8 2004.3,761.3 2004.5,748.9 2004.7,745.4 2004.8,750.7 2005.0,774.9 2005.2,759.6 2005.4,757.5 2005.6,766.6 2005.7,762.0 2005.9,764.8 2006.1,770.5 2006.3,766.6 2006.4,772.6 2006.6,751.2 2006.8,764.6 2007.0,760.3 2007.2,765.3 2007.3,763.8 2007.5,757.6 2007.7,760.6 2007.9,774.2 2008.1,758.5 2008.2,751.4 2008.4,770.7 2008.6,774.7 2008.8,762.0 2008.9,766.4 2009.1,756.6 2009.3,763.6 2009.5,777.7 2009.7,774.9 2009.8,768.6 2010.0,764.6 2010.2,751.0 2010.4,771.7 2010.5,773.6 2010.7,780.2 2010.9,790.6 2011.1,773.9 2011.3,780.3 2011.4,759.0 2011.6,783.4 2011.8,780.1 2012.0,785.5 2012.2,778.6 2012.3,776.5 2012.5,787.4 2012.7,765.4 2012.9,779.1 2013.0,783.9 2013.2,764.7 2013.4,761.1 2013.6,777.7 2013.8,774.6 2013.9,779.7 2014.1,780.2 2014.3,765.8 2014.5,777.3 2014.7,785.5 2014.8,770.3 2015.0,771.2 2015.2,762.6 2015.4,782.9 2015.5,794.8 2015.7,760.9 2015.9,783.2 2016.1,785.0 2016.3,770.4 2016.4,772.8 2016.6,766.4 2016.8,769.7 2017.0,780.1 2017.1,785.7 2017.3,780.8 2017.5,789.0 2017.7,782.9 2017.9,769.3 2018.0,796.8 2018.2,794.5 2018.4,775.5 2018.6,801.4 2018.8,788.3 2018.9,785.1 2019.1,803.5 2019.3,758.3 2019.5,767.4 2019.6,791.1 2019.8,781.1 2020.0,773.6 2020.2,798.5 2020.4,787.6 2020.5,769.1 2020.7,774.9 2020.9,789.9 2021.1,799.0 2021.3,759.7 2021.4,782.3 2021.6,775.4 2021.8,761.1 2022.0,777.0 2022.1,762.0 2022.3,772.8 2022.5,794.8 2022.7,783.5 2022.9,786.3 2023.0,784.6 2023.2,782.3 2023.4,788.9 2023.6,767.3 2023.7,775.8 2023.9,788.6 2024.1,772.8 2024.3,776.2 2024.5,793.4 2024.6,797.2 2024.8,775.7 2025.0,774.0 2025.2,788.7 2025.4,785.9 2025.5,776.5 2025.7,789.8 2025.9,789.7 2026.1,785.1 2026.2,814.5 2026.4,798.5 2026.6,793.0 2026.8,795.2 2027.0,815.0 2027.1,796.0 2027.3,777.3 2027.5,787.9 2027.7,785.3 2027.8,778.7 2028.0,787.2 2028.2,787.1 2028.4,784.0 2028.6,779.6 2028.7,793.2 2028.9,768.6 2029.1,793.5 2029.3,785.5 2029.5,788.5 2029.6,761.8 2029.8,803.7 2030.0,769.3 2030.2,778.7 2030.3,794.8 2030.5,782.7 2030.7,783.2 2030.9,767.6 2031.1,786.8 2031.2,794.3 2031.4,800.1 2031.6,791.2 2031.8,797.4 2032.0,800.8 2032.1,790.5 2032.3,790.9 2032.5,819.7 2032.7,792.1 2032.8,814.5 2033.0,803.7 2033.2,819.1 2033.4,798.5 2033.6,811.2 2033.7,810.1 2033.9,805.2 2034.1,811.3 2034.3,800.8 2034.4,808.2 2034.6,805.1 2034.8,817.1 2035.0,808.4 2035.2,795.0 2035.3,805.1 2035.5,807.5 2035.7,798.8 2035.9,821.1 2036.1,811.0 2036.2,814.7 2036.4,797.6 2036.6,800.6 2036.8,814.2 2036.9,788.6 2037.1,806.3 2037.3,802.8 2037.5,796.3 2037.7,801.8 2037.8,783.3 2038.0,802.6 2038.2,787.7 2038.4,787.1 2038.6,814.4 2038.7,793.2 2038.9,779.1 2039.1,810.9 2039.3,793.5 2039.4,765.9 2039.6,801.7 2039.8,812.3 2040.0,806.9 2040.2,821.3 2040.3,803.0 2040.5,810.7 2040.7,794.7 2040.9,806.9 2041.0,821.0 2041.2,810.6 2041.4,807.1 2041.6,785.2 2041.8,801.4 2041.9,791.9 2042.1,812.7 2042.3,796.9 2042.5,807.9 2042.7,793.7 2042.8,834.7 2043.0,791.5 2043.2,804.6 2043.4,829.9 2043.5,805.2 2043.7,794.2 2043.9,809.4 2044.1,813.4 2044.3,812.4 2044.4,783.8 2044.6,806.4 2044.8,783.0 2045.0,824.4 2045.1,806.4 2045.3,801.6 2045.5,813.8 2045.7,812.6 2045.9,796.4 2046.0,825.8 2046.2,807.6 2046.4,793.0 2046.6,826.1 2046.8,828.3 2046.9,826.3 2047.1,819.9 2047.3,806.0 2047.5,831.4 2047.6,835.3 2047.8,825.2 2048.0,833.6 2048.2,809.6 2048.4,828.0 2048.5,827.2 2048.7,802.4 2048.9,800.8 2049.1,809.8 2049.3,817.6 2049.4,821.0 2049.6,813.6 2049.8,814.8 2050.0,813.9 2050.1,815.5 2050.3,820.2 2050.5,818.9 2050.7,813.0 2050.9,815.9 2051.0,808.4 2051.2,820.8 2051.4,807.4 2051.6,829.1 2051.7,811.9 2051.9,814.8 2052.1,804.1 2052.3,808.1 2052.5,813.2 2052.6,811.5 2052.8,804.8 2053.0,799.1 2053.2,811.1 2053.4,812.1 2053.5,815.9 2053.7,822.9 2053.9,806.8 2054.1,789.6 2054.2,808.3 2054.4,790.9 2054.6,796.5 2054.8,820.1 2055.0,815.3 2055.1,803.0 2055.3,803.1 2055.5,808.7 2055.7,791.8 2055.9,814.7 2056.0,806.3 2056.2,828.8 2056.4,799.3 2056.6,820.5 2056.7,803.5 2056.9,821.0 2057.1,800.9 2057.3,818.6 2057.5,806.8 2057.6,803.2 2057.8,810.3 2058.0,817.0 2058.2,816.5 2058.3,828.8 2058.5,821.3 2058.7,786.4 2058.9,809.5 2059.1,793.5 2059.2,810.1 2059.4,820.6 2059.6,800.9 2059.8,802.7 2060.0,816.5 2060.1,812.3 2060.3,831.6 2060.5,819.0 2060.7,821.4 2060.8,834.0 2061.0,811.4 2061.2,816.8 2061.4,807.0 2061.6,820.0 2061.7,828.3 2061.9,832.0 2062.1,818.1 2062.3,811.6 2062.4,811.4 2062.6,805.4 2062.8,821.2 2063.0,834.1 2063.2,796.6 2063.3,798.9 2063.5,835.5 2063.7,805.2 2063.9,825.1 2064.1,809.2 2064.2,830.1 2064.4,830.3 2064.6,824.1 2064.8,830.9 2064.9,823.1 2065.1,828.4 2065.3,841.3 2065.5,833.9 2065.7,816.1 2065.8,814.6 2066.0,820.3 2066.2,820.4 2066.4,823.4 2066.6,816.4 2066.7,829.1 2066.9,822.7 2067.1,825.9 2067.3,822.2 2067.4,828.2 2067.6,809.7 2067.8,847.8 2068.0,825.1 2068.2,826.1 2068.3,827.7 2068.5,832.4 2068.7,828.9 2068.9,823.9 2069.0,819.7 2069.2,804.9 2069.4,823.8 2069.6,818.6 2069.8,818.7 2069.9,846.4 2070.1,803.4 2070.3,823.0 2070.5,834.9 2070.7,832.6 2070.8,835.7 2071.0,810.6 2071.2,814.1 2071.4,830.5 2071.5,821.6 2071.7,842.5 2071.9,828.0 2072.1,828.3 2072.3,831.4 2072.4,825.0 2072.6,829.7 2072.8,822.5 2073.0,829.9 2073.2,826.3 2073.3,834.8 2073.5,818.8 2073.7,819.0 2073.9,839.7 2074.0,838.3 2074.2,827.2 2074.4,835.5 2074.6,828.0 2074.8,859.9 2074.9,824.1 2075.1,857.7 2075.3,832.5 2075.5,845.5 2075.6,838.8 2075.8,837.8 2076.0,851.2 2076.2,850.0 2076.4,838.8 2076.5,832.5 2076.7,862.4 2076.9,855.5 2077.1,842.5 2077.3,837.8 2077.4,843.4 2077.6,840.9 2077.8,851.7 2078.0,829.5 2078.1,838.9 2078.3,830.3 2078.5,850.9 2078.7,855.4 2078.9,835.8 2079.0,841.7 2079.2,849.9 2079.4,832.3 2079.6,825.6 2079.7,845.1 2079.9,839.5 2080.1,832.1 2080.3,848.7 2080.5,836.2 2080.6,815.7 2080.8,837.0 2081.0,832.7 2081.2,852.0 2081.4,832.7 2081.5,830.4 2081.7,836.4 2081.9,834.0 2082.1,816.7 2082.2,831.3 2082.4,826.0 2082.6,842.5 2082.8,851.5 2083.0,815.1 2083.1,815.5 2083.3,815.6 2083.5,816.3 2083.7,814.9 2083.9,821.4 2084.0,830.8 2084.2,806.0 2084.4,802.8 2084.6,799.2 2084.7,828.3 2084.9,830.3 2085.1,801.5 2085.3,800.6 2085.5,818.5 2085.6,828.6 2085.8,828.5 2086.0,821.0 2086.2,826.9 2086.3,824.4 2086.5,816.8 2086.7,842.9 2086.9,825.2 2087.1,815.6 2087.2,823.7 2087.4,814.6 2087.6,832.6 2087.8,844.4 2088.0,822.4 2088.1,848.0 2088.3,859.2 2088.5,843.5 2088.7,829.5 2088.8,833.8 2089.0,840.1 2089.2,831.7 2089.4,832.9 2089.6,843.5 2089.7,844.9 2089.9,853.3 2090.1,835.7 2090.3,866.7 2090.5,858.8 2090.6,857.3 2090.8,842.0 2091.0,866.0 2091.2,845.3 2091.3,867.0 2091.5,859.6 2091.7,840.0 2091.9,844.5 2092.1,867.9 2092.2,859.3 2092.4,847.8 2092.6,851.5 2092.8,851.5 2092.9,841.9 2093.1,847.8 2093.3,843.3 2093.5,845.8 2093.7,854.9 2093.8,840.9 2094.0,858.0 2094.2,852.1 2094.4,858.9 2094.6,860.6 2094.7,864.5 2094.9,858.8 2095.1,860.0 2095.3,851.5 2095.4,859.3 2095.6,844.9 2095.8,851.7 2096.0,861.7 2096.2,853.7 2096.3,858.5 2096.5,837.6 2096.7,867.1 2096.9,847.2 2097.0,856.3 2097.2,851.4 2097.4,860.2 2097.6,846.3 2097.8,839.3 2097.9,829.5 2098.1,844.5 2098.3,834.9 2098.5,851.4 2098.7,859.7 2098.8,822.7 2099.0,831.5 2099.2,847.1 2099.4,856.1 2099.5,846.8 2099.7,847.0 2099.9,848.9 2100.1,849.8 2100.3,860.8 2100.4,851.0 2100.6,833.0 2100.8,841.3 2101.0,848.7 2101.2,839.3 2101.3,845.6 2101.5,843.7 2101.7,842.8 2101.9,857.6 2102.0,847.7 2102.2,841.5 2102.4,846.1 2102.6,854.4 2102.8,875.8 2102.9,858.1 2103.1,870.9 2103.3,861.6 2103.5,835.8 2103.6,861.4 2103.8,849.5 2104.0,844.7 2104.2,847.6 2104.4,876.2 2104.5,842.7 2104.7,852.2 2104.9,869.8 2105.1,864.8 2105.3,841.0 2105.4,856.8 2105.6,852.7 2105.8,855.8 2106.0,865.1 2106.1,851.9 2106.3,854.5 2106.5,872.3 2106.7,839.6 2106.9,854.4 2107.0,863.0 2107.2,846.2 2107.4,852.6 2107.6,846.1 2107.8,861.1 2107.9,853.7 2108.1,868.0 2108.3,870.6 2108.5,861.2 2108.6,857.1 2108.8,863.6 2109.0,861.7 2109.2,849.0 2109.4,871.6 2109.5,863.0 2109.7,868.3 2109.9,846.6 2110.1,868.5 2110.2,880.2 2110.4,865.0 2110.6,844.0 2110.8,858.3 2111.0,856.9 2111.1,859.3 2111.3,854.6 2111.5,861.6 2111.7,851.9 2111.9,858.8 2112.0,849.7 2112.2,857.6 2112.4,866.8 2112.6,852.3 2112.7,864.1 2112.9,849.1 2113.1,854.6 2113.3,856.3 2113.5,871.4 2113.6,851.7 2113.8,871.6 2114.0,845.2 2114.2,858.2 2114.3,868.8 2114.5,866.5 2114.7,849.4 2114.9,847.0 2115.1,867.5 2115.2,845.9 2115.4,863.8 2115.6,852.5 2115.8,857.2 2116.0,879.9 2116.1,872.0 2116.3,864.7 2116.5,842.6 2116.7,859.3 2116.8,856.6 2117.0,855.1 2117.2,869.4 2117.4,839.2 2117.6,859.4 2117.7,857.6 2117.9,849.0 2118.1,884.3 2118.3,843.9 2118.5,856.6 2118.6,857.1 2118.8,834.4 2119.0,841.8 2119.2,846.2 2119.3,863.5 2119.5,864.9 2119.7,861.4 2119.9,857.9 2120.1,833.9 2120.2,858.0 2120.4,851.1 2120.6,868.2 2120.8,870.5 2120.9,879.9 2121.1,865.6 2121.3,867.4 2121.5,850.0 2121.7,861.9 2121.8,849.7 2122.0,871.6 2122.2,851.7 2122.4,862.1 2122.6,856.8 2122.7,860.8 2122.9,870.4 2123.1,860.6 2123.3,868.6 2123.4,856.7 2123.6,880.6 2123.8,860.6 2124.0,877.1 2124.2,888.4 2124.3,843.4 2124.5,858.0 2124.7,866.1 2124.9,880.2 2125.1,864.4 2125.2,873.7 2125.4,863.5 2125.6,877.3 2125.8,860.7 2125.9,882.1 2126.1,845.4 2126.3,857.5 2126.5,895.4 2126.7,880.3 2126.8,870.9 2127.0,902.7 2127.2,892.4 2127.4,894.1 2127.5,879.5 2127.7,890.5 2127.9,889.9 2128.1,868.8 2128.3,891.3 2128.4,883.6 2128.6,898.1 2128.8,898.0 2129.0,878.2 2129.2,878.0 2129.3,885.2 2129.5,888.9 2129.7,877.4 2129.9,879.3 2130.0,885.3 2130.2,882.3 2130.4,888.4 2130.6,878.0 2130.8,865.6 2130.9,855.6 2131.1,880.0 2131.3,867.5 2131.5,866.4 2131.6,866.0 2131.8,852.5 2132.0,863.5 2132.2,841.1 2132.4,862.5 2132.5,857.4 2132.7,884.4 2132.9,870.7 2133.1,864.3 2133.3,868.3 2133.4,874.3 2133.6,860.1 2133.8,865.8 2134.0,865.2 2134.1,894.0 2134.3,870.8 2134.5,839.9 2134.7,879.3 2134.9,897.8 2135.0,863.3 2135.2,908.0 2135.4,873.4 2135.6,884.6 2135.8,869.6 2135.9,873.1 2136.1,864.0 2136.3,866.2 2136.5,855.8 2136.6,888.8 2136.8,866.2 2137.0,881.5 2137.2,881.2 2137.4,871.5 2137.5,878.4 2137.7,876.8 2137.9,872.6 2138.1,877.8 2138.2,877.5 2138.4,866.4 2138.6,863.3 2138.8,867.4 2139.0,876.6 2139.1,888.8 2139.3,889.3 2139.5,877.5 2139.7,883.5 2139.9,875.1 2140.0,884.7 2140.2,874.8 2140.4,877.4 2140.6,870.6 2140.7,873.4 2140.9,892.4 2141.1,861.6 2141.3,873.6 2141.5,867.8 2141.6,883.3 2141.8,891.9 2142.0,870.8 2142.2,846.4 2142.4,880.3 2142.5,880.4 2142.7,857.6 2142.9,872.2 2143.1,874.1 2143.2,852.0 2143.4,882.0 2143.6,879.9 2143.8,878.2 2144.0,865.6 2144.1,869.4 2144.3,870.5 2144.5,882.0 2144.7,867.7 2144.8,892.4 2145.0,881.9 2145.2,856.7 2145.4,895.4 2145.6,880.4 2145.7,873.5 2145.9,880.2 2146.1,861.1 2146.3,881.3 2146.5,855.0 2146.6,869.4 2146.8,893.3 2147.0,892.5 2147.2,876.6 2147.3,870.5 2147.5,889.7 2147.7,880.1 2147.9,882.9 2148.1,887.3 2148.2,870.6 2148.4,889.6 2148.6,860.8 2148.8,896.9 2148.9,866.8 2149.1,876.5 2149.3,876.2 2149.5,890.3 2149.7,890.6 2149.8,886.7 2150.0,888.5 2150.2,887.6 2150.4,882.1 2150.6,863.5 2150.7,859.3 2150.9,859.1 2151.1,881.4 2151.3,879.3 2151.4,880.0 2151.6,883.5 2151.8,878.8 2152.0,871.1 2152.2,866.1 2152.3,862.2 2152.5,893.5 2152.7,890.5 2152.9,868.2 2153.1,879.2 2153.2,886.6 2153.4,898.5 2153.6,876.8 2153.8,884.9 2153.9,895.0"/>
<g stroke="#000" stroke-width="4.6" fill="none" stroke-linecap="butt"><path d="M370.5,1386.5 V47.8 H2154.0 V1386.5"/><path d="M343.5,1358.2 H2154.0"/></g>
<g stroke="#000" stroke-width="4.2" fill="none"><path d="M343.5,1212.6 H370.5"/><path d="M343.5,1067.0 H370.5"/><path d="M343.5,921.4 H370.5"/><path d="M343.5,775.8 H370.5"/><path d="M343.5,630.2 H370.5"/><path d="M343.5,484.6 H370.5"/><path d="M343.5,339.0 H370.5"/><path d="M343.5,193.4 H370.5"/><path d="M357.2,1285.4 H370.5"/><path d="M357.2,1139.8 H370.5"/><path d="M357.2,994.2 H370.5"/><path d="M357.2,848.6 H370.5"/><path d="M357.2,703.0 H370.5"/><path d="M357.2,557.4 H370.5"/><path d="M357.2,411.8 H370.5"/><path d="M357.2,266.2 H370.5"/><path d="M357.2,120.6 H370.5"/><path d="M667.8,1358.2 V1386.5"/><path d="M965.0,1358.2 V1386.5"/><path d="M1262.2,1358.2 V1386.5"/><path d="M1559.5,1358.2 V1386.5"/><path d="M1856.8,1358.2 V1386.5"/><path d="M519.1,1358.2 V1371.4"/><path d="M816.4,1358.2 V1371.4"/><path d="M1113.6,1358.2 V1371.4"/><path d="M1410.9,1358.2 V1371.4"/><path d="M1708.1,1358.2 V1371.4"/><path d="M2005.4,1358.2 V1371.4"/></g>
<path d="M343.5,47.8 H370.5" stroke="#000" stroke-width="2.4"/>
<text class="tk" x="336.6" y="1232.6" text-anchor="end">20,000</text><text class="tk" x="336.6" y="1087.0" text-anchor="end">40,000</text><text class="tk" x="336.6" y="941.4" text-anchor="end">60,000</text><text class="tk" x="336.6" y="795.8" text-anchor="end">80,000</text><text class="tk" x="340.1" y="650.2" text-anchor="end">100,000</text><text class="tk" x="340.1" y="504.6" text-anchor="end">120,000</text><text class="tk" x="340.1" y="359.0" text-anchor="end">140,000</text><text class="tk" x="340.1" y="213.4" text-anchor="end">160,000</text><text class="tk" x="340.1" y="67.8" text-anchor="end">180,000</text><text class="tk" x="327.7" y="1381.6" text-anchor="end">0</text>
<text class="tk" x="370.9" y="1451.6" text-anchor="middle">0</text><text class="tk" x="672.0" y="1451.6" text-anchor="middle">200</text><text class="tk" x="969.2" y="1451.6" text-anchor="middle">400</text><text class="tk" x="1266.5" y="1451.6" text-anchor="middle">600</text><text class="tk" x="1563.7" y="1451.6" text-anchor="middle">800</text><text class="tk" x="1861.0" y="1451.6" text-anchor="middle">1000</text><text class="tk" x="2158.2" y="1451.6" text-anchor="middle">1200</text>
<text class="ti" x="930" y="1567.4">Binding energy (eV)</text>
<text class="ti" transform="translate(92.3,834) rotate(-90)">Counts/Sec</text>
<text class="pk" transform="translate(424.4,1264.6) rotate(-90)">F 2s</text><text class="pk" transform="translate(412.3,1164.3) rotate(-90)">Zn 3d</text><text class="pk" transform="translate(463.0,1226.1) rotate(-90)">Mn 3p</text><text class="pk" transform="translate(521.0,1230.1) rotate(-90)">Mn 3s</text><text class="pk" transform="translate(591.8,1247.1) rotate(-90)">Zn 3s</text><text class="pk" transform="translate(808.5,1170.4) rotate(-90)">C 1s</text><text class="pk" transform="translate(1087.5,1223.3) rotate(-90)">Zn Auger</text><text class="pk" transform="translate(1133.0,1132.2) rotate(-90)">Zn LMM</text><text class="pk" transform="translate(1177.2,1039.5) rotate(-90)">O 1s</text><text class="pk" transform="translate(1255.2,1129.6) rotate(-90)">Zn Auger</text><text class="pk" transform="translate(1330.3,818.4) rotate(-90)">Mn 2p2/3</text><text class="pk" transform="translate(1370.2,847.0) rotate(-90)">Mn 2p1/3</text><text class="pk" transform="translate(1403.3,153.5) rotate(-90)">F 1s</text><text class="pk" transform="translate(1441.6,849.6) rotate(-90)">F loss</text><text class="pk" transform="translate(1534.5,839.2) rotate(-90)">Mn 2s</text><text class="pk" transform="translate(1614.0,500.2) rotate(-90)">F KLL</text><text class="pk" transform="translate(1659.1,648.8) rotate(-90)">Mn LMM</text><text class="pk" transform="translate(1730.9,648.8) rotate(-90)">Mn LMM</text><text class="pk" transform="translate(1839.4,609.5) rotate(-90)">O KLL</text><text class="pk" transform="translate(1901.8,457.4) rotate(-90)">Zn 2p3</text><text class="pk" transform="translate(1940.2,598.0) rotate(-90)">Zn 2p1</text>
</svg>
</body></html>
